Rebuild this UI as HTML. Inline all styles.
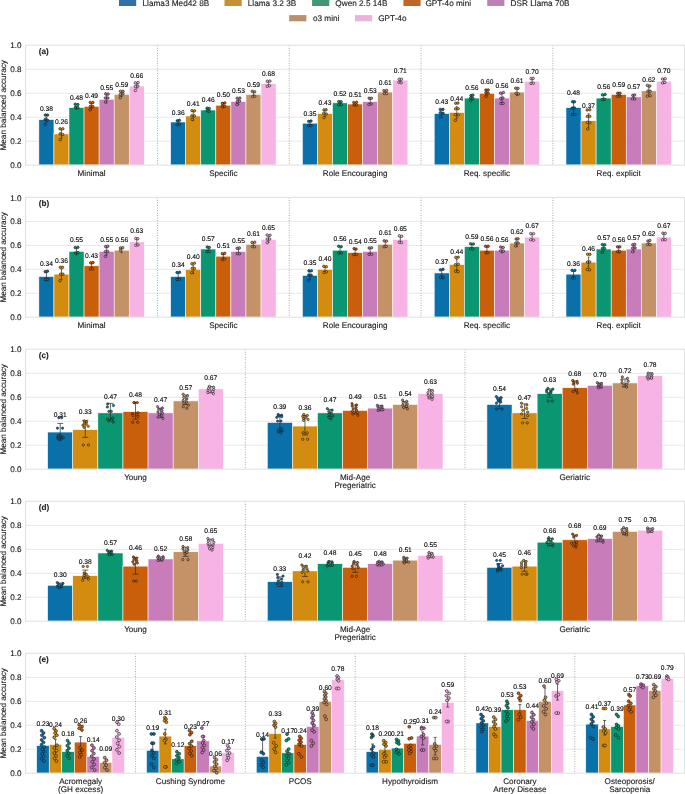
<!DOCTYPE html><html><head><meta charset="utf-8"><style>html,body{margin:0;padding:0;background:#fff;width:685px;height:794px;overflow:hidden}svg{display:block;will-change:transform}text{font-family:"Liberation Sans",sans-serif;text-rendering:geometricPrecision;stroke:currentColor;stroke-width:0.12px}</style></head><body>
<svg width="685" height="794" viewBox="0 0 685 794">
<rect width="685" height="794" fill="#fff"/>
<rect x="119.0" y="-0.2" width="17.2" height="6.2" fill="#3470a3"/>
<text x="142.5" y="5.7" font-size="8.23" fill="#1a1a1a" style="color:#1a1a1a">Llama3 Med42 8B</text>
<rect x="224.5" y="-0.2" width="17.2" height="6.2" fill="#c68f38"/>
<text x="247.79999999999998" y="5.7" font-size="8.23" fill="#1a1a1a" style="color:#1a1a1a">Llama 3.2 3B</text>
<rect x="312.1" y="-0.2" width="17.2" height="6.2" fill="#469574"/>
<text x="335.3" y="5.7" font-size="8.23" fill="#1a1a1a" style="color:#1a1a1a">Qwen 2.5 14B</text>
<rect x="403.4" y="-0.2" width="17.2" height="6.2" fill="#bf6629"/>
<text x="425.40000000000003" y="5.7" font-size="8.23" fill="#1a1a1a" style="color:#1a1a1a">GPT-4o mini</text>
<rect x="487.2" y="-0.2" width="17.2" height="6.2" fill="#bd80b6"/>
<text x="510.6" y="5.7" font-size="8.23" fill="#1a1a1a" style="color:#1a1a1a">DSR Llama 70B</text>
<rect x="289.2" y="15.1" width="17.2" height="6.2" fill="#bb8f6a"/>
<text x="312.90000000000003" y="21.0" font-size="8.23" fill="#1a1a1a" style="color:#1a1a1a">o3 mini</text>
<rect x="355.0" y="15.1" width="17.2" height="6.2" fill="#ecb2de"/>
<text x="378.20000000000005" y="21.0" font-size="8.23" fill="#1a1a1a" style="color:#1a1a1a">GPT-4o</text>
<line x1="25.7" x2="684.6" y1="141.16" y2="141.16" stroke="#e6e6e6" stroke-width="0.9"/>
<line x1="25.7" x2="684.6" y1="117.22" y2="117.22" stroke="#e6e6e6" stroke-width="0.9"/>
<line x1="25.7" x2="684.6" y1="93.28" y2="93.28" stroke="#e6e6e6" stroke-width="0.9"/>
<line x1="25.7" x2="684.6" y1="69.34" y2="69.34" stroke="#e6e6e6" stroke-width="0.9"/>
<line x1="157.48" x2="157.48" y1="45.4" y2="165.1" stroke="#8a8a8a" stroke-width="0.8" stroke-dasharray="0.9 1.6"/>
<line x1="289.26" x2="289.26" y1="45.4" y2="165.1" stroke="#8a8a8a" stroke-width="0.8" stroke-dasharray="0.9 1.6"/>
<line x1="421.04" x2="421.04" y1="45.4" y2="165.1" stroke="#8a8a8a" stroke-width="0.8" stroke-dasharray="0.9 1.6"/>
<line x1="552.82" x2="552.82" y1="45.4" y2="165.1" stroke="#8a8a8a" stroke-width="0.8" stroke-dasharray="0.9 1.6"/>
<rect x="38.88" y="119.61" width="15.06" height="45.49" fill="#0a70a9" stroke="#fff" stroke-width="0.55"/>
<rect x="53.94" y="133.98" width="15.06" height="31.12" fill="#d38c10" stroke="#fff" stroke-width="0.55"/>
<rect x="69.00" y="107.64" width="15.06" height="57.46" fill="#0a9670" stroke="#fff" stroke-width="0.55"/>
<rect x="84.06" y="106.45" width="15.06" height="58.65" fill="#ca5f0b" stroke="#fff" stroke-width="0.55"/>
<rect x="99.12" y="99.27" width="15.06" height="65.83" fill="#c87cb9" stroke="#fff" stroke-width="0.55"/>
<rect x="114.18" y="94.48" width="15.06" height="70.62" fill="#c59166" stroke="#fff" stroke-width="0.55"/>
<rect x="129.24" y="86.10" width="15.06" height="79.00" fill="#f7b3e3" stroke="#fff" stroke-width="0.55"/>
<rect x="170.66" y="122.01" width="15.06" height="43.09" fill="#0a70a9" stroke="#fff" stroke-width="0.55"/>
<rect x="185.72" y="116.02" width="15.06" height="49.08" fill="#d38c10" stroke="#fff" stroke-width="0.55"/>
<rect x="200.78" y="110.04" width="15.06" height="55.06" fill="#0a9670" stroke="#fff" stroke-width="0.55"/>
<rect x="215.84" y="105.25" width="15.06" height="59.85" fill="#ca5f0b" stroke="#fff" stroke-width="0.55"/>
<rect x="230.90" y="101.66" width="15.06" height="63.44" fill="#c87cb9" stroke="#fff" stroke-width="0.55"/>
<rect x="245.96" y="94.48" width="15.06" height="70.62" fill="#c59166" stroke="#fff" stroke-width="0.55"/>
<rect x="261.02" y="83.70" width="15.06" height="81.40" fill="#f7b3e3" stroke="#fff" stroke-width="0.55"/>
<rect x="302.44" y="123.20" width="15.06" height="41.89" fill="#0a70a9" stroke="#fff" stroke-width="0.55"/>
<rect x="317.50" y="113.63" width="15.06" height="51.47" fill="#d38c10" stroke="#fff" stroke-width="0.55"/>
<rect x="332.56" y="102.86" width="15.06" height="62.24" fill="#0a9670" stroke="#fff" stroke-width="0.55"/>
<rect x="347.62" y="104.05" width="15.06" height="61.05" fill="#ca5f0b" stroke="#fff" stroke-width="0.55"/>
<rect x="362.68" y="101.66" width="15.06" height="63.44" fill="#c87cb9" stroke="#fff" stroke-width="0.55"/>
<rect x="377.74" y="92.08" width="15.06" height="73.02" fill="#c59166" stroke="#fff" stroke-width="0.55"/>
<rect x="392.80" y="80.11" width="15.06" height="84.99" fill="#f7b3e3" stroke="#fff" stroke-width="0.55"/>
<rect x="434.22" y="113.63" width="15.06" height="51.47" fill="#0a70a9" stroke="#fff" stroke-width="0.55"/>
<rect x="449.28" y="112.43" width="15.06" height="52.67" fill="#d38c10" stroke="#fff" stroke-width="0.55"/>
<rect x="464.34" y="98.07" width="15.06" height="67.03" fill="#0a9670" stroke="#fff" stroke-width="0.55"/>
<rect x="479.40" y="93.28" width="15.06" height="71.82" fill="#ca5f0b" stroke="#fff" stroke-width="0.55"/>
<rect x="494.46" y="98.07" width="15.06" height="67.03" fill="#c87cb9" stroke="#fff" stroke-width="0.55"/>
<rect x="509.52" y="92.08" width="15.06" height="73.02" fill="#c59166" stroke="#fff" stroke-width="0.55"/>
<rect x="524.58" y="81.31" width="15.06" height="83.79" fill="#f7b3e3" stroke="#fff" stroke-width="0.55"/>
<rect x="566.00" y="107.64" width="15.06" height="57.46" fill="#0a70a9" stroke="#fff" stroke-width="0.55"/>
<rect x="581.06" y="120.81" width="15.06" height="44.29" fill="#d38c10" stroke="#fff" stroke-width="0.55"/>
<rect x="596.12" y="98.07" width="15.06" height="67.03" fill="#0a9670" stroke="#fff" stroke-width="0.55"/>
<rect x="611.18" y="94.48" width="15.06" height="70.62" fill="#ca5f0b" stroke="#fff" stroke-width="0.55"/>
<rect x="626.24" y="96.87" width="15.06" height="68.23" fill="#c87cb9" stroke="#fff" stroke-width="0.55"/>
<rect x="641.30" y="90.89" width="15.06" height="74.21" fill="#c59166" stroke="#fff" stroke-width="0.55"/>
<rect x="656.36" y="81.31" width="15.06" height="83.79" fill="#f7b3e3" stroke="#fff" stroke-width="0.55"/>
<rect x="25.6" y="45.20" width="659.0" height="119.90" fill="none" stroke="#e3e3e3" stroke-width="1.15"/>
<line x1="46.41" x2="46.41" y1="117.00" y2="122.23" stroke="#2a2a2a" stroke-width="0.7"/>
<line x1="45.50" x2="47.31" y1="117.00" y2="117.00" stroke="#2a2a2a" stroke-width="0.7"/>
<line x1="45.50" x2="47.31" y1="122.23" y2="122.23" stroke="#2a2a2a" stroke-width="0.7"/>
<circle cx="45.37" cy="115.04" r="1.25" fill="#0173B2" stroke="#161616" stroke-width="0.6"/>
<circle cx="47.53" cy="115.08" r="1.25" fill="#0173B2" stroke="#161616" stroke-width="0.6"/>
<circle cx="45.13" cy="119.45" r="1.25" fill="#0173B2" stroke="#161616" stroke-width="0.6"/>
<circle cx="47.32" cy="120.07" r="1.25" fill="#0173B2" stroke="#161616" stroke-width="0.6"/>
<circle cx="45.35" cy="124.39" r="1.25" fill="#0173B2" stroke="#161616" stroke-width="0.6"/>
<text x="46.41" y="111.00" font-size="6.7" text-anchor="middle" fill="#000" style="color:#000">0.38</text>
<line x1="61.47" x2="61.47" y1="129.80" y2="138.16" stroke="#2a2a2a" stroke-width="0.7"/>
<line x1="60.57" x2="62.37" y1="129.80" y2="129.80" stroke="#2a2a2a" stroke-width="0.7"/>
<line x1="60.57" x2="62.37" y1="138.16" y2="138.16" stroke="#2a2a2a" stroke-width="0.7"/>
<circle cx="59.97" cy="128.78" r="1.25" fill="#DE8F05" stroke="#161616" stroke-width="0.6"/>
<circle cx="62.87" cy="128.78" r="1.25" fill="#DE8F05" stroke="#161616" stroke-width="0.6"/>
<circle cx="60.19" cy="133.87" r="1.25" fill="#DE8F05" stroke="#161616" stroke-width="0.6"/>
<circle cx="62.75" cy="134.44" r="1.25" fill="#DE8F05" stroke="#161616" stroke-width="0.6"/>
<circle cx="60.25" cy="139.69" r="1.25" fill="#DE8F05" stroke="#161616" stroke-width="0.6"/>
<text x="61.47" y="123.80" font-size="6.7" text-anchor="middle" fill="#000" style="color:#000">0.26</text>
<line x1="76.53" x2="76.53" y1="106.00" y2="109.29" stroke="#2a2a2a" stroke-width="0.7"/>
<line x1="75.63" x2="77.43" y1="106.00" y2="106.00" stroke="#2a2a2a" stroke-width="0.7"/>
<line x1="75.63" x2="77.43" y1="109.29" y2="109.29" stroke="#2a2a2a" stroke-width="0.7"/>
<circle cx="75.23" cy="104.15" r="1.25" fill="#029E73" stroke="#161616" stroke-width="0.6"/>
<circle cx="77.88" cy="104.57" r="1.25" fill="#029E73" stroke="#161616" stroke-width="0.6"/>
<circle cx="75.45" cy="107.32" r="1.25" fill="#029E73" stroke="#161616" stroke-width="0.6"/>
<circle cx="77.95" cy="107.68" r="1.25" fill="#029E73" stroke="#161616" stroke-width="0.6"/>
<text x="76.53" y="100.00" font-size="6.7" text-anchor="middle" fill="#000" style="color:#000">0.48</text>
<line x1="91.59" x2="91.59" y1="103.60" y2="109.29" stroke="#2a2a2a" stroke-width="0.7"/>
<line x1="90.69" x2="92.49" y1="103.60" y2="103.60" stroke="#2a2a2a" stroke-width="0.7"/>
<line x1="90.69" x2="92.49" y1="109.29" y2="109.29" stroke="#2a2a2a" stroke-width="0.7"/>
<circle cx="90.26" cy="102.40" r="1.25" fill="#D55E00" stroke="#161616" stroke-width="0.6"/>
<circle cx="92.92" cy="102.44" r="1.25" fill="#D55E00" stroke="#161616" stroke-width="0.6"/>
<circle cx="90.45" cy="106.34" r="1.25" fill="#D55E00" stroke="#161616" stroke-width="0.6"/>
<circle cx="92.76" cy="106.45" r="1.25" fill="#D55E00" stroke="#161616" stroke-width="0.6"/>
<circle cx="90.16" cy="109.78" r="1.25" fill="#D55E00" stroke="#161616" stroke-width="0.6"/>
<text x="91.59" y="97.60" font-size="6.7" text-anchor="middle" fill="#000" style="color:#000">0.49</text>
<line x1="106.65" x2="106.65" y1="95.60" y2="102.93" stroke="#2a2a2a" stroke-width="0.7"/>
<line x1="105.75" x2="107.55" y1="95.60" y2="95.60" stroke="#2a2a2a" stroke-width="0.7"/>
<line x1="105.75" x2="107.55" y1="102.93" y2="102.93" stroke="#2a2a2a" stroke-width="0.7"/>
<circle cx="105.67" cy="93.87" r="1.25" fill="#CC78BC" stroke="#161616" stroke-width="0.6"/>
<circle cx="108.13" cy="94.05" r="1.25" fill="#CC78BC" stroke="#161616" stroke-width="0.6"/>
<circle cx="105.37" cy="97.94" r="1.25" fill="#CC78BC" stroke="#161616" stroke-width="0.6"/>
<circle cx="107.85" cy="98.01" r="1.25" fill="#CC78BC" stroke="#161616" stroke-width="0.6"/>
<circle cx="105.54" cy="102.17" r="1.25" fill="#CC78BC" stroke="#161616" stroke-width="0.6"/>
<text x="106.65" y="89.60" font-size="6.7" text-anchor="middle" fill="#000" style="color:#000">0.55</text>
<line x1="121.71" x2="121.71" y1="92.50" y2="96.45" stroke="#2a2a2a" stroke-width="0.7"/>
<line x1="120.81" x2="122.61" y1="92.50" y2="92.50" stroke="#2a2a2a" stroke-width="0.7"/>
<line x1="120.81" x2="122.61" y1="96.45" y2="96.45" stroke="#2a2a2a" stroke-width="0.7"/>
<circle cx="120.46" cy="91.22" r="1.25" fill="#CA9161" stroke="#161616" stroke-width="0.6"/>
<circle cx="123.02" cy="91.24" r="1.25" fill="#CA9161" stroke="#161616" stroke-width="0.6"/>
<circle cx="120.30" cy="94.49" r="1.25" fill="#CA9161" stroke="#161616" stroke-width="0.6"/>
<circle cx="123.01" cy="93.83" r="1.25" fill="#CA9161" stroke="#161616" stroke-width="0.6"/>
<circle cx="120.29" cy="97.67" r="1.25" fill="#CA9161" stroke="#161616" stroke-width="0.6"/>
<text x="121.71" y="86.50" font-size="6.7" text-anchor="middle" fill="#000" style="color:#000">0.59</text>
<line x1="136.77" x2="136.77" y1="84.00" y2="88.20" stroke="#2a2a2a" stroke-width="0.7"/>
<line x1="135.87" x2="137.68" y1="84.00" y2="84.00" stroke="#2a2a2a" stroke-width="0.7"/>
<line x1="135.87" x2="137.68" y1="88.20" y2="88.20" stroke="#2a2a2a" stroke-width="0.7"/>
<circle cx="135.33" cy="82.86" r="1.25" fill="#FBAFE4" stroke="#161616" stroke-width="0.6"/>
<circle cx="138.10" cy="82.57" r="1.25" fill="#FBAFE4" stroke="#161616" stroke-width="0.6"/>
<circle cx="135.37" cy="86.51" r="1.25" fill="#FBAFE4" stroke="#161616" stroke-width="0.6"/>
<circle cx="137.84" cy="86.10" r="1.25" fill="#FBAFE4" stroke="#161616" stroke-width="0.6"/>
<circle cx="135.36" cy="90.49" r="1.25" fill="#FBAFE4" stroke="#161616" stroke-width="0.6"/>
<text x="136.77" y="78.00" font-size="6.7" text-anchor="middle" fill="#000" style="color:#000">0.66</text>
<line x1="178.19" x2="178.19" y1="120.50" y2="123.52" stroke="#2a2a2a" stroke-width="0.7"/>
<line x1="177.28" x2="179.09" y1="120.50" y2="120.50" stroke="#2a2a2a" stroke-width="0.7"/>
<line x1="177.28" x2="179.09" y1="123.52" y2="123.52" stroke="#2a2a2a" stroke-width="0.7"/>
<circle cx="177.24" cy="120.84" r="1.25" fill="#0173B2" stroke="#161616" stroke-width="0.6"/>
<circle cx="179.33" cy="120.32" r="1.25" fill="#0173B2" stroke="#161616" stroke-width="0.6"/>
<circle cx="177.11" cy="124.82" r="1.25" fill="#0173B2" stroke="#161616" stroke-width="0.6"/>
<circle cx="179.61" cy="124.24" r="1.25" fill="#0173B2" stroke="#161616" stroke-width="0.6"/>
<text x="178.19" y="114.50" font-size="6.7" text-anchor="middle" fill="#000" style="color:#000">0.36</text>
<line x1="193.25" x2="193.25" y1="111.70" y2="120.35" stroke="#2a2a2a" stroke-width="0.7"/>
<line x1="192.35" x2="194.15" y1="111.70" y2="111.70" stroke="#2a2a2a" stroke-width="0.7"/>
<line x1="192.35" x2="194.15" y1="120.35" y2="120.35" stroke="#2a2a2a" stroke-width="0.7"/>
<circle cx="191.98" cy="110.64" r="1.25" fill="#DE8F05" stroke="#161616" stroke-width="0.6"/>
<circle cx="194.58" cy="110.86" r="1.25" fill="#DE8F05" stroke="#161616" stroke-width="0.6"/>
<circle cx="191.82" cy="115.78" r="1.25" fill="#DE8F05" stroke="#161616" stroke-width="0.6"/>
<circle cx="194.45" cy="115.80" r="1.25" fill="#DE8F05" stroke="#161616" stroke-width="0.6"/>
<circle cx="192.16" cy="119.46" r="1.25" fill="#DE8F05" stroke="#161616" stroke-width="0.6"/>
<text x="193.25" y="105.70" font-size="6.7" text-anchor="middle" fill="#000" style="color:#000">0.41</text>
<line x1="208.31" x2="208.31" y1="108.10" y2="111.98" stroke="#2a2a2a" stroke-width="0.7"/>
<line x1="207.41" x2="209.21" y1="108.10" y2="108.10" stroke="#2a2a2a" stroke-width="0.7"/>
<line x1="207.41" x2="209.21" y1="111.98" y2="111.98" stroke="#2a2a2a" stroke-width="0.7"/>
<circle cx="207.05" cy="108.13" r="1.25" fill="#029E73" stroke="#161616" stroke-width="0.6"/>
<circle cx="209.33" cy="108.43" r="1.25" fill="#029E73" stroke="#161616" stroke-width="0.6"/>
<circle cx="207.04" cy="110.72" r="1.25" fill="#029E73" stroke="#161616" stroke-width="0.6"/>
<circle cx="209.23" cy="111.29" r="1.25" fill="#029E73" stroke="#161616" stroke-width="0.6"/>
<text x="208.31" y="102.10" font-size="6.7" text-anchor="middle" fill="#000" style="color:#000">0.46</text>
<line x1="223.37" x2="223.37" y1="102.50" y2="108.00" stroke="#2a2a2a" stroke-width="0.7"/>
<line x1="222.47" x2="224.27" y1="102.50" y2="102.50" stroke="#2a2a2a" stroke-width="0.7"/>
<line x1="222.47" x2="224.27" y1="108.00" y2="108.00" stroke="#2a2a2a" stroke-width="0.7"/>
<circle cx="222.28" cy="103.37" r="1.25" fill="#D55E00" stroke="#161616" stroke-width="0.6"/>
<circle cx="224.81" cy="102.90" r="1.25" fill="#D55E00" stroke="#161616" stroke-width="0.6"/>
<circle cx="222.19" cy="106.12" r="1.25" fill="#D55E00" stroke="#161616" stroke-width="0.6"/>
<circle cx="224.66" cy="106.18" r="1.25" fill="#D55E00" stroke="#161616" stroke-width="0.6"/>
<text x="223.37" y="96.50" font-size="6.7" text-anchor="middle" fill="#000" style="color:#000">0.50</text>
<line x1="238.43" x2="238.43" y1="98.50" y2="104.82" stroke="#2a2a2a" stroke-width="0.7"/>
<line x1="237.53" x2="239.33" y1="98.50" y2="98.50" stroke="#2a2a2a" stroke-width="0.7"/>
<line x1="237.53" x2="239.33" y1="104.82" y2="104.82" stroke="#2a2a2a" stroke-width="0.7"/>
<circle cx="237.20" cy="98.20" r="1.25" fill="#CC78BC" stroke="#161616" stroke-width="0.6"/>
<circle cx="239.89" cy="98.11" r="1.25" fill="#CC78BC" stroke="#161616" stroke-width="0.6"/>
<circle cx="237.27" cy="101.48" r="1.25" fill="#CC78BC" stroke="#161616" stroke-width="0.6"/>
<circle cx="239.47" cy="101.14" r="1.25" fill="#CC78BC" stroke="#161616" stroke-width="0.6"/>
<circle cx="236.94" cy="104.52" r="1.25" fill="#CC78BC" stroke="#161616" stroke-width="0.6"/>
<text x="238.43" y="92.50" font-size="6.7" text-anchor="middle" fill="#000" style="color:#000">0.53</text>
<line x1="253.49" x2="253.49" y1="92.50" y2="96.45" stroke="#2a2a2a" stroke-width="0.7"/>
<line x1="252.59" x2="254.39" y1="92.50" y2="92.50" stroke="#2a2a2a" stroke-width="0.7"/>
<line x1="252.59" x2="254.39" y1="96.45" y2="96.45" stroke="#2a2a2a" stroke-width="0.7"/>
<circle cx="252.26" cy="91.31" r="1.25" fill="#CA9161" stroke="#161616" stroke-width="0.6"/>
<circle cx="254.64" cy="91.76" r="1.25" fill="#CA9161" stroke="#161616" stroke-width="0.6"/>
<circle cx="252.58" cy="96.59" r="1.25" fill="#CA9161" stroke="#161616" stroke-width="0.6"/>
<circle cx="254.77" cy="96.15" r="1.25" fill="#CA9161" stroke="#161616" stroke-width="0.6"/>
<text x="253.49" y="86.50" font-size="6.7" text-anchor="middle" fill="#000" style="color:#000">0.59</text>
<line x1="268.55" x2="268.55" y1="81.60" y2="85.81" stroke="#2a2a2a" stroke-width="0.7"/>
<line x1="267.65" x2="269.46" y1="81.60" y2="81.60" stroke="#2a2a2a" stroke-width="0.7"/>
<line x1="267.65" x2="269.46" y1="85.81" y2="85.81" stroke="#2a2a2a" stroke-width="0.7"/>
<circle cx="267.28" cy="81.17" r="1.25" fill="#FBAFE4" stroke="#161616" stroke-width="0.6"/>
<circle cx="269.86" cy="81.08" r="1.25" fill="#FBAFE4" stroke="#161616" stroke-width="0.6"/>
<circle cx="267.23" cy="86.29" r="1.25" fill="#FBAFE4" stroke="#161616" stroke-width="0.6"/>
<circle cx="269.47" cy="85.75" r="1.25" fill="#FBAFE4" stroke="#161616" stroke-width="0.6"/>
<text x="268.55" y="75.60" font-size="6.7" text-anchor="middle" fill="#000" style="color:#000">0.68</text>
<line x1="309.97" x2="309.97" y1="121.70" y2="124.71" stroke="#2a2a2a" stroke-width="0.7"/>
<line x1="309.06" x2="310.87" y1="121.70" y2="121.70" stroke="#2a2a2a" stroke-width="0.7"/>
<line x1="309.06" x2="310.87" y1="124.71" y2="124.71" stroke="#2a2a2a" stroke-width="0.7"/>
<circle cx="308.66" cy="121.37" r="1.25" fill="#0173B2" stroke="#161616" stroke-width="0.6"/>
<circle cx="311.02" cy="120.97" r="1.25" fill="#0173B2" stroke="#161616" stroke-width="0.6"/>
<circle cx="308.71" cy="125.66" r="1.25" fill="#0173B2" stroke="#161616" stroke-width="0.6"/>
<circle cx="311.09" cy="125.65" r="1.25" fill="#0173B2" stroke="#161616" stroke-width="0.6"/>
<text x="309.97" y="115.70" font-size="6.7" text-anchor="middle" fill="#000" style="color:#000">0.35</text>
<line x1="325.03" x2="325.03" y1="110.60" y2="116.66" stroke="#2a2a2a" stroke-width="0.7"/>
<line x1="324.13" x2="325.93" y1="110.60" y2="110.60" stroke="#2a2a2a" stroke-width="0.7"/>
<line x1="324.13" x2="325.93" y1="116.66" y2="116.66" stroke="#2a2a2a" stroke-width="0.7"/>
<circle cx="323.91" cy="109.88" r="1.25" fill="#DE8F05" stroke="#161616" stroke-width="0.6"/>
<circle cx="326.11" cy="109.70" r="1.25" fill="#DE8F05" stroke="#161616" stroke-width="0.6"/>
<circle cx="323.67" cy="113.42" r="1.25" fill="#DE8F05" stroke="#161616" stroke-width="0.6"/>
<circle cx="326.27" cy="113.99" r="1.25" fill="#DE8F05" stroke="#161616" stroke-width="0.6"/>
<circle cx="323.94" cy="117.58" r="1.25" fill="#DE8F05" stroke="#161616" stroke-width="0.6"/>
<text x="325.03" y="104.60" font-size="6.7" text-anchor="middle" fill="#000" style="color:#000">0.43</text>
<line x1="340.09" x2="340.09" y1="101.70" y2="104.01" stroke="#2a2a2a" stroke-width="0.7"/>
<line x1="339.19" x2="340.99" y1="101.70" y2="101.70" stroke="#2a2a2a" stroke-width="0.7"/>
<line x1="339.19" x2="340.99" y1="104.01" y2="104.01" stroke="#2a2a2a" stroke-width="0.7"/>
<circle cx="338.71" cy="101.59" r="1.25" fill="#029E73" stroke="#161616" stroke-width="0.6"/>
<circle cx="341.10" cy="101.75" r="1.25" fill="#029E73" stroke="#161616" stroke-width="0.6"/>
<circle cx="338.77" cy="104.68" r="1.25" fill="#029E73" stroke="#161616" stroke-width="0.6"/>
<circle cx="341.18" cy="104.87" r="1.25" fill="#029E73" stroke="#161616" stroke-width="0.6"/>
<text x="340.09" y="95.70" font-size="6.7" text-anchor="middle" fill="#000" style="color:#000">0.52</text>
<line x1="355.15" x2="355.15" y1="102.50" y2="105.61" stroke="#2a2a2a" stroke-width="0.7"/>
<line x1="354.25" x2="356.05" y1="102.50" y2="102.50" stroke="#2a2a2a" stroke-width="0.7"/>
<line x1="354.25" x2="356.05" y1="105.61" y2="105.61" stroke="#2a2a2a" stroke-width="0.7"/>
<circle cx="353.75" cy="102.55" r="1.25" fill="#D55E00" stroke="#161616" stroke-width="0.6"/>
<circle cx="356.56" cy="102.34" r="1.25" fill="#D55E00" stroke="#161616" stroke-width="0.6"/>
<circle cx="354.05" cy="105.12" r="1.25" fill="#D55E00" stroke="#161616" stroke-width="0.6"/>
<circle cx="356.58" cy="104.96" r="1.25" fill="#D55E00" stroke="#161616" stroke-width="0.6"/>
<text x="355.15" y="96.50" font-size="6.7" text-anchor="middle" fill="#000" style="color:#000">0.51</text>
<line x1="370.21" x2="370.21" y1="98.90" y2="104.42" stroke="#2a2a2a" stroke-width="0.7"/>
<line x1="369.31" x2="371.11" y1="98.90" y2="98.90" stroke="#2a2a2a" stroke-width="0.7"/>
<line x1="369.31" x2="371.11" y1="104.42" y2="104.42" stroke="#2a2a2a" stroke-width="0.7"/>
<circle cx="369.18" cy="98.20" r="1.25" fill="#CC78BC" stroke="#161616" stroke-width="0.6"/>
<circle cx="371.43" cy="98.25" r="1.25" fill="#CC78BC" stroke="#161616" stroke-width="0.6"/>
<circle cx="368.83" cy="104.47" r="1.25" fill="#CC78BC" stroke="#161616" stroke-width="0.6"/>
<circle cx="371.22" cy="104.02" r="1.25" fill="#CC78BC" stroke="#161616" stroke-width="0.6"/>
<text x="370.21" y="92.90" font-size="6.7" text-anchor="middle" fill="#000" style="color:#000">0.53</text>
<line x1="385.27" x2="385.27" y1="90.90" y2="93.27" stroke="#2a2a2a" stroke-width="0.7"/>
<line x1="384.37" x2="386.17" y1="90.90" y2="90.90" stroke="#2a2a2a" stroke-width="0.7"/>
<line x1="384.37" x2="386.17" y1="93.27" y2="93.27" stroke="#2a2a2a" stroke-width="0.7"/>
<circle cx="383.89" cy="90.61" r="1.25" fill="#CA9161" stroke="#161616" stroke-width="0.6"/>
<circle cx="386.65" cy="90.38" r="1.25" fill="#CA9161" stroke="#161616" stroke-width="0.6"/>
<circle cx="384.29" cy="93.53" r="1.25" fill="#CA9161" stroke="#161616" stroke-width="0.6"/>
<circle cx="386.65" cy="93.52" r="1.25" fill="#CA9161" stroke="#161616" stroke-width="0.6"/>
<text x="385.27" y="84.90" font-size="6.7" text-anchor="middle" fill="#000" style="color:#000">0.61</text>
<line x1="400.33" x2="400.33" y1="78.80" y2="81.43" stroke="#2a2a2a" stroke-width="0.7"/>
<line x1="399.43" x2="401.24" y1="78.80" y2="78.80" stroke="#2a2a2a" stroke-width="0.7"/>
<line x1="399.43" x2="401.24" y1="81.43" y2="81.43" stroke="#2a2a2a" stroke-width="0.7"/>
<circle cx="399.22" cy="79.23" r="1.25" fill="#FBAFE4" stroke="#161616" stroke-width="0.6"/>
<circle cx="401.48" cy="79.23" r="1.25" fill="#FBAFE4" stroke="#161616" stroke-width="0.6"/>
<circle cx="398.88" cy="82.22" r="1.25" fill="#FBAFE4" stroke="#161616" stroke-width="0.6"/>
<circle cx="401.23" cy="82.85" r="1.25" fill="#FBAFE4" stroke="#161616" stroke-width="0.6"/>
<text x="400.33" y="72.80" font-size="6.7" text-anchor="middle" fill="#000" style="color:#000">0.71</text>
<line x1="441.75" x2="441.75" y1="109.70" y2="117.56" stroke="#2a2a2a" stroke-width="0.7"/>
<line x1="440.84" x2="442.65" y1="109.70" y2="109.70" stroke="#2a2a2a" stroke-width="0.7"/>
<line x1="440.84" x2="442.65" y1="117.56" y2="117.56" stroke="#2a2a2a" stroke-width="0.7"/>
<circle cx="440.32" cy="109.39" r="1.25" fill="#0173B2" stroke="#161616" stroke-width="0.6"/>
<circle cx="442.91" cy="109.36" r="1.25" fill="#0173B2" stroke="#161616" stroke-width="0.6"/>
<circle cx="440.29" cy="112.78" r="1.25" fill="#0173B2" stroke="#161616" stroke-width="0.6"/>
<circle cx="443.10" cy="113.27" r="1.25" fill="#0173B2" stroke="#161616" stroke-width="0.6"/>
<circle cx="440.45" cy="117.02" r="1.25" fill="#0173B2" stroke="#161616" stroke-width="0.6"/>
<text x="441.75" y="103.70" font-size="6.7" text-anchor="middle" fill="#000" style="color:#000">0.43</text>
<line x1="456.81" x2="456.81" y1="106.60" y2="118.26" stroke="#2a2a2a" stroke-width="0.7"/>
<line x1="455.91" x2="457.71" y1="106.60" y2="106.60" stroke="#2a2a2a" stroke-width="0.7"/>
<line x1="455.91" x2="457.71" y1="118.26" y2="118.26" stroke="#2a2a2a" stroke-width="0.7"/>
<circle cx="455.74" cy="103.27" r="1.25" fill="#DE8F05" stroke="#161616" stroke-width="0.6"/>
<circle cx="457.85" cy="103.05" r="1.25" fill="#DE8F05" stroke="#161616" stroke-width="0.6"/>
<circle cx="455.56" cy="108.83" r="1.25" fill="#DE8F05" stroke="#161616" stroke-width="0.6"/>
<circle cx="458.19" cy="108.64" r="1.25" fill="#DE8F05" stroke="#161616" stroke-width="0.6"/>
<circle cx="455.37" cy="114.75" r="1.25" fill="#DE8F05" stroke="#161616" stroke-width="0.6"/>
<circle cx="458.26" cy="114.92" r="1.25" fill="#DE8F05" stroke="#161616" stroke-width="0.6"/>
<circle cx="455.37" cy="120.26" r="1.25" fill="#DE8F05" stroke="#161616" stroke-width="0.6"/>
<text x="456.81" y="100.60" font-size="6.7" text-anchor="middle" fill="#000" style="color:#000">0.44</text>
<line x1="471.87" x2="471.87" y1="96.00" y2="100.14" stroke="#2a2a2a" stroke-width="0.7"/>
<line x1="470.97" x2="472.77" y1="96.00" y2="96.00" stroke="#2a2a2a" stroke-width="0.7"/>
<line x1="470.97" x2="472.77" y1="100.14" y2="100.14" stroke="#2a2a2a" stroke-width="0.7"/>
<circle cx="470.96" cy="95.50" r="1.25" fill="#029E73" stroke="#161616" stroke-width="0.6"/>
<circle cx="472.87" cy="95.14" r="1.25" fill="#029E73" stroke="#161616" stroke-width="0.6"/>
<circle cx="470.57" cy="98.17" r="1.25" fill="#029E73" stroke="#161616" stroke-width="0.6"/>
<circle cx="473.02" cy="98.50" r="1.25" fill="#029E73" stroke="#161616" stroke-width="0.6"/>
<circle cx="470.60" cy="100.87" r="1.25" fill="#029E73" stroke="#161616" stroke-width="0.6"/>
<text x="471.87" y="90.00" font-size="6.7" text-anchor="middle" fill="#000" style="color:#000">0.56</text>
<line x1="486.93" x2="486.93" y1="90.40" y2="96.16" stroke="#2a2a2a" stroke-width="0.7"/>
<line x1="486.03" x2="487.83" y1="90.40" y2="90.40" stroke="#2a2a2a" stroke-width="0.7"/>
<line x1="486.03" x2="487.83" y1="96.16" y2="96.16" stroke="#2a2a2a" stroke-width="0.7"/>
<circle cx="485.88" cy="89.99" r="1.25" fill="#D55E00" stroke="#161616" stroke-width="0.6"/>
<circle cx="488.12" cy="89.93" r="1.25" fill="#D55E00" stroke="#161616" stroke-width="0.6"/>
<circle cx="485.82" cy="92.66" r="1.25" fill="#D55E00" stroke="#161616" stroke-width="0.6"/>
<circle cx="488.15" cy="93.15" r="1.25" fill="#D55E00" stroke="#161616" stroke-width="0.6"/>
<circle cx="485.93" cy="96.33" r="1.25" fill="#D55E00" stroke="#161616" stroke-width="0.6"/>
<text x="486.93" y="84.40" font-size="6.7" text-anchor="middle" fill="#000" style="color:#000">0.60</text>
<line x1="501.99" x2="501.99" y1="93.80" y2="102.34" stroke="#2a2a2a" stroke-width="0.7"/>
<line x1="501.09" x2="502.89" y1="93.80" y2="93.80" stroke="#2a2a2a" stroke-width="0.7"/>
<line x1="501.09" x2="502.89" y1="102.34" y2="102.34" stroke="#2a2a2a" stroke-width="0.7"/>
<circle cx="500.54" cy="93.14" r="1.25" fill="#CC78BC" stroke="#161616" stroke-width="0.6"/>
<circle cx="503.38" cy="92.51" r="1.25" fill="#CC78BC" stroke="#161616" stroke-width="0.6"/>
<circle cx="500.71" cy="98.44" r="1.25" fill="#CC78BC" stroke="#161616" stroke-width="0.6"/>
<circle cx="502.92" cy="97.97" r="1.25" fill="#CC78BC" stroke="#161616" stroke-width="0.6"/>
<circle cx="500.93" cy="103.42" r="1.25" fill="#CC78BC" stroke="#161616" stroke-width="0.6"/>
<circle cx="503.14" cy="103.38" r="1.25" fill="#CC78BC" stroke="#161616" stroke-width="0.6"/>
<text x="501.99" y="87.80" font-size="6.7" text-anchor="middle" fill="#000" style="color:#000">0.56</text>
<line x1="517.05" x2="517.05" y1="88.50" y2="95.67" stroke="#2a2a2a" stroke-width="0.7"/>
<line x1="516.15" x2="517.95" y1="88.50" y2="88.50" stroke="#2a2a2a" stroke-width="0.7"/>
<line x1="516.15" x2="517.95" y1="95.67" y2="95.67" stroke="#2a2a2a" stroke-width="0.7"/>
<circle cx="515.69" cy="88.20" r="1.25" fill="#CA9161" stroke="#161616" stroke-width="0.6"/>
<circle cx="517.98" cy="88.30" r="1.25" fill="#CA9161" stroke="#161616" stroke-width="0.6"/>
<circle cx="516.08" cy="93.35" r="1.25" fill="#CA9161" stroke="#161616" stroke-width="0.6"/>
<circle cx="518.54" cy="93.98" r="1.25" fill="#CA9161" stroke="#161616" stroke-width="0.6"/>
<text x="517.05" y="82.50" font-size="6.7" text-anchor="middle" fill="#000" style="color:#000">0.61</text>
<line x1="532.11" x2="532.11" y1="79.70" y2="82.92" stroke="#2a2a2a" stroke-width="0.7"/>
<line x1="531.21" x2="533.02" y1="79.70" y2="79.70" stroke="#2a2a2a" stroke-width="0.7"/>
<line x1="531.21" x2="533.02" y1="82.92" y2="82.92" stroke="#2a2a2a" stroke-width="0.7"/>
<circle cx="531.16" cy="78.50" r="1.25" fill="#FBAFE4" stroke="#161616" stroke-width="0.6"/>
<circle cx="533.20" cy="78.35" r="1.25" fill="#FBAFE4" stroke="#161616" stroke-width="0.6"/>
<circle cx="531.00" cy="83.42" r="1.25" fill="#FBAFE4" stroke="#161616" stroke-width="0.6"/>
<circle cx="533.36" cy="83.19" r="1.25" fill="#FBAFE4" stroke="#161616" stroke-width="0.6"/>
<text x="532.11" y="73.70" font-size="6.7" text-anchor="middle" fill="#000" style="color:#000">0.70</text>
<line x1="573.53" x2="573.53" y1="101.30" y2="113.99" stroke="#2a2a2a" stroke-width="0.7"/>
<line x1="572.62" x2="574.43" y1="101.30" y2="101.30" stroke="#2a2a2a" stroke-width="0.7"/>
<line x1="572.62" x2="574.43" y1="113.99" y2="113.99" stroke="#2a2a2a" stroke-width="0.7"/>
<circle cx="572.51" cy="101.66" r="1.25" fill="#0173B2" stroke="#161616" stroke-width="0.6"/>
<circle cx="574.50" cy="101.84" r="1.25" fill="#0173B2" stroke="#161616" stroke-width="0.6"/>
<circle cx="572.20" cy="108.10" r="1.25" fill="#0173B2" stroke="#161616" stroke-width="0.6"/>
<circle cx="574.48" cy="107.94" r="1.25" fill="#0173B2" stroke="#161616" stroke-width="0.6"/>
<circle cx="572.40" cy="114.68" r="1.25" fill="#0173B2" stroke="#161616" stroke-width="0.6"/>
<circle cx="574.90" cy="114.50" r="1.25" fill="#0173B2" stroke="#161616" stroke-width="0.6"/>
<text x="573.53" y="95.30" font-size="6.7" text-anchor="middle" fill="#000" style="color:#000">0.48</text>
<line x1="588.59" x2="588.59" y1="113.70" y2="127.92" stroke="#2a2a2a" stroke-width="0.7"/>
<line x1="587.69" x2="589.49" y1="113.70" y2="113.70" stroke="#2a2a2a" stroke-width="0.7"/>
<line x1="587.69" x2="589.49" y1="127.92" y2="127.92" stroke="#2a2a2a" stroke-width="0.7"/>
<circle cx="587.21" cy="109.90" r="1.25" fill="#DE8F05" stroke="#161616" stroke-width="0.6"/>
<circle cx="589.75" cy="109.70" r="1.25" fill="#DE8F05" stroke="#161616" stroke-width="0.6"/>
<circle cx="587.39" cy="116.36" r="1.25" fill="#DE8F05" stroke="#161616" stroke-width="0.6"/>
<circle cx="589.74" cy="116.36" r="1.25" fill="#DE8F05" stroke="#161616" stroke-width="0.6"/>
<circle cx="587.41" cy="122.40" r="1.25" fill="#DE8F05" stroke="#161616" stroke-width="0.6"/>
<circle cx="589.81" cy="122.76" r="1.25" fill="#DE8F05" stroke="#161616" stroke-width="0.6"/>
<circle cx="587.65" cy="128.94" r="1.25" fill="#DE8F05" stroke="#161616" stroke-width="0.6"/>
<text x="588.59" y="107.70" font-size="6.7" text-anchor="middle" fill="#000" style="color:#000">0.37</text>
<line x1="603.65" x2="603.65" y1="95.40" y2="100.74" stroke="#2a2a2a" stroke-width="0.7"/>
<line x1="602.75" x2="604.55" y1="95.40" y2="95.40" stroke="#2a2a2a" stroke-width="0.7"/>
<line x1="602.75" x2="604.55" y1="100.74" y2="100.74" stroke="#2a2a2a" stroke-width="0.7"/>
<circle cx="602.49" cy="94.80" r="1.25" fill="#029E73" stroke="#161616" stroke-width="0.6"/>
<circle cx="605.11" cy="94.40" r="1.25" fill="#029E73" stroke="#161616" stroke-width="0.6"/>
<circle cx="602.21" cy="99.53" r="1.25" fill="#029E73" stroke="#161616" stroke-width="0.6"/>
<circle cx="604.71" cy="99.27" r="1.25" fill="#029E73" stroke="#161616" stroke-width="0.6"/>
<text x="603.65" y="89.40" font-size="6.7" text-anchor="middle" fill="#000" style="color:#000">0.56</text>
<line x1="618.71" x2="618.71" y1="92.50" y2="96.45" stroke="#2a2a2a" stroke-width="0.7"/>
<line x1="617.81" x2="619.61" y1="92.50" y2="92.50" stroke="#2a2a2a" stroke-width="0.7"/>
<line x1="617.81" x2="619.61" y1="96.45" y2="96.45" stroke="#2a2a2a" stroke-width="0.7"/>
<circle cx="617.74" cy="93.15" r="1.25" fill="#D55E00" stroke="#161616" stroke-width="0.6"/>
<circle cx="620.01" cy="93.21" r="1.25" fill="#D55E00" stroke="#161616" stroke-width="0.6"/>
<circle cx="617.33" cy="96.23" r="1.25" fill="#D55E00" stroke="#161616" stroke-width="0.6"/>
<circle cx="620.05" cy="96.15" r="1.25" fill="#D55E00" stroke="#161616" stroke-width="0.6"/>
<text x="618.71" y="86.50" font-size="6.7" text-anchor="middle" fill="#000" style="color:#000">0.59</text>
<line x1="633.77" x2="633.77" y1="95.20" y2="98.54" stroke="#2a2a2a" stroke-width="0.7"/>
<line x1="632.87" x2="634.67" y1="95.20" y2="95.20" stroke="#2a2a2a" stroke-width="0.7"/>
<line x1="632.87" x2="634.67" y1="98.54" y2="98.54" stroke="#2a2a2a" stroke-width="0.7"/>
<circle cx="632.81" cy="95.37" r="1.25" fill="#CC78BC" stroke="#161616" stroke-width="0.6"/>
<circle cx="634.67" cy="95.01" r="1.25" fill="#CC78BC" stroke="#161616" stroke-width="0.6"/>
<circle cx="632.41" cy="98.94" r="1.25" fill="#CC78BC" stroke="#161616" stroke-width="0.6"/>
<circle cx="634.73" cy="98.98" r="1.25" fill="#CC78BC" stroke="#161616" stroke-width="0.6"/>
<text x="633.77" y="89.20" font-size="6.7" text-anchor="middle" fill="#000" style="color:#000">0.57</text>
<line x1="648.83" x2="648.83" y1="87.70" y2="94.07" stroke="#2a2a2a" stroke-width="0.7"/>
<line x1="647.93" x2="649.73" y1="87.70" y2="87.70" stroke="#2a2a2a" stroke-width="0.7"/>
<line x1="647.93" x2="649.73" y1="94.07" y2="94.07" stroke="#2a2a2a" stroke-width="0.7"/>
<circle cx="647.40" cy="85.44" r="1.25" fill="#CA9161" stroke="#161616" stroke-width="0.6"/>
<circle cx="649.75" cy="85.97" r="1.25" fill="#CA9161" stroke="#161616" stroke-width="0.6"/>
<circle cx="647.86" cy="91.18" r="1.25" fill="#CA9161" stroke="#161616" stroke-width="0.6"/>
<circle cx="650.14" cy="91.17" r="1.25" fill="#CA9161" stroke="#161616" stroke-width="0.6"/>
<circle cx="647.36" cy="96.16" r="1.25" fill="#CA9161" stroke="#161616" stroke-width="0.6"/>
<circle cx="650.21" cy="95.73" r="1.25" fill="#CA9161" stroke="#161616" stroke-width="0.6"/>
<text x="648.83" y="81.70" font-size="6.7" text-anchor="middle" fill="#000" style="color:#000">0.62</text>
<line x1="663.89" x2="663.89" y1="79.30" y2="83.32" stroke="#2a2a2a" stroke-width="0.7"/>
<line x1="662.99" x2="664.80" y1="79.30" y2="79.30" stroke="#2a2a2a" stroke-width="0.7"/>
<line x1="662.99" x2="664.80" y1="83.32" y2="83.32" stroke="#2a2a2a" stroke-width="0.7"/>
<circle cx="662.53" cy="79.01" r="1.25" fill="#FBAFE4" stroke="#161616" stroke-width="0.6"/>
<circle cx="665.22" cy="78.69" r="1.25" fill="#FBAFE4" stroke="#161616" stroke-width="0.6"/>
<circle cx="662.54" cy="82.85" r="1.25" fill="#FBAFE4" stroke="#161616" stroke-width="0.6"/>
<circle cx="664.83" cy="82.36" r="1.25" fill="#FBAFE4" stroke="#161616" stroke-width="0.6"/>
<text x="663.89" y="73.30" font-size="6.7" text-anchor="middle" fill="#000" style="color:#000">0.70</text>
<text x="21.6" y="168.00" font-size="8.15" text-anchor="end" fill="#1a1a1a" style="color:#1a1a1a">0.0</text>
<text x="21.6" y="144.06" font-size="8.15" text-anchor="end" fill="#1a1a1a" style="color:#1a1a1a">0.2</text>
<text x="21.6" y="120.12" font-size="8.15" text-anchor="end" fill="#1a1a1a" style="color:#1a1a1a">0.4</text>
<text x="21.6" y="96.18" font-size="8.15" text-anchor="end" fill="#1a1a1a" style="color:#1a1a1a">0.6</text>
<text x="21.6" y="72.24" font-size="8.15" text-anchor="end" fill="#1a1a1a" style="color:#1a1a1a">0.8</text>
<text x="21.6" y="48.30" font-size="8.15" text-anchor="end" fill="#1a1a1a" style="color:#1a1a1a">1.0</text>
<text x="91.59" y="175.50" font-size="8.15" text-anchor="middle" fill="#1a1a1a" style="color:#1a1a1a">Minimal</text>
<text x="223.37" y="175.50" font-size="8.15" text-anchor="middle" fill="#1a1a1a" style="color:#1a1a1a">Specific</text>
<text x="355.15" y="175.50" font-size="8.15" text-anchor="middle" fill="#1a1a1a" style="color:#1a1a1a">Role Encouraging</text>
<text x="486.93" y="175.50" font-size="8.15" text-anchor="middle" fill="#1a1a1a" style="color:#1a1a1a">Req. specific</text>
<text x="618.71" y="175.50" font-size="8.15" text-anchor="middle" fill="#1a1a1a" style="color:#1a1a1a">Req. explicit</text>
<text transform="translate(6.4 105.25) rotate(-90)" font-size="8.15" text-anchor="middle" fill="#1a1a1a" style="color:#1a1a1a">Mean balanced accuracy</text>
<text x="38.8" y="53.70" font-size="8.2" font-weight="bold" fill="#222" style="color:#222;stroke-width:0.1px">(a)</text>
<line x1="25.7" x2="684.6" y1="293.28" y2="293.28" stroke="#e6e6e6" stroke-width="0.9"/>
<line x1="25.7" x2="684.6" y1="269.36" y2="269.36" stroke="#e6e6e6" stroke-width="0.9"/>
<line x1="25.7" x2="684.6" y1="245.44" y2="245.44" stroke="#e6e6e6" stroke-width="0.9"/>
<line x1="25.7" x2="684.6" y1="221.52" y2="221.52" stroke="#e6e6e6" stroke-width="0.9"/>
<line x1="157.48" x2="157.48" y1="197.6" y2="317.2" stroke="#8a8a8a" stroke-width="0.8" stroke-dasharray="0.9 1.6"/>
<line x1="289.26" x2="289.26" y1="197.6" y2="317.2" stroke="#8a8a8a" stroke-width="0.8" stroke-dasharray="0.9 1.6"/>
<line x1="421.04" x2="421.04" y1="197.6" y2="317.2" stroke="#8a8a8a" stroke-width="0.8" stroke-dasharray="0.9 1.6"/>
<line x1="552.82" x2="552.82" y1="197.6" y2="317.2" stroke="#8a8a8a" stroke-width="0.8" stroke-dasharray="0.9 1.6"/>
<rect x="38.88" y="276.54" width="15.06" height="40.66" fill="#0a70a9" stroke="#fff" stroke-width="0.55"/>
<rect x="53.94" y="274.14" width="15.06" height="43.06" fill="#d38c10" stroke="#fff" stroke-width="0.55"/>
<rect x="69.00" y="251.42" width="15.06" height="65.78" fill="#0a9670" stroke="#fff" stroke-width="0.55"/>
<rect x="84.06" y="265.77" width="15.06" height="51.43" fill="#ca5f0b" stroke="#fff" stroke-width="0.55"/>
<rect x="99.12" y="251.42" width="15.06" height="65.78" fill="#c87cb9" stroke="#fff" stroke-width="0.55"/>
<rect x="114.18" y="250.22" width="15.06" height="66.98" fill="#c59166" stroke="#fff" stroke-width="0.55"/>
<rect x="129.24" y="241.85" width="15.06" height="75.35" fill="#f7b3e3" stroke="#fff" stroke-width="0.55"/>
<rect x="170.66" y="276.54" width="15.06" height="40.66" fill="#0a70a9" stroke="#fff" stroke-width="0.55"/>
<rect x="185.72" y="269.36" width="15.06" height="47.84" fill="#d38c10" stroke="#fff" stroke-width="0.55"/>
<rect x="200.78" y="249.03" width="15.06" height="68.17" fill="#0a9670" stroke="#fff" stroke-width="0.55"/>
<rect x="215.84" y="256.20" width="15.06" height="61.00" fill="#ca5f0b" stroke="#fff" stroke-width="0.55"/>
<rect x="230.90" y="251.42" width="15.06" height="65.78" fill="#c87cb9" stroke="#fff" stroke-width="0.55"/>
<rect x="245.96" y="244.24" width="15.06" height="72.96" fill="#c59166" stroke="#fff" stroke-width="0.55"/>
<rect x="261.02" y="239.46" width="15.06" height="77.74" fill="#f7b3e3" stroke="#fff" stroke-width="0.55"/>
<rect x="302.44" y="275.34" width="15.06" height="41.86" fill="#0a70a9" stroke="#fff" stroke-width="0.55"/>
<rect x="317.50" y="269.36" width="15.06" height="47.84" fill="#d38c10" stroke="#fff" stroke-width="0.55"/>
<rect x="332.56" y="250.22" width="15.06" height="66.98" fill="#0a9670" stroke="#fff" stroke-width="0.55"/>
<rect x="347.62" y="252.62" width="15.06" height="64.58" fill="#ca5f0b" stroke="#fff" stroke-width="0.55"/>
<rect x="362.68" y="251.42" width="15.06" height="65.78" fill="#c87cb9" stroke="#fff" stroke-width="0.55"/>
<rect x="377.74" y="244.24" width="15.06" height="72.96" fill="#c59166" stroke="#fff" stroke-width="0.55"/>
<rect x="392.80" y="239.46" width="15.06" height="77.74" fill="#f7b3e3" stroke="#fff" stroke-width="0.55"/>
<rect x="434.22" y="272.95" width="15.06" height="44.25" fill="#0a70a9" stroke="#fff" stroke-width="0.55"/>
<rect x="449.28" y="264.58" width="15.06" height="52.62" fill="#d38c10" stroke="#fff" stroke-width="0.55"/>
<rect x="464.34" y="246.64" width="15.06" height="70.56" fill="#0a9670" stroke="#fff" stroke-width="0.55"/>
<rect x="479.40" y="250.22" width="15.06" height="66.98" fill="#ca5f0b" stroke="#fff" stroke-width="0.55"/>
<rect x="494.46" y="250.22" width="15.06" height="66.98" fill="#c87cb9" stroke="#fff" stroke-width="0.55"/>
<rect x="509.52" y="243.05" width="15.06" height="74.15" fill="#c59166" stroke="#fff" stroke-width="0.55"/>
<rect x="524.58" y="237.07" width="15.06" height="80.13" fill="#f7b3e3" stroke="#fff" stroke-width="0.55"/>
<rect x="566.00" y="274.14" width="15.06" height="43.06" fill="#0a70a9" stroke="#fff" stroke-width="0.55"/>
<rect x="581.06" y="262.18" width="15.06" height="55.02" fill="#d38c10" stroke="#fff" stroke-width="0.55"/>
<rect x="596.12" y="249.03" width="15.06" height="68.17" fill="#0a9670" stroke="#fff" stroke-width="0.55"/>
<rect x="611.18" y="250.22" width="15.06" height="66.98" fill="#ca5f0b" stroke="#fff" stroke-width="0.55"/>
<rect x="626.24" y="249.03" width="15.06" height="68.17" fill="#c87cb9" stroke="#fff" stroke-width="0.55"/>
<rect x="641.30" y="243.05" width="15.06" height="74.15" fill="#c59166" stroke="#fff" stroke-width="0.55"/>
<rect x="656.36" y="237.07" width="15.06" height="80.13" fill="#f7b3e3" stroke="#fff" stroke-width="0.55"/>
<rect x="25.6" y="197.40" width="659.0" height="119.80" fill="none" stroke="#e3e3e3" stroke-width="1.15"/>
<line x1="46.41" x2="46.41" y1="272.30" y2="280.77" stroke="#2a2a2a" stroke-width="0.7"/>
<line x1="45.50" x2="47.31" y1="272.30" y2="272.30" stroke="#2a2a2a" stroke-width="0.7"/>
<line x1="45.50" x2="47.31" y1="280.77" y2="280.77" stroke="#2a2a2a" stroke-width="0.7"/>
<circle cx="45.17" cy="271.66" r="1.25" fill="#0173B2" stroke="#161616" stroke-width="0.6"/>
<circle cx="47.45" cy="271.14" r="1.25" fill="#0173B2" stroke="#161616" stroke-width="0.6"/>
<circle cx="45.36" cy="279.49" r="1.25" fill="#0173B2" stroke="#161616" stroke-width="0.6"/>
<circle cx="47.76" cy="279.31" r="1.25" fill="#0173B2" stroke="#161616" stroke-width="0.6"/>
<text x="46.41" y="266.30" font-size="6.7" text-anchor="middle" fill="#000" style="color:#000">0.34</text>
<line x1="61.47" x2="61.47" y1="269.00" y2="279.29" stroke="#2a2a2a" stroke-width="0.7"/>
<line x1="60.57" x2="62.37" y1="269.00" y2="269.00" stroke="#2a2a2a" stroke-width="0.7"/>
<line x1="60.57" x2="62.37" y1="279.29" y2="279.29" stroke="#2a2a2a" stroke-width="0.7"/>
<circle cx="60.35" cy="267.32" r="1.25" fill="#DE8F05" stroke="#161616" stroke-width="0.6"/>
<circle cx="62.58" cy="267.33" r="1.25" fill="#DE8F05" stroke="#161616" stroke-width="0.6"/>
<circle cx="60.52" cy="274.20" r="1.25" fill="#DE8F05" stroke="#161616" stroke-width="0.6"/>
<circle cx="62.95" cy="274.13" r="1.25" fill="#DE8F05" stroke="#161616" stroke-width="0.6"/>
<circle cx="60.12" cy="280.73" r="1.25" fill="#DE8F05" stroke="#161616" stroke-width="0.6"/>
<text x="61.47" y="263.00" font-size="6.7" text-anchor="middle" fill="#000" style="color:#000">0.36</text>
<line x1="76.53" x2="76.53" y1="248.00" y2="254.84" stroke="#2a2a2a" stroke-width="0.7"/>
<line x1="75.63" x2="77.43" y1="248.00" y2="248.00" stroke="#2a2a2a" stroke-width="0.7"/>
<line x1="75.63" x2="77.43" y1="254.84" y2="254.84" stroke="#2a2a2a" stroke-width="0.7"/>
<circle cx="75.21" cy="247.50" r="1.25" fill="#029E73" stroke="#161616" stroke-width="0.6"/>
<circle cx="77.83" cy="247.31" r="1.25" fill="#029E73" stroke="#161616" stroke-width="0.6"/>
<circle cx="75.34" cy="253.01" r="1.25" fill="#029E73" stroke="#161616" stroke-width="0.6"/>
<circle cx="77.97" cy="252.62" r="1.25" fill="#029E73" stroke="#161616" stroke-width="0.6"/>
<text x="76.53" y="242.00" font-size="6.7" text-anchor="middle" fill="#000" style="color:#000">0.55</text>
<line x1="91.59" x2="91.59" y1="263.70" y2="267.84" stroke="#2a2a2a" stroke-width="0.7"/>
<line x1="90.69" x2="92.49" y1="263.70" y2="263.70" stroke="#2a2a2a" stroke-width="0.7"/>
<line x1="90.69" x2="92.49" y1="267.84" y2="267.84" stroke="#2a2a2a" stroke-width="0.7"/>
<circle cx="90.63" cy="262.80" r="1.25" fill="#D55E00" stroke="#161616" stroke-width="0.6"/>
<circle cx="93.04" cy="262.61" r="1.25" fill="#D55E00" stroke="#161616" stroke-width="0.6"/>
<circle cx="90.42" cy="269.18" r="1.25" fill="#D55E00" stroke="#161616" stroke-width="0.6"/>
<circle cx="92.60" cy="268.81" r="1.25" fill="#D55E00" stroke="#161616" stroke-width="0.6"/>
<text x="91.59" y="257.70" font-size="6.7" text-anchor="middle" fill="#000" style="color:#000">0.43</text>
<line x1="106.65" x2="106.65" y1="247.70" y2="255.14" stroke="#2a2a2a" stroke-width="0.7"/>
<line x1="105.75" x2="107.55" y1="247.70" y2="247.70" stroke="#2a2a2a" stroke-width="0.7"/>
<line x1="105.75" x2="107.55" y1="255.14" y2="255.14" stroke="#2a2a2a" stroke-width="0.7"/>
<circle cx="105.63" cy="246.57" r="1.25" fill="#CC78BC" stroke="#161616" stroke-width="0.6"/>
<circle cx="107.74" cy="246.29" r="1.25" fill="#CC78BC" stroke="#161616" stroke-width="0.6"/>
<circle cx="105.34" cy="251.66" r="1.25" fill="#CC78BC" stroke="#161616" stroke-width="0.6"/>
<circle cx="107.73" cy="251.46" r="1.25" fill="#CC78BC" stroke="#161616" stroke-width="0.6"/>
<circle cx="105.50" cy="256.38" r="1.25" fill="#CC78BC" stroke="#161616" stroke-width="0.6"/>
<text x="106.65" y="241.70" font-size="6.7" text-anchor="middle" fill="#000" style="color:#000">0.55</text>
<line x1="121.71" x2="121.71" y1="247.70" y2="252.75" stroke="#2a2a2a" stroke-width="0.7"/>
<line x1="120.81" x2="122.61" y1="247.70" y2="247.70" stroke="#2a2a2a" stroke-width="0.7"/>
<line x1="120.81" x2="122.61" y1="252.75" y2="252.75" stroke="#2a2a2a" stroke-width="0.7"/>
<circle cx="120.46" cy="247.91" r="1.25" fill="#CA9161" stroke="#161616" stroke-width="0.6"/>
<circle cx="122.74" cy="247.72" r="1.25" fill="#CA9161" stroke="#161616" stroke-width="0.6"/>
<circle cx="120.52" cy="250.41" r="1.25" fill="#CA9161" stroke="#161616" stroke-width="0.6"/>
<text x="121.71" y="241.70" font-size="6.7" text-anchor="middle" fill="#000" style="color:#000">0.56</text>
<line x1="136.77" x2="136.77" y1="238.80" y2="244.90" stroke="#2a2a2a" stroke-width="0.7"/>
<line x1="135.87" x2="137.68" y1="238.80" y2="238.80" stroke="#2a2a2a" stroke-width="0.7"/>
<line x1="135.87" x2="137.68" y1="244.90" y2="244.90" stroke="#2a2a2a" stroke-width="0.7"/>
<circle cx="135.77" cy="238.39" r="1.25" fill="#FBAFE4" stroke="#161616" stroke-width="0.6"/>
<circle cx="137.86" cy="238.72" r="1.25" fill="#FBAFE4" stroke="#161616" stroke-width="0.6"/>
<circle cx="135.79" cy="245.29" r="1.25" fill="#FBAFE4" stroke="#161616" stroke-width="0.6"/>
<circle cx="137.96" cy="244.98" r="1.25" fill="#FBAFE4" stroke="#161616" stroke-width="0.6"/>
<text x="136.77" y="232.80" font-size="6.7" text-anchor="middle" fill="#000" style="color:#000">0.63</text>
<line x1="178.19" x2="178.19" y1="272.90" y2="280.17" stroke="#2a2a2a" stroke-width="0.7"/>
<line x1="177.28" x2="179.09" y1="272.90" y2="272.90" stroke="#2a2a2a" stroke-width="0.7"/>
<line x1="177.28" x2="179.09" y1="280.17" y2="280.17" stroke="#2a2a2a" stroke-width="0.7"/>
<circle cx="177.01" cy="272.47" r="1.25" fill="#0173B2" stroke="#161616" stroke-width="0.6"/>
<circle cx="179.58" cy="272.25" r="1.25" fill="#0173B2" stroke="#161616" stroke-width="0.6"/>
<circle cx="177.00" cy="279.58" r="1.25" fill="#0173B2" stroke="#161616" stroke-width="0.6"/>
<circle cx="179.60" cy="279.32" r="1.25" fill="#0173B2" stroke="#161616" stroke-width="0.6"/>
<text x="178.19" y="266.90" font-size="6.7" text-anchor="middle" fill="#000" style="color:#000">0.34</text>
<line x1="193.25" x2="193.25" y1="265.30" y2="273.42" stroke="#2a2a2a" stroke-width="0.7"/>
<line x1="192.35" x2="194.15" y1="265.30" y2="265.30" stroke="#2a2a2a" stroke-width="0.7"/>
<line x1="192.35" x2="194.15" y1="273.42" y2="273.42" stroke="#2a2a2a" stroke-width="0.7"/>
<circle cx="191.91" cy="263.77" r="1.25" fill="#DE8F05" stroke="#161616" stroke-width="0.6"/>
<circle cx="194.43" cy="263.18" r="1.25" fill="#DE8F05" stroke="#161616" stroke-width="0.6"/>
<circle cx="192.21" cy="268.37" r="1.25" fill="#DE8F05" stroke="#161616" stroke-width="0.6"/>
<circle cx="194.55" cy="268.57" r="1.25" fill="#DE8F05" stroke="#161616" stroke-width="0.6"/>
<circle cx="191.84" cy="272.79" r="1.25" fill="#DE8F05" stroke="#161616" stroke-width="0.6"/>
<text x="193.25" y="259.30" font-size="6.7" text-anchor="middle" fill="#000" style="color:#000">0.40</text>
<line x1="208.31" x2="208.31" y1="247.20" y2="250.86" stroke="#2a2a2a" stroke-width="0.7"/>
<line x1="207.41" x2="209.21" y1="247.20" y2="247.20" stroke="#2a2a2a" stroke-width="0.7"/>
<line x1="207.41" x2="209.21" y1="250.86" y2="250.86" stroke="#2a2a2a" stroke-width="0.7"/>
<circle cx="207.30" cy="247.11" r="1.25" fill="#029E73" stroke="#161616" stroke-width="0.6"/>
<circle cx="209.32" cy="247.46" r="1.25" fill="#029E73" stroke="#161616" stroke-width="0.6"/>
<circle cx="206.89" cy="251.62" r="1.25" fill="#029E73" stroke="#161616" stroke-width="0.6"/>
<circle cx="209.36" cy="251.59" r="1.25" fill="#029E73" stroke="#161616" stroke-width="0.6"/>
<text x="208.31" y="241.20" font-size="6.7" text-anchor="middle" fill="#000" style="color:#000">0.57</text>
<line x1="223.37" x2="223.37" y1="254.40" y2="258.01" stroke="#2a2a2a" stroke-width="0.7"/>
<line x1="222.47" x2="224.27" y1="254.40" y2="254.40" stroke="#2a2a2a" stroke-width="0.7"/>
<line x1="222.47" x2="224.27" y1="258.01" y2="258.01" stroke="#2a2a2a" stroke-width="0.7"/>
<circle cx="222.28" cy="253.64" r="1.25" fill="#D55E00" stroke="#161616" stroke-width="0.6"/>
<circle cx="224.71" cy="253.37" r="1.25" fill="#D55E00" stroke="#161616" stroke-width="0.6"/>
<circle cx="222.41" cy="259.57" r="1.25" fill="#D55E00" stroke="#161616" stroke-width="0.6"/>
<circle cx="224.45" cy="259.19" r="1.25" fill="#D55E00" stroke="#161616" stroke-width="0.6"/>
<text x="223.37" y="248.40" font-size="6.7" text-anchor="middle" fill="#000" style="color:#000">0.51</text>
<line x1="238.43" x2="238.43" y1="248.80" y2="254.04" stroke="#2a2a2a" stroke-width="0.7"/>
<line x1="237.53" x2="239.33" y1="248.80" y2="248.80" stroke="#2a2a2a" stroke-width="0.7"/>
<line x1="237.53" x2="239.33" y1="254.04" y2="254.04" stroke="#2a2a2a" stroke-width="0.7"/>
<circle cx="237.18" cy="248.24" r="1.25" fill="#CC78BC" stroke="#161616" stroke-width="0.6"/>
<circle cx="239.33" cy="247.97" r="1.25" fill="#CC78BC" stroke="#161616" stroke-width="0.6"/>
<circle cx="237.27" cy="253.69" r="1.25" fill="#CC78BC" stroke="#161616" stroke-width="0.6"/>
<circle cx="239.46" cy="253.77" r="1.25" fill="#CC78BC" stroke="#161616" stroke-width="0.6"/>
<text x="238.43" y="242.80" font-size="6.7" text-anchor="middle" fill="#000" style="color:#000">0.55</text>
<line x1="253.49" x2="253.49" y1="242.40" y2="246.09" stroke="#2a2a2a" stroke-width="0.7"/>
<line x1="252.59" x2="254.39" y1="242.40" y2="242.40" stroke="#2a2a2a" stroke-width="0.7"/>
<line x1="252.59" x2="254.39" y1="246.09" y2="246.09" stroke="#2a2a2a" stroke-width="0.7"/>
<circle cx="252.02" cy="242.41" r="1.25" fill="#CA9161" stroke="#161616" stroke-width="0.6"/>
<circle cx="254.72" cy="242.20" r="1.25" fill="#CA9161" stroke="#161616" stroke-width="0.6"/>
<circle cx="252.43" cy="246.63" r="1.25" fill="#CA9161" stroke="#161616" stroke-width="0.6"/>
<circle cx="254.46" cy="246.81" r="1.25" fill="#CA9161" stroke="#161616" stroke-width="0.6"/>
<text x="253.49" y="236.40" font-size="6.7" text-anchor="middle" fill="#000" style="color:#000">0.61</text>
<line x1="268.55" x2="268.55" y1="236.40" y2="242.52" stroke="#2a2a2a" stroke-width="0.7"/>
<line x1="267.65" x2="269.46" y1="236.40" y2="236.40" stroke="#2a2a2a" stroke-width="0.7"/>
<line x1="267.65" x2="269.46" y1="242.52" y2="242.52" stroke="#2a2a2a" stroke-width="0.7"/>
<circle cx="267.11" cy="234.98" r="1.25" fill="#FBAFE4" stroke="#161616" stroke-width="0.6"/>
<circle cx="270.02" cy="235.20" r="1.25" fill="#FBAFE4" stroke="#161616" stroke-width="0.6"/>
<circle cx="267.19" cy="239.11" r="1.25" fill="#FBAFE4" stroke="#161616" stroke-width="0.6"/>
<circle cx="269.63" cy="239.04" r="1.25" fill="#FBAFE4" stroke="#161616" stroke-width="0.6"/>
<circle cx="267.26" cy="242.74" r="1.25" fill="#FBAFE4" stroke="#161616" stroke-width="0.6"/>
<text x="268.55" y="230.40" font-size="6.7" text-anchor="middle" fill="#000" style="color:#000">0.65</text>
<line x1="309.97" x2="309.97" y1="271.40" y2="279.28" stroke="#2a2a2a" stroke-width="0.7"/>
<line x1="309.06" x2="310.87" y1="271.40" y2="271.40" stroke="#2a2a2a" stroke-width="0.7"/>
<line x1="309.06" x2="310.87" y1="279.28" y2="279.28" stroke="#2a2a2a" stroke-width="0.7"/>
<circle cx="308.91" cy="270.80" r="1.25" fill="#0173B2" stroke="#161616" stroke-width="0.6"/>
<circle cx="311.45" cy="270.74" r="1.25" fill="#0173B2" stroke="#161616" stroke-width="0.6"/>
<circle cx="308.75" cy="275.09" r="1.25" fill="#0173B2" stroke="#161616" stroke-width="0.6"/>
<circle cx="311.16" cy="275.28" r="1.25" fill="#0173B2" stroke="#161616" stroke-width="0.6"/>
<circle cx="308.64" cy="280.34" r="1.25" fill="#0173B2" stroke="#161616" stroke-width="0.6"/>
<text x="309.97" y="265.40" font-size="6.7" text-anchor="middle" fill="#000" style="color:#000">0.35</text>
<line x1="325.03" x2="325.03" y1="266.50" y2="272.22" stroke="#2a2a2a" stroke-width="0.7"/>
<line x1="324.13" x2="325.93" y1="266.50" y2="266.50" stroke="#2a2a2a" stroke-width="0.7"/>
<line x1="324.13" x2="325.93" y1="272.22" y2="272.22" stroke="#2a2a2a" stroke-width="0.7"/>
<circle cx="323.79" cy="266.35" r="1.25" fill="#DE8F05" stroke="#161616" stroke-width="0.6"/>
<circle cx="326.32" cy="266.70" r="1.25" fill="#DE8F05" stroke="#161616" stroke-width="0.6"/>
<circle cx="324.02" cy="272.51" r="1.25" fill="#DE8F05" stroke="#161616" stroke-width="0.6"/>
<circle cx="326.32" cy="271.90" r="1.25" fill="#DE8F05" stroke="#161616" stroke-width="0.6"/>
<text x="325.03" y="260.50" font-size="6.7" text-anchor="middle" fill="#000" style="color:#000">0.40</text>
<line x1="340.09" x2="340.09" y1="246.60" y2="253.85" stroke="#2a2a2a" stroke-width="0.7"/>
<line x1="339.19" x2="340.99" y1="246.60" y2="246.60" stroke="#2a2a2a" stroke-width="0.7"/>
<line x1="339.19" x2="340.99" y1="253.85" y2="253.85" stroke="#2a2a2a" stroke-width="0.7"/>
<circle cx="338.63" cy="246.21" r="1.25" fill="#029E73" stroke="#161616" stroke-width="0.6"/>
<circle cx="341.19" cy="246.68" r="1.25" fill="#029E73" stroke="#161616" stroke-width="0.6"/>
<circle cx="338.83" cy="252.94" r="1.25" fill="#029E73" stroke="#161616" stroke-width="0.6"/>
<circle cx="341.38" cy="252.87" r="1.25" fill="#029E73" stroke="#161616" stroke-width="0.6"/>
<text x="340.09" y="240.60" font-size="6.7" text-anchor="middle" fill="#000" style="color:#000">0.56</text>
<line x1="355.15" x2="355.15" y1="249.60" y2="255.63" stroke="#2a2a2a" stroke-width="0.7"/>
<line x1="354.25" x2="356.05" y1="249.60" y2="249.60" stroke="#2a2a2a" stroke-width="0.7"/>
<line x1="354.25" x2="356.05" y1="255.63" y2="255.63" stroke="#2a2a2a" stroke-width="0.7"/>
<circle cx="354.06" cy="248.64" r="1.25" fill="#D55E00" stroke="#161616" stroke-width="0.6"/>
<circle cx="356.09" cy="249.07" r="1.25" fill="#D55E00" stroke="#161616" stroke-width="0.6"/>
<circle cx="353.80" cy="254.53" r="1.25" fill="#D55E00" stroke="#161616" stroke-width="0.6"/>
<circle cx="356.49" cy="254.39" r="1.25" fill="#D55E00" stroke="#161616" stroke-width="0.6"/>
<text x="355.15" y="243.60" font-size="6.7" text-anchor="middle" fill="#000" style="color:#000">0.54</text>
<line x1="370.21" x2="370.21" y1="248.50" y2="254.34" stroke="#2a2a2a" stroke-width="0.7"/>
<line x1="369.31" x2="371.11" y1="248.50" y2="248.50" stroke="#2a2a2a" stroke-width="0.7"/>
<line x1="369.31" x2="371.11" y1="254.34" y2="254.34" stroke="#2a2a2a" stroke-width="0.7"/>
<circle cx="369.15" cy="248.01" r="1.25" fill="#CC78BC" stroke="#161616" stroke-width="0.6"/>
<circle cx="371.63" cy="247.73" r="1.25" fill="#CC78BC" stroke="#161616" stroke-width="0.6"/>
<circle cx="369.01" cy="254.30" r="1.25" fill="#CC78BC" stroke="#161616" stroke-width="0.6"/>
<circle cx="371.57" cy="254.38" r="1.25" fill="#CC78BC" stroke="#161616" stroke-width="0.6"/>
<text x="370.21" y="242.50" font-size="6.7" text-anchor="middle" fill="#000" style="color:#000">0.55</text>
<line x1="385.27" x2="385.27" y1="241.30" y2="247.19" stroke="#2a2a2a" stroke-width="0.7"/>
<line x1="384.37" x2="386.17" y1="241.30" y2="241.30" stroke="#2a2a2a" stroke-width="0.7"/>
<line x1="384.37" x2="386.17" y1="247.19" y2="247.19" stroke="#2a2a2a" stroke-width="0.7"/>
<circle cx="384.17" cy="240.82" r="1.25" fill="#CA9161" stroke="#161616" stroke-width="0.6"/>
<circle cx="386.50" cy="241.12" r="1.25" fill="#CA9161" stroke="#161616" stroke-width="0.6"/>
<circle cx="384.16" cy="246.78" r="1.25" fill="#CA9161" stroke="#161616" stroke-width="0.6"/>
<circle cx="386.24" cy="246.32" r="1.25" fill="#CA9161" stroke="#161616" stroke-width="0.6"/>
<text x="385.27" y="235.30" font-size="6.7" text-anchor="middle" fill="#000" style="color:#000">0.61</text>
<line x1="400.33" x2="400.33" y1="237.20" y2="241.72" stroke="#2a2a2a" stroke-width="0.7"/>
<line x1="399.43" x2="401.24" y1="237.20" y2="237.20" stroke="#2a2a2a" stroke-width="0.7"/>
<line x1="399.43" x2="401.24" y1="241.72" y2="241.72" stroke="#2a2a2a" stroke-width="0.7"/>
<circle cx="399.37" cy="235.79" r="1.25" fill="#FBAFE4" stroke="#161616" stroke-width="0.6"/>
<circle cx="401.70" cy="236.28" r="1.25" fill="#FBAFE4" stroke="#161616" stroke-width="0.6"/>
<circle cx="399.32" cy="242.25" r="1.25" fill="#FBAFE4" stroke="#161616" stroke-width="0.6"/>
<circle cx="401.48" cy="242.69" r="1.25" fill="#FBAFE4" stroke="#161616" stroke-width="0.6"/>
<text x="400.33" y="231.20" font-size="6.7" text-anchor="middle" fill="#000" style="color:#000">0.65</text>
<line x1="441.75" x2="441.75" y1="269.70" y2="276.20" stroke="#2a2a2a" stroke-width="0.7"/>
<line x1="440.84" x2="442.65" y1="269.70" y2="269.70" stroke="#2a2a2a" stroke-width="0.7"/>
<line x1="440.84" x2="442.65" y1="276.20" y2="276.20" stroke="#2a2a2a" stroke-width="0.7"/>
<circle cx="440.36" cy="269.80" r="1.25" fill="#0173B2" stroke="#161616" stroke-width="0.6"/>
<circle cx="443.00" cy="269.32" r="1.25" fill="#0173B2" stroke="#161616" stroke-width="0.6"/>
<circle cx="440.61" cy="277.35" r="1.25" fill="#0173B2" stroke="#161616" stroke-width="0.6"/>
<circle cx="442.96" cy="277.65" r="1.25" fill="#0173B2" stroke="#161616" stroke-width="0.6"/>
<text x="441.75" y="263.70" font-size="6.7" text-anchor="middle" fill="#000" style="color:#000">0.37</text>
<line x1="456.81" x2="456.81" y1="259.50" y2="269.65" stroke="#2a2a2a" stroke-width="0.7"/>
<line x1="455.91" x2="457.71" y1="259.50" y2="259.50" stroke="#2a2a2a" stroke-width="0.7"/>
<line x1="455.91" x2="457.71" y1="269.65" y2="269.65" stroke="#2a2a2a" stroke-width="0.7"/>
<circle cx="455.79" cy="257.40" r="1.25" fill="#DE8F05" stroke="#161616" stroke-width="0.6"/>
<circle cx="458.18" cy="257.22" r="1.25" fill="#DE8F05" stroke="#161616" stroke-width="0.6"/>
<circle cx="455.43" cy="264.71" r="1.25" fill="#DE8F05" stroke="#161616" stroke-width="0.6"/>
<circle cx="458.28" cy="264.31" r="1.25" fill="#DE8F05" stroke="#161616" stroke-width="0.6"/>
<circle cx="455.58" cy="271.27" r="1.25" fill="#DE8F05" stroke="#161616" stroke-width="0.6"/>
<circle cx="458.09" cy="271.58" r="1.25" fill="#DE8F05" stroke="#161616" stroke-width="0.6"/>
<text x="456.81" y="253.50" font-size="6.7" text-anchor="middle" fill="#000" style="color:#000">0.44</text>
<line x1="471.87" x2="471.87" y1="244.60" y2="248.67" stroke="#2a2a2a" stroke-width="0.7"/>
<line x1="470.97" x2="472.77" y1="244.60" y2="244.60" stroke="#2a2a2a" stroke-width="0.7"/>
<line x1="470.97" x2="472.77" y1="248.67" y2="248.67" stroke="#2a2a2a" stroke-width="0.7"/>
<circle cx="470.56" cy="243.74" r="1.25" fill="#029E73" stroke="#161616" stroke-width="0.6"/>
<circle cx="473.29" cy="243.89" r="1.25" fill="#029E73" stroke="#161616" stroke-width="0.6"/>
<circle cx="470.61" cy="248.88" r="1.25" fill="#029E73" stroke="#161616" stroke-width="0.6"/>
<circle cx="472.77" cy="248.92" r="1.25" fill="#029E73" stroke="#161616" stroke-width="0.6"/>
<text x="471.87" y="238.60" font-size="6.7" text-anchor="middle" fill="#000" style="color:#000">0.59</text>
<line x1="486.93" x2="486.93" y1="247.00" y2="253.45" stroke="#2a2a2a" stroke-width="0.7"/>
<line x1="486.03" x2="487.83" y1="247.00" y2="247.00" stroke="#2a2a2a" stroke-width="0.7"/>
<line x1="486.03" x2="487.83" y1="253.45" y2="253.45" stroke="#2a2a2a" stroke-width="0.7"/>
<circle cx="485.63" cy="246.29" r="1.25" fill="#D55E00" stroke="#161616" stroke-width="0.6"/>
<circle cx="488.14" cy="246.27" r="1.25" fill="#D55E00" stroke="#161616" stroke-width="0.6"/>
<circle cx="485.91" cy="252.72" r="1.25" fill="#D55E00" stroke="#161616" stroke-width="0.6"/>
<circle cx="487.85" cy="252.70" r="1.25" fill="#D55E00" stroke="#161616" stroke-width="0.6"/>
<text x="486.93" y="241.00" font-size="6.7" text-anchor="middle" fill="#000" style="color:#000">0.56</text>
<line x1="501.99" x2="501.99" y1="247.50" y2="252.95" stroke="#2a2a2a" stroke-width="0.7"/>
<line x1="501.09" x2="502.89" y1="247.50" y2="247.50" stroke="#2a2a2a" stroke-width="0.7"/>
<line x1="501.09" x2="502.89" y1="252.95" y2="252.95" stroke="#2a2a2a" stroke-width="0.7"/>
<circle cx="500.70" cy="247.06" r="1.25" fill="#CC78BC" stroke="#161616" stroke-width="0.6"/>
<circle cx="503.23" cy="247.47" r="1.25" fill="#CC78BC" stroke="#161616" stroke-width="0.6"/>
<circle cx="500.56" cy="250.81" r="1.25" fill="#CC78BC" stroke="#161616" stroke-width="0.6"/>
<circle cx="503.37" cy="251.20" r="1.25" fill="#CC78BC" stroke="#161616" stroke-width="0.6"/>
<text x="501.99" y="241.50" font-size="6.7" text-anchor="middle" fill="#000" style="color:#000">0.56</text>
<line x1="517.05" x2="517.05" y1="239.50" y2="246.60" stroke="#2a2a2a" stroke-width="0.7"/>
<line x1="516.15" x2="517.95" y1="239.50" y2="239.50" stroke="#2a2a2a" stroke-width="0.7"/>
<line x1="516.15" x2="517.95" y1="246.60" y2="246.60" stroke="#2a2a2a" stroke-width="0.7"/>
<circle cx="516.12" cy="238.99" r="1.25" fill="#CA9161" stroke="#161616" stroke-width="0.6"/>
<circle cx="518.09" cy="238.76" r="1.25" fill="#CA9161" stroke="#161616" stroke-width="0.6"/>
<circle cx="515.83" cy="243.04" r="1.25" fill="#CA9161" stroke="#161616" stroke-width="0.6"/>
<circle cx="518.15" cy="243.00" r="1.25" fill="#CA9161" stroke="#161616" stroke-width="0.6"/>
<circle cx="515.73" cy="246.01" r="1.25" fill="#CA9161" stroke="#161616" stroke-width="0.6"/>
<text x="517.05" y="233.50" font-size="6.7" text-anchor="middle" fill="#000" style="color:#000">0.62</text>
<line x1="532.11" x2="532.11" y1="233.80" y2="240.34" stroke="#2a2a2a" stroke-width="0.7"/>
<line x1="531.21" x2="533.02" y1="233.80" y2="233.80" stroke="#2a2a2a" stroke-width="0.7"/>
<line x1="531.21" x2="533.02" y1="240.34" y2="240.34" stroke="#2a2a2a" stroke-width="0.7"/>
<circle cx="530.70" cy="233.58" r="1.25" fill="#FBAFE4" stroke="#161616" stroke-width="0.6"/>
<circle cx="533.57" cy="233.67" r="1.25" fill="#FBAFE4" stroke="#161616" stroke-width="0.6"/>
<circle cx="530.77" cy="239.77" r="1.25" fill="#FBAFE4" stroke="#161616" stroke-width="0.6"/>
<circle cx="533.50" cy="240.25" r="1.25" fill="#FBAFE4" stroke="#161616" stroke-width="0.6"/>
<text x="532.11" y="227.80" font-size="6.7" text-anchor="middle" fill="#000" style="color:#000">0.67</text>
<line x1="573.53" x2="573.53" y1="271.60" y2="276.69" stroke="#2a2a2a" stroke-width="0.7"/>
<line x1="572.62" x2="574.43" y1="271.60" y2="271.60" stroke="#2a2a2a" stroke-width="0.7"/>
<line x1="572.62" x2="574.43" y1="276.69" y2="276.69" stroke="#2a2a2a" stroke-width="0.7"/>
<circle cx="572.11" cy="270.35" r="1.25" fill="#0173B2" stroke="#161616" stroke-width="0.6"/>
<circle cx="574.88" cy="270.39" r="1.25" fill="#0173B2" stroke="#161616" stroke-width="0.6"/>
<circle cx="572.56" cy="278.03" r="1.25" fill="#0173B2" stroke="#161616" stroke-width="0.6"/>
<circle cx="574.48" cy="278.16" r="1.25" fill="#0173B2" stroke="#161616" stroke-width="0.6"/>
<text x="573.53" y="265.60" font-size="6.7" text-anchor="middle" fill="#000" style="color:#000">0.36</text>
<line x1="588.59" x2="588.59" y1="257.10" y2="267.27" stroke="#2a2a2a" stroke-width="0.7"/>
<line x1="587.69" x2="589.49" y1="257.10" y2="257.10" stroke="#2a2a2a" stroke-width="0.7"/>
<line x1="587.69" x2="589.49" y1="267.27" y2="267.27" stroke="#2a2a2a" stroke-width="0.7"/>
<circle cx="587.59" cy="254.30" r="1.25" fill="#DE8F05" stroke="#161616" stroke-width="0.6"/>
<circle cx="589.91" cy="254.33" r="1.25" fill="#DE8F05" stroke="#161616" stroke-width="0.6"/>
<circle cx="587.44" cy="262.07" r="1.25" fill="#DE8F05" stroke="#161616" stroke-width="0.6"/>
<circle cx="589.67" cy="261.92" r="1.25" fill="#DE8F05" stroke="#161616" stroke-width="0.6"/>
<circle cx="587.23" cy="269.52" r="1.25" fill="#DE8F05" stroke="#161616" stroke-width="0.6"/>
<circle cx="589.60" cy="269.92" r="1.25" fill="#DE8F05" stroke="#161616" stroke-width="0.6"/>
<text x="588.59" y="251.10" font-size="6.7" text-anchor="middle" fill="#000" style="color:#000">0.46</text>
<line x1="603.65" x2="603.65" y1="245.90" y2="252.16" stroke="#2a2a2a" stroke-width="0.7"/>
<line x1="602.75" x2="604.55" y1="245.90" y2="245.90" stroke="#2a2a2a" stroke-width="0.7"/>
<line x1="602.75" x2="604.55" y1="252.16" y2="252.16" stroke="#2a2a2a" stroke-width="0.7"/>
<circle cx="602.32" cy="244.59" r="1.25" fill="#029E73" stroke="#161616" stroke-width="0.6"/>
<circle cx="604.77" cy="244.72" r="1.25" fill="#029E73" stroke="#161616" stroke-width="0.6"/>
<circle cx="602.39" cy="248.48" r="1.25" fill="#029E73" stroke="#161616" stroke-width="0.6"/>
<circle cx="604.55" cy="248.47" r="1.25" fill="#029E73" stroke="#161616" stroke-width="0.6"/>
<circle cx="602.28" cy="252.41" r="1.25" fill="#029E73" stroke="#161616" stroke-width="0.6"/>
<text x="603.65" y="239.90" font-size="6.7" text-anchor="middle" fill="#000" style="color:#000">0.57</text>
<line x1="618.71" x2="618.71" y1="247.50" y2="252.95" stroke="#2a2a2a" stroke-width="0.7"/>
<line x1="617.81" x2="619.61" y1="247.50" y2="247.50" stroke="#2a2a2a" stroke-width="0.7"/>
<line x1="617.81" x2="619.61" y1="252.95" y2="252.95" stroke="#2a2a2a" stroke-width="0.7"/>
<circle cx="617.53" cy="246.86" r="1.25" fill="#D55E00" stroke="#161616" stroke-width="0.6"/>
<circle cx="619.74" cy="246.84" r="1.25" fill="#D55E00" stroke="#161616" stroke-width="0.6"/>
<circle cx="617.57" cy="251.63" r="1.25" fill="#D55E00" stroke="#161616" stroke-width="0.6"/>
<circle cx="619.63" cy="251.59" r="1.25" fill="#D55E00" stroke="#161616" stroke-width="0.6"/>
<text x="618.71" y="241.50" font-size="6.7" text-anchor="middle" fill="#000" style="color:#000">0.56</text>
<line x1="633.77" x2="633.77" y1="245.90" y2="252.16" stroke="#2a2a2a" stroke-width="0.7"/>
<line x1="632.87" x2="634.67" y1="245.90" y2="245.90" stroke="#2a2a2a" stroke-width="0.7"/>
<line x1="632.87" x2="634.67" y1="252.16" y2="252.16" stroke="#2a2a2a" stroke-width="0.7"/>
<circle cx="632.77" cy="244.69" r="1.25" fill="#CC78BC" stroke="#161616" stroke-width="0.6"/>
<circle cx="634.71" cy="244.32" r="1.25" fill="#CC78BC" stroke="#161616" stroke-width="0.6"/>
<circle cx="632.60" cy="248.23" r="1.25" fill="#CC78BC" stroke="#161616" stroke-width="0.6"/>
<circle cx="635.09" cy="247.94" r="1.25" fill="#CC78BC" stroke="#161616" stroke-width="0.6"/>
<circle cx="632.63" cy="251.82" r="1.25" fill="#CC78BC" stroke="#161616" stroke-width="0.6"/>
<text x="633.77" y="239.90" font-size="6.7" text-anchor="middle" fill="#000" style="color:#000">0.57</text>
<line x1="648.83" x2="648.83" y1="241.60" y2="244.50" stroke="#2a2a2a" stroke-width="0.7"/>
<line x1="647.93" x2="649.73" y1="241.60" y2="241.60" stroke="#2a2a2a" stroke-width="0.7"/>
<line x1="647.93" x2="649.73" y1="244.50" y2="244.50" stroke="#2a2a2a" stroke-width="0.7"/>
<circle cx="647.92" cy="241.07" r="1.25" fill="#CA9161" stroke="#161616" stroke-width="0.6"/>
<circle cx="649.86" cy="240.38" r="1.25" fill="#CA9161" stroke="#161616" stroke-width="0.6"/>
<circle cx="647.65" cy="244.43" r="1.25" fill="#CA9161" stroke="#161616" stroke-width="0.6"/>
<circle cx="650.10" cy="244.58" r="1.25" fill="#CA9161" stroke="#161616" stroke-width="0.6"/>
<text x="648.83" y="235.60" font-size="6.7" text-anchor="middle" fill="#000" style="color:#000">0.62</text>
<line x1="663.89" x2="663.89" y1="234.30" y2="239.84" stroke="#2a2a2a" stroke-width="0.7"/>
<line x1="662.99" x2="664.80" y1="234.30" y2="234.30" stroke="#2a2a2a" stroke-width="0.7"/>
<line x1="662.99" x2="664.80" y1="239.84" y2="239.84" stroke="#2a2a2a" stroke-width="0.7"/>
<circle cx="662.92" cy="233.14" r="1.25" fill="#FBAFE4" stroke="#161616" stroke-width="0.6"/>
<circle cx="665.23" cy="233.32" r="1.25" fill="#FBAFE4" stroke="#161616" stroke-width="0.6"/>
<circle cx="662.52" cy="239.87" r="1.25" fill="#FBAFE4" stroke="#161616" stroke-width="0.6"/>
<circle cx="665.35" cy="239.74" r="1.25" fill="#FBAFE4" stroke="#161616" stroke-width="0.6"/>
<text x="663.89" y="228.30" font-size="6.7" text-anchor="middle" fill="#000" style="color:#000">0.67</text>
<text x="21.6" y="320.10" font-size="8.15" text-anchor="end" fill="#1a1a1a" style="color:#1a1a1a">0.0</text>
<text x="21.6" y="296.18" font-size="8.15" text-anchor="end" fill="#1a1a1a" style="color:#1a1a1a">0.2</text>
<text x="21.6" y="272.26" font-size="8.15" text-anchor="end" fill="#1a1a1a" style="color:#1a1a1a">0.4</text>
<text x="21.6" y="248.34" font-size="8.15" text-anchor="end" fill="#1a1a1a" style="color:#1a1a1a">0.6</text>
<text x="21.6" y="224.42" font-size="8.15" text-anchor="end" fill="#1a1a1a" style="color:#1a1a1a">0.8</text>
<text x="21.6" y="200.50" font-size="8.15" text-anchor="end" fill="#1a1a1a" style="color:#1a1a1a">1.0</text>
<text x="91.59" y="327.60" font-size="8.15" text-anchor="middle" fill="#1a1a1a" style="color:#1a1a1a">Minimal</text>
<text x="223.37" y="327.60" font-size="8.15" text-anchor="middle" fill="#1a1a1a" style="color:#1a1a1a">Specific</text>
<text x="355.15" y="327.60" font-size="8.15" text-anchor="middle" fill="#1a1a1a" style="color:#1a1a1a">Role Encouraging</text>
<text x="486.93" y="327.60" font-size="8.15" text-anchor="middle" fill="#1a1a1a" style="color:#1a1a1a">Req. specific</text>
<text x="618.71" y="327.60" font-size="8.15" text-anchor="middle" fill="#1a1a1a" style="color:#1a1a1a">Req. explicit</text>
<text transform="translate(6.4 257.40) rotate(-90)" font-size="8.15" text-anchor="middle" fill="#1a1a1a" style="color:#1a1a1a">Mean balanced accuracy</text>
<text x="38.8" y="205.90" font-size="8.2" font-weight="bold" fill="#222" style="color:#222;stroke-width:0.1px">(b)</text>
<line x1="25.7" x2="684.6" y1="445.24" y2="445.24" stroke="#e6e6e6" stroke-width="0.9"/>
<line x1="25.7" x2="684.6" y1="421.28" y2="421.28" stroke="#e6e6e6" stroke-width="0.9"/>
<line x1="25.7" x2="684.6" y1="397.32" y2="397.32" stroke="#e6e6e6" stroke-width="0.9"/>
<line x1="25.7" x2="684.6" y1="373.36" y2="373.36" stroke="#e6e6e6" stroke-width="0.9"/>
<line x1="245.33" x2="245.33" y1="349.4" y2="469.2" stroke="#8a8a8a" stroke-width="0.8" stroke-dasharray="0.9 1.6"/>
<line x1="464.97" x2="464.97" y1="349.4" y2="469.2" stroke="#8a8a8a" stroke-width="0.8" stroke-dasharray="0.9 1.6"/>
<rect x="47.66" y="432.06" width="25.10" height="37.14" fill="#0a70a9" stroke="#fff" stroke-width="0.55"/>
<rect x="72.76" y="429.67" width="25.10" height="39.53" fill="#d38c10" stroke="#fff" stroke-width="0.55"/>
<rect x="97.87" y="412.89" width="25.10" height="56.31" fill="#0a9670" stroke="#fff" stroke-width="0.55"/>
<rect x="122.97" y="411.70" width="25.10" height="57.50" fill="#ca5f0b" stroke="#fff" stroke-width="0.55"/>
<rect x="148.07" y="412.89" width="25.10" height="56.31" fill="#c87cb9" stroke="#fff" stroke-width="0.55"/>
<rect x="173.17" y="400.91" width="25.10" height="68.29" fill="#c59166" stroke="#fff" stroke-width="0.55"/>
<rect x="198.27" y="388.93" width="25.10" height="80.27" fill="#f7b3e3" stroke="#fff" stroke-width="0.55"/>
<rect x="267.30" y="422.48" width="25.10" height="46.72" fill="#0a70a9" stroke="#fff" stroke-width="0.55"/>
<rect x="292.40" y="426.07" width="25.10" height="43.13" fill="#d38c10" stroke="#fff" stroke-width="0.55"/>
<rect x="317.50" y="412.89" width="25.10" height="56.31" fill="#0a9670" stroke="#fff" stroke-width="0.55"/>
<rect x="342.60" y="410.50" width="25.10" height="58.70" fill="#ca5f0b" stroke="#fff" stroke-width="0.55"/>
<rect x="367.70" y="408.10" width="25.10" height="61.10" fill="#c87cb9" stroke="#fff" stroke-width="0.55"/>
<rect x="392.80" y="404.51" width="25.10" height="64.69" fill="#c59166" stroke="#fff" stroke-width="0.55"/>
<rect x="417.90" y="393.73" width="25.10" height="75.47" fill="#f7b3e3" stroke="#fff" stroke-width="0.55"/>
<rect x="486.93" y="404.51" width="25.10" height="64.69" fill="#0a70a9" stroke="#fff" stroke-width="0.55"/>
<rect x="512.03" y="412.89" width="25.10" height="56.31" fill="#d38c10" stroke="#fff" stroke-width="0.55"/>
<rect x="537.13" y="393.73" width="25.10" height="75.47" fill="#0a9670" stroke="#fff" stroke-width="0.55"/>
<rect x="562.23" y="387.74" width="25.10" height="81.46" fill="#ca5f0b" stroke="#fff" stroke-width="0.55"/>
<rect x="587.33" y="385.34" width="25.10" height="83.86" fill="#c87cb9" stroke="#fff" stroke-width="0.55"/>
<rect x="612.43" y="382.94" width="25.10" height="86.26" fill="#c59166" stroke="#fff" stroke-width="0.55"/>
<rect x="637.54" y="375.76" width="25.10" height="93.44" fill="#f7b3e3" stroke="#fff" stroke-width="0.55"/>
<rect x="25.6" y="349.20" width="659.0" height="120.00" fill="none" stroke="#e3e3e3" stroke-width="1.15"/>
<line x1="60.21" x2="60.21" y1="423.40" y2="437.00" stroke="#2a2a2a" stroke-width="0.7"/>
<line x1="57.20" x2="63.23" y1="423.40" y2="423.40" stroke="#2a2a2a" stroke-width="0.7"/>
<line x1="57.20" x2="63.23" y1="437.00" y2="437.00" stroke="#2a2a2a" stroke-width="0.7"/>
<circle cx="58.81" cy="417.70" r="1.15" fill="#0173B2" stroke="#161616" stroke-width="0.6"/>
<circle cx="61.65" cy="417.70" r="1.15" fill="#0173B2" stroke="#161616" stroke-width="0.6"/>
<circle cx="57.46" cy="428.20" r="1.15" fill="#0173B2" stroke="#161616" stroke-width="0.6"/>
<circle cx="62.52" cy="428.20" r="1.15" fill="#0173B2" stroke="#161616" stroke-width="0.6"/>
<circle cx="58.59" cy="435.50" r="1.15" fill="#0173B2" stroke="#161616" stroke-width="0.6"/>
<circle cx="61.24" cy="436.23" r="1.15" fill="#0173B2" stroke="#161616" stroke-width="0.6"/>
<circle cx="57.78" cy="436.97" r="1.15" fill="#0173B2" stroke="#161616" stroke-width="0.6"/>
<circle cx="63.34" cy="437.70" r="1.15" fill="#0173B2" stroke="#161616" stroke-width="0.6"/>
<circle cx="57.99" cy="438.43" r="1.15" fill="#0173B2" stroke="#161616" stroke-width="0.6"/>
<circle cx="61.02" cy="439.17" r="1.15" fill="#0173B2" stroke="#161616" stroke-width="0.6"/>
<circle cx="59.34" cy="439.90" r="1.15" fill="#0173B2" stroke="#161616" stroke-width="0.6"/>
<text x="60.21" y="416.80" font-size="6.7" text-anchor="middle" fill="#000" style="color:#000">0.31</text>
<line x1="85.31" x2="85.31" y1="420.40" y2="437.40" stroke="#2a2a2a" stroke-width="0.7"/>
<line x1="82.30" x2="88.33" y1="420.40" y2="420.40" stroke="#2a2a2a" stroke-width="0.7"/>
<line x1="82.30" x2="88.33" y1="437.40" y2="437.40" stroke="#2a2a2a" stroke-width="0.7"/>
<circle cx="84.30" cy="420.90" r="1.15" fill="#DE8F05" stroke="#161616" stroke-width="0.6"/>
<circle cx="86.52" cy="421.98" r="1.15" fill="#DE8F05" stroke="#161616" stroke-width="0.6"/>
<circle cx="84.43" cy="423.07" r="1.15" fill="#DE8F05" stroke="#161616" stroke-width="0.6"/>
<circle cx="86.24" cy="424.15" r="1.15" fill="#DE8F05" stroke="#161616" stroke-width="0.6"/>
<circle cx="82.94" cy="425.23" r="1.15" fill="#DE8F05" stroke="#161616" stroke-width="0.6"/>
<circle cx="88.28" cy="426.32" r="1.15" fill="#DE8F05" stroke="#161616" stroke-width="0.6"/>
<circle cx="84.03" cy="427.40" r="1.15" fill="#DE8F05" stroke="#161616" stroke-width="0.6"/>
<circle cx="88.45" cy="445.00" r="1.15" fill="#DE8F05" stroke="#161616" stroke-width="0.6"/>
<circle cx="83.37" cy="445.00" r="1.15" fill="#DE8F05" stroke="#161616" stroke-width="0.6"/>
<text x="85.31" y="414.30" font-size="6.7" text-anchor="middle" fill="#000" style="color:#000">0.33</text>
<line x1="110.42" x2="110.42" y1="403.40" y2="419.40" stroke="#2a2a2a" stroke-width="0.7"/>
<line x1="107.40" x2="113.43" y1="403.40" y2="403.40" stroke="#2a2a2a" stroke-width="0.7"/>
<line x1="107.40" x2="113.43" y1="419.40" y2="419.40" stroke="#2a2a2a" stroke-width="0.7"/>
<circle cx="107.69" cy="404.00" r="1.15" fill="#029E73" stroke="#161616" stroke-width="0.6"/>
<circle cx="113.42" cy="405.50" r="1.15" fill="#029E73" stroke="#161616" stroke-width="0.6"/>
<circle cx="107.36" cy="407.00" r="1.15" fill="#029E73" stroke="#161616" stroke-width="0.6"/>
<circle cx="111.30" cy="411.40" r="1.15" fill="#029E73" stroke="#161616" stroke-width="0.6"/>
<circle cx="108.88" cy="411.40" r="1.15" fill="#029E73" stroke="#161616" stroke-width="0.6"/>
<circle cx="112.67" cy="418.00" r="1.15" fill="#029E73" stroke="#161616" stroke-width="0.6"/>
<circle cx="107.34" cy="419.00" r="1.15" fill="#029E73" stroke="#161616" stroke-width="0.6"/>
<circle cx="111.43" cy="420.00" r="1.15" fill="#029E73" stroke="#161616" stroke-width="0.6"/>
<circle cx="108.91" cy="421.00" r="1.15" fill="#029E73" stroke="#161616" stroke-width="0.6"/>
<circle cx="113.26" cy="422.00" r="1.15" fill="#029E73" stroke="#161616" stroke-width="0.6"/>
<text x="110.42" y="398.70" font-size="6.7" text-anchor="middle" fill="#000" style="color:#000">0.47</text>
<line x1="135.52" x2="135.52" y1="402.60" y2="419.10" stroke="#2a2a2a" stroke-width="0.7"/>
<line x1="132.50" x2="138.53" y1="402.60" y2="402.60" stroke="#2a2a2a" stroke-width="0.7"/>
<line x1="132.50" x2="138.53" y1="419.10" y2="419.10" stroke="#2a2a2a" stroke-width="0.7"/>
<circle cx="134.44" cy="402.60" r="1.15" fill="#D55E00" stroke="#161616" stroke-width="0.6"/>
<circle cx="137.25" cy="402.60" r="1.15" fill="#D55E00" stroke="#161616" stroke-width="0.6"/>
<circle cx="133.91" cy="402.60" r="1.15" fill="#D55E00" stroke="#161616" stroke-width="0.6"/>
<circle cx="137.95" cy="412.80" r="1.15" fill="#D55E00" stroke="#161616" stroke-width="0.6"/>
<circle cx="132.49" cy="413.73" r="1.15" fill="#D55E00" stroke="#161616" stroke-width="0.6"/>
<circle cx="136.74" cy="414.65" r="1.15" fill="#D55E00" stroke="#161616" stroke-width="0.6"/>
<circle cx="132.94" cy="415.57" r="1.15" fill="#D55E00" stroke="#161616" stroke-width="0.6"/>
<circle cx="138.08" cy="416.50" r="1.15" fill="#D55E00" stroke="#161616" stroke-width="0.6"/>
<circle cx="132.71" cy="422.30" r="1.15" fill="#D55E00" stroke="#161616" stroke-width="0.6"/>
<circle cx="137.64" cy="422.30" r="1.15" fill="#D55E00" stroke="#161616" stroke-width="0.6"/>
<text x="135.52" y="396.50" font-size="6.7" text-anchor="middle" fill="#000" style="color:#000">0.48</text>
<line x1="160.62" x2="160.62" y1="408.20" y2="417.70" stroke="#2a2a2a" stroke-width="0.7"/>
<line x1="157.61" x2="163.63" y1="408.20" y2="408.20" stroke="#2a2a2a" stroke-width="0.7"/>
<line x1="157.61" x2="163.63" y1="417.70" y2="417.70" stroke="#2a2a2a" stroke-width="0.7"/>
<circle cx="157.60" cy="406.70" r="1.15" fill="#CC78BC" stroke="#161616" stroke-width="0.6"/>
<circle cx="162.29" cy="408.00" r="1.15" fill="#CC78BC" stroke="#161616" stroke-width="0.6"/>
<circle cx="158.82" cy="409.30" r="1.15" fill="#CC78BC" stroke="#161616" stroke-width="0.6"/>
<circle cx="161.97" cy="410.60" r="1.15" fill="#CC78BC" stroke="#161616" stroke-width="0.6"/>
<circle cx="157.95" cy="411.90" r="1.15" fill="#CC78BC" stroke="#161616" stroke-width="0.6"/>
<circle cx="162.57" cy="413.20" r="1.15" fill="#CC78BC" stroke="#161616" stroke-width="0.6"/>
<circle cx="159.17" cy="414.50" r="1.15" fill="#CC78BC" stroke="#161616" stroke-width="0.6"/>
<circle cx="161.83" cy="415.80" r="1.15" fill="#CC78BC" stroke="#161616" stroke-width="0.6"/>
<circle cx="158.09" cy="417.10" r="1.15" fill="#CC78BC" stroke="#161616" stroke-width="0.6"/>
<circle cx="162.87" cy="418.40" r="1.15" fill="#CC78BC" stroke="#161616" stroke-width="0.6"/>
<text x="160.62" y="401.90" font-size="6.7" text-anchor="middle" fill="#000" style="color:#000">0.47</text>
<line x1="185.72" x2="185.72" y1="395.00" y2="404.50" stroke="#2a2a2a" stroke-width="0.7"/>
<line x1="182.71" x2="188.73" y1="395.00" y2="395.00" stroke="#2a2a2a" stroke-width="0.7"/>
<line x1="182.71" x2="188.73" y1="404.50" y2="404.50" stroke="#2a2a2a" stroke-width="0.7"/>
<circle cx="183.21" cy="394.30" r="1.15" fill="#CA9161" stroke="#161616" stroke-width="0.6"/>
<circle cx="187.45" cy="395.84" r="1.15" fill="#CA9161" stroke="#161616" stroke-width="0.6"/>
<circle cx="183.75" cy="397.39" r="1.15" fill="#CA9161" stroke="#161616" stroke-width="0.6"/>
<circle cx="186.89" cy="398.93" r="1.15" fill="#CA9161" stroke="#161616" stroke-width="0.6"/>
<circle cx="183.21" cy="400.48" r="1.15" fill="#CA9161" stroke="#161616" stroke-width="0.6"/>
<circle cx="186.57" cy="402.02" r="1.15" fill="#CA9161" stroke="#161616" stroke-width="0.6"/>
<circle cx="183.80" cy="403.57" r="1.15" fill="#CA9161" stroke="#161616" stroke-width="0.6"/>
<circle cx="188.34" cy="405.11" r="1.15" fill="#CA9161" stroke="#161616" stroke-width="0.6"/>
<circle cx="183.29" cy="406.66" r="1.15" fill="#CA9161" stroke="#161616" stroke-width="0.6"/>
<circle cx="186.75" cy="408.20" r="1.15" fill="#CA9161" stroke="#161616" stroke-width="0.6"/>
<text x="185.72" y="389.60" font-size="6.7" text-anchor="middle" fill="#000" style="color:#000">0.57</text>
<line x1="210.82" x2="210.82" y1="386.60" y2="392.80" stroke="#2a2a2a" stroke-width="0.7"/>
<line x1="207.81" x2="213.83" y1="386.60" y2="386.60" stroke="#2a2a2a" stroke-width="0.7"/>
<line x1="207.81" x2="213.83" y1="392.80" y2="392.80" stroke="#2a2a2a" stroke-width="0.7"/>
<circle cx="209.45" cy="386.30" r="1.15" fill="#FBAFE4" stroke="#161616" stroke-width="0.6"/>
<circle cx="213.64" cy="387.34" r="1.15" fill="#FBAFE4" stroke="#161616" stroke-width="0.6"/>
<circle cx="208.48" cy="388.39" r="1.15" fill="#FBAFE4" stroke="#161616" stroke-width="0.6"/>
<circle cx="213.73" cy="389.43" r="1.15" fill="#FBAFE4" stroke="#161616" stroke-width="0.6"/>
<circle cx="207.93" cy="390.47" r="1.15" fill="#FBAFE4" stroke="#161616" stroke-width="0.6"/>
<circle cx="212.70" cy="391.51" r="1.15" fill="#FBAFE4" stroke="#161616" stroke-width="0.6"/>
<circle cx="207.87" cy="392.56" r="1.15" fill="#FBAFE4" stroke="#161616" stroke-width="0.6"/>
<circle cx="213.38" cy="393.60" r="1.15" fill="#FBAFE4" stroke="#161616" stroke-width="0.6"/>
<text x="210.82" y="379.70" font-size="6.7" text-anchor="middle" fill="#000" style="color:#000">0.67</text>
<line x1="279.85" x2="279.85" y1="415.30" y2="431.30" stroke="#2a2a2a" stroke-width="0.7"/>
<line x1="276.84" x2="282.86" y1="415.30" y2="415.30" stroke="#2a2a2a" stroke-width="0.7"/>
<line x1="276.84" x2="282.86" y1="431.30" y2="431.30" stroke="#2a2a2a" stroke-width="0.7"/>
<circle cx="278.25" cy="414.50" r="1.15" fill="#0173B2" stroke="#161616" stroke-width="0.6"/>
<circle cx="281.54" cy="415.23" r="1.15" fill="#0173B2" stroke="#161616" stroke-width="0.6"/>
<circle cx="278.87" cy="415.95" r="1.15" fill="#0173B2" stroke="#161616" stroke-width="0.6"/>
<circle cx="281.61" cy="416.67" r="1.15" fill="#0173B2" stroke="#161616" stroke-width="0.6"/>
<circle cx="276.75" cy="417.40" r="1.15" fill="#0173B2" stroke="#161616" stroke-width="0.6"/>
<circle cx="280.90" cy="421.10" r="1.15" fill="#0173B2" stroke="#161616" stroke-width="0.6"/>
<circle cx="277.68" cy="421.10" r="1.15" fill="#0173B2" stroke="#161616" stroke-width="0.6"/>
<circle cx="280.91" cy="428.40" r="1.15" fill="#0173B2" stroke="#161616" stroke-width="0.6"/>
<circle cx="278.85" cy="429.50" r="1.15" fill="#0173B2" stroke="#161616" stroke-width="0.6"/>
<circle cx="282.21" cy="430.60" r="1.15" fill="#0173B2" stroke="#161616" stroke-width="0.6"/>
<circle cx="278.47" cy="431.70" r="1.15" fill="#0173B2" stroke="#161616" stroke-width="0.6"/>
<circle cx="280.76" cy="432.80" r="1.15" fill="#0173B2" stroke="#161616" stroke-width="0.6"/>
<text x="279.85" y="409.10" font-size="6.7" text-anchor="middle" fill="#000" style="color:#000">0.39</text>
<line x1="304.95" x2="304.95" y1="415.50" y2="435.00" stroke="#2a2a2a" stroke-width="0.7"/>
<line x1="301.94" x2="307.96" y1="415.50" y2="415.50" stroke="#2a2a2a" stroke-width="0.7"/>
<line x1="301.94" x2="307.96" y1="435.00" y2="435.00" stroke="#2a2a2a" stroke-width="0.7"/>
<circle cx="303.78" cy="414.50" r="1.15" fill="#DE8F05" stroke="#161616" stroke-width="0.6"/>
<circle cx="307.30" cy="415.48" r="1.15" fill="#DE8F05" stroke="#161616" stroke-width="0.6"/>
<circle cx="302.74" cy="416.47" r="1.15" fill="#DE8F05" stroke="#161616" stroke-width="0.6"/>
<circle cx="305.78" cy="417.45" r="1.15" fill="#DE8F05" stroke="#161616" stroke-width="0.6"/>
<circle cx="303.60" cy="418.43" r="1.15" fill="#DE8F05" stroke="#161616" stroke-width="0.6"/>
<circle cx="308.07" cy="419.42" r="1.15" fill="#DE8F05" stroke="#161616" stroke-width="0.6"/>
<circle cx="303.62" cy="420.40" r="1.15" fill="#DE8F05" stroke="#161616" stroke-width="0.6"/>
<circle cx="307.10" cy="432.80" r="1.15" fill="#DE8F05" stroke="#161616" stroke-width="0.6"/>
<circle cx="303.14" cy="432.80" r="1.15" fill="#DE8F05" stroke="#161616" stroke-width="0.6"/>
<circle cx="307.62" cy="439.30" r="1.15" fill="#DE8F05" stroke="#161616" stroke-width="0.6"/>
<circle cx="302.70" cy="439.30" r="1.15" fill="#DE8F05" stroke="#161616" stroke-width="0.6"/>
<text x="304.95" y="409.70" font-size="6.7" text-anchor="middle" fill="#000" style="color:#000">0.36</text>
<line x1="330.05" x2="330.05" y1="409.40" y2="416.70" stroke="#2a2a2a" stroke-width="0.7"/>
<line x1="327.04" x2="333.06" y1="409.40" y2="409.40" stroke="#2a2a2a" stroke-width="0.7"/>
<line x1="327.04" x2="333.06" y1="416.70" y2="416.70" stroke="#2a2a2a" stroke-width="0.7"/>
<circle cx="327.36" cy="408.70" r="1.15" fill="#029E73" stroke="#161616" stroke-width="0.6"/>
<circle cx="332.13" cy="410.16" r="1.15" fill="#029E73" stroke="#161616" stroke-width="0.6"/>
<circle cx="328.80" cy="411.61" r="1.15" fill="#029E73" stroke="#161616" stroke-width="0.6"/>
<circle cx="331.28" cy="413.07" r="1.15" fill="#029E73" stroke="#161616" stroke-width="0.6"/>
<circle cx="329.06" cy="414.53" r="1.15" fill="#029E73" stroke="#161616" stroke-width="0.6"/>
<circle cx="332.83" cy="415.99" r="1.15" fill="#029E73" stroke="#161616" stroke-width="0.6"/>
<circle cx="328.98" cy="417.44" r="1.15" fill="#029E73" stroke="#161616" stroke-width="0.6"/>
<circle cx="330.91" cy="418.90" r="1.15" fill="#029E73" stroke="#161616" stroke-width="0.6"/>
<text x="330.05" y="402.40" font-size="6.7" text-anchor="middle" fill="#000" style="color:#000">0.47</text>
<line x1="355.15" x2="355.15" y1="405.00" y2="413.80" stroke="#2a2a2a" stroke-width="0.7"/>
<line x1="352.14" x2="358.16" y1="405.00" y2="405.00" stroke="#2a2a2a" stroke-width="0.7"/>
<line x1="352.14" x2="358.16" y1="413.80" y2="413.80" stroke="#2a2a2a" stroke-width="0.7"/>
<circle cx="352.03" cy="403.60" r="1.15" fill="#D55E00" stroke="#161616" stroke-width="0.6"/>
<circle cx="356.43" cy="404.90" r="1.15" fill="#D55E00" stroke="#161616" stroke-width="0.6"/>
<circle cx="352.21" cy="406.20" r="1.15" fill="#D55E00" stroke="#161616" stroke-width="0.6"/>
<circle cx="356.16" cy="407.50" r="1.15" fill="#D55E00" stroke="#161616" stroke-width="0.6"/>
<circle cx="353.23" cy="408.80" r="1.15" fill="#D55E00" stroke="#161616" stroke-width="0.6"/>
<circle cx="356.48" cy="410.10" r="1.15" fill="#D55E00" stroke="#161616" stroke-width="0.6"/>
<circle cx="352.36" cy="411.40" r="1.15" fill="#D55E00" stroke="#161616" stroke-width="0.6"/>
<circle cx="357.43" cy="412.70" r="1.15" fill="#D55E00" stroke="#161616" stroke-width="0.6"/>
<circle cx="352.81" cy="414.00" r="1.15" fill="#D55E00" stroke="#161616" stroke-width="0.6"/>
<circle cx="357.78" cy="415.30" r="1.15" fill="#D55E00" stroke="#161616" stroke-width="0.6"/>
<text x="355.15" y="399.20" font-size="6.7" text-anchor="middle" fill="#000" style="color:#000">0.49</text>
<line x1="380.25" x2="380.25" y1="405.40" y2="410.80" stroke="#2a2a2a" stroke-width="0.7"/>
<line x1="377.24" x2="383.26" y1="405.40" y2="405.40" stroke="#2a2a2a" stroke-width="0.7"/>
<line x1="377.24" x2="383.26" y1="410.80" y2="410.80" stroke="#2a2a2a" stroke-width="0.7"/>
<circle cx="377.36" cy="405.30" r="1.15" fill="#CC78BC" stroke="#161616" stroke-width="0.6"/>
<circle cx="381.88" cy="406.15" r="1.15" fill="#CC78BC" stroke="#161616" stroke-width="0.6"/>
<circle cx="378.00" cy="407.00" r="1.15" fill="#CC78BC" stroke="#161616" stroke-width="0.6"/>
<circle cx="382.12" cy="407.85" r="1.15" fill="#CC78BC" stroke="#161616" stroke-width="0.6"/>
<circle cx="379.18" cy="408.70" r="1.15" fill="#CC78BC" stroke="#161616" stroke-width="0.6"/>
<circle cx="383.06" cy="409.55" r="1.15" fill="#CC78BC" stroke="#161616" stroke-width="0.6"/>
<circle cx="378.02" cy="410.40" r="1.15" fill="#CC78BC" stroke="#161616" stroke-width="0.6"/>
<text x="380.25" y="399.40" font-size="6.7" text-anchor="middle" fill="#000" style="color:#000">0.51</text>
<line x1="405.35" x2="405.35" y1="401.50" y2="407.52" stroke="#2a2a2a" stroke-width="0.7"/>
<line x1="402.34" x2="408.36" y1="401.50" y2="401.50" stroke="#2a2a2a" stroke-width="0.7"/>
<line x1="402.34" x2="408.36" y1="407.52" y2="407.52" stroke="#2a2a2a" stroke-width="0.7"/>
<circle cx="402.60" cy="400.10" r="1.15" fill="#CA9161" stroke="#161616" stroke-width="0.6"/>
<circle cx="406.65" cy="401.36" r="1.15" fill="#CA9161" stroke="#161616" stroke-width="0.6"/>
<circle cx="403.26" cy="402.61" r="1.15" fill="#CA9161" stroke="#161616" stroke-width="0.6"/>
<circle cx="407.27" cy="403.87" r="1.15" fill="#CA9161" stroke="#161616" stroke-width="0.6"/>
<circle cx="402.80" cy="405.13" r="1.15" fill="#CA9161" stroke="#161616" stroke-width="0.6"/>
<circle cx="406.34" cy="406.39" r="1.15" fill="#CA9161" stroke="#161616" stroke-width="0.6"/>
<circle cx="403.72" cy="407.64" r="1.15" fill="#CA9161" stroke="#161616" stroke-width="0.6"/>
<circle cx="407.31" cy="408.90" r="1.15" fill="#CA9161" stroke="#161616" stroke-width="0.6"/>
<text x="405.35" y="395.50" font-size="6.7" text-anchor="middle" fill="#000" style="color:#000">0.54</text>
<line x1="430.45" x2="430.45" y1="389.60" y2="397.85" stroke="#2a2a2a" stroke-width="0.7"/>
<line x1="427.44" x2="433.46" y1="389.60" y2="389.60" stroke="#2a2a2a" stroke-width="0.7"/>
<line x1="427.44" x2="433.46" y1="397.85" y2="397.85" stroke="#2a2a2a" stroke-width="0.7"/>
<circle cx="429.48" cy="389.90" r="1.15" fill="#FBAFE4" stroke="#161616" stroke-width="0.6"/>
<circle cx="432.58" cy="391.26" r="1.15" fill="#FBAFE4" stroke="#161616" stroke-width="0.6"/>
<circle cx="427.89" cy="392.61" r="1.15" fill="#FBAFE4" stroke="#161616" stroke-width="0.6"/>
<circle cx="432.27" cy="393.97" r="1.15" fill="#FBAFE4" stroke="#161616" stroke-width="0.6"/>
<circle cx="428.10" cy="395.33" r="1.15" fill="#FBAFE4" stroke="#161616" stroke-width="0.6"/>
<circle cx="432.71" cy="396.69" r="1.15" fill="#FBAFE4" stroke="#161616" stroke-width="0.6"/>
<circle cx="429.14" cy="398.04" r="1.15" fill="#FBAFE4" stroke="#161616" stroke-width="0.6"/>
<circle cx="432.09" cy="399.40" r="1.15" fill="#FBAFE4" stroke="#161616" stroke-width="0.6"/>
<text x="430.45" y="383.60" font-size="6.7" text-anchor="middle" fill="#000" style="color:#000">0.63</text>
<line x1="499.48" x2="499.48" y1="397.30" y2="408.30" stroke="#2a2a2a" stroke-width="0.7"/>
<line x1="496.47" x2="502.49" y1="397.30" y2="397.30" stroke="#2a2a2a" stroke-width="0.7"/>
<line x1="496.47" x2="502.49" y1="408.30" y2="408.30" stroke="#2a2a2a" stroke-width="0.7"/>
<circle cx="496.29" cy="396.60" r="1.15" fill="#0173B2" stroke="#161616" stroke-width="0.6"/>
<circle cx="501.08" cy="397.70" r="1.15" fill="#0173B2" stroke="#161616" stroke-width="0.6"/>
<circle cx="497.65" cy="398.80" r="1.15" fill="#0173B2" stroke="#161616" stroke-width="0.6"/>
<circle cx="500.48" cy="399.90" r="1.15" fill="#0173B2" stroke="#161616" stroke-width="0.6"/>
<circle cx="498.16" cy="401.00" r="1.15" fill="#0173B2" stroke="#161616" stroke-width="0.6"/>
<circle cx="500.68" cy="402.10" r="1.15" fill="#0173B2" stroke="#161616" stroke-width="0.6"/>
<circle cx="496.45" cy="403.20" r="1.15" fill="#0173B2" stroke="#161616" stroke-width="0.6"/>
<circle cx="502.02" cy="409.00" r="1.15" fill="#0173B2" stroke="#161616" stroke-width="0.6"/>
<circle cx="496.58" cy="409.00" r="1.15" fill="#0173B2" stroke="#161616" stroke-width="0.6"/>
<text x="499.48" y="390.80" font-size="6.7" text-anchor="middle" fill="#000" style="color:#000">0.54</text>
<line x1="524.58" x2="524.58" y1="403.90" y2="418.50" stroke="#2a2a2a" stroke-width="0.7"/>
<line x1="521.57" x2="527.59" y1="403.90" y2="403.90" stroke="#2a2a2a" stroke-width="0.7"/>
<line x1="521.57" x2="527.59" y1="418.50" y2="418.50" stroke="#2a2a2a" stroke-width="0.7"/>
<circle cx="521.41" cy="403.20" r="1.15" fill="#DE8F05" stroke="#161616" stroke-width="0.6"/>
<circle cx="526.85" cy="404.97" r="1.15" fill="#DE8F05" stroke="#161616" stroke-width="0.6"/>
<circle cx="521.55" cy="406.74" r="1.15" fill="#DE8F05" stroke="#161616" stroke-width="0.6"/>
<circle cx="526.67" cy="408.51" r="1.15" fill="#DE8F05" stroke="#161616" stroke-width="0.6"/>
<circle cx="522.78" cy="410.29" r="1.15" fill="#DE8F05" stroke="#161616" stroke-width="0.6"/>
<circle cx="527.66" cy="412.06" r="1.15" fill="#DE8F05" stroke="#161616" stroke-width="0.6"/>
<circle cx="521.61" cy="413.83" r="1.15" fill="#DE8F05" stroke="#161616" stroke-width="0.6"/>
<circle cx="527.66" cy="415.60" r="1.15" fill="#DE8F05" stroke="#161616" stroke-width="0.6"/>
<circle cx="522.62" cy="422.90" r="1.15" fill="#DE8F05" stroke="#161616" stroke-width="0.6"/>
<circle cx="527.24" cy="422.90" r="1.15" fill="#DE8F05" stroke="#161616" stroke-width="0.6"/>
<text x="524.58" y="399.50" font-size="6.7" text-anchor="middle" fill="#000" style="color:#000">0.47</text>
<line x1="549.68" x2="549.68" y1="388.90" y2="397.30" stroke="#2a2a2a" stroke-width="0.7"/>
<line x1="546.67" x2="552.69" y1="388.90" y2="388.90" stroke="#2a2a2a" stroke-width="0.7"/>
<line x1="546.67" x2="552.69" y1="397.30" y2="397.30" stroke="#2a2a2a" stroke-width="0.7"/>
<circle cx="547.91" cy="388.30" r="1.15" fill="#029E73" stroke="#161616" stroke-width="0.6"/>
<circle cx="552.88" cy="389.20" r="1.15" fill="#029E73" stroke="#161616" stroke-width="0.6"/>
<circle cx="546.67" cy="390.10" r="1.15" fill="#029E73" stroke="#161616" stroke-width="0.6"/>
<circle cx="551.18" cy="391.00" r="1.15" fill="#029E73" stroke="#161616" stroke-width="0.6"/>
<circle cx="546.64" cy="391.90" r="1.15" fill="#029E73" stroke="#161616" stroke-width="0.6"/>
<circle cx="550.93" cy="392.80" r="1.15" fill="#029E73" stroke="#161616" stroke-width="0.6"/>
<circle cx="548.65" cy="393.70" r="1.15" fill="#029E73" stroke="#161616" stroke-width="0.6"/>
<circle cx="552.22" cy="401.00" r="1.15" fill="#029E73" stroke="#161616" stroke-width="0.6"/>
<circle cx="548.18" cy="401.00" r="1.15" fill="#029E73" stroke="#161616" stroke-width="0.6"/>
<text x="549.68" y="381.60" font-size="6.7" text-anchor="middle" fill="#000" style="color:#000">0.63</text>
<line x1="574.78" x2="574.78" y1="381.00" y2="391.00" stroke="#2a2a2a" stroke-width="0.7"/>
<line x1="571.77" x2="577.80" y1="381.00" y2="381.00" stroke="#2a2a2a" stroke-width="0.7"/>
<line x1="571.77" x2="577.80" y1="391.00" y2="391.00" stroke="#2a2a2a" stroke-width="0.7"/>
<circle cx="572.74" cy="380.50" r="1.15" fill="#D55E00" stroke="#161616" stroke-width="0.6"/>
<circle cx="577.12" cy="381.43" r="1.15" fill="#D55E00" stroke="#161616" stroke-width="0.6"/>
<circle cx="573.89" cy="382.35" r="1.15" fill="#D55E00" stroke="#161616" stroke-width="0.6"/>
<circle cx="577.37" cy="383.27" r="1.15" fill="#D55E00" stroke="#161616" stroke-width="0.6"/>
<circle cx="573.32" cy="384.20" r="1.15" fill="#D55E00" stroke="#161616" stroke-width="0.6"/>
<circle cx="576.62" cy="390.00" r="1.15" fill="#D55E00" stroke="#161616" stroke-width="0.6"/>
<circle cx="573.16" cy="391.50" r="1.15" fill="#D55E00" stroke="#161616" stroke-width="0.6"/>
<circle cx="577.36" cy="393.00" r="1.15" fill="#D55E00" stroke="#161616" stroke-width="0.6"/>
<text x="574.78" y="376.20" font-size="6.7" text-anchor="middle" fill="#000" style="color:#000">0.68</text>
<line x1="599.88" x2="599.88" y1="382.90" y2="387.78" stroke="#2a2a2a" stroke-width="0.7"/>
<line x1="596.87" x2="602.90" y1="382.90" y2="382.90" stroke="#2a2a2a" stroke-width="0.7"/>
<line x1="596.87" x2="602.90" y1="387.78" y2="387.78" stroke="#2a2a2a" stroke-width="0.7"/>
<circle cx="597.29" cy="382.70" r="1.15" fill="#CC78BC" stroke="#161616" stroke-width="0.6"/>
<circle cx="601.37" cy="383.55" r="1.15" fill="#CC78BC" stroke="#161616" stroke-width="0.6"/>
<circle cx="598.84" cy="384.40" r="1.15" fill="#CC78BC" stroke="#161616" stroke-width="0.6"/>
<circle cx="601.40" cy="385.25" r="1.15" fill="#CC78BC" stroke="#161616" stroke-width="0.6"/>
<circle cx="598.10" cy="386.10" r="1.15" fill="#CC78BC" stroke="#161616" stroke-width="0.6"/>
<circle cx="600.87" cy="386.95" r="1.15" fill="#CC78BC" stroke="#161616" stroke-width="0.6"/>
<circle cx="598.72" cy="387.80" r="1.15" fill="#CC78BC" stroke="#161616" stroke-width="0.6"/>
<text x="599.88" y="376.90" font-size="6.7" text-anchor="middle" fill="#000" style="color:#000">0.70</text>
<line x1="624.99" x2="624.99" y1="379.00" y2="386.89" stroke="#2a2a2a" stroke-width="0.7"/>
<line x1="621.97" x2="628.00" y1="379.00" y2="379.00" stroke="#2a2a2a" stroke-width="0.7"/>
<line x1="621.97" x2="628.00" y1="386.89" y2="386.89" stroke="#2a2a2a" stroke-width="0.7"/>
<circle cx="622.35" cy="376.90" r="1.15" fill="#CA9161" stroke="#161616" stroke-width="0.6"/>
<circle cx="627.47" cy="378.36" r="1.15" fill="#CA9161" stroke="#161616" stroke-width="0.6"/>
<circle cx="621.84" cy="379.81" r="1.15" fill="#CA9161" stroke="#161616" stroke-width="0.6"/>
<circle cx="628.14" cy="381.27" r="1.15" fill="#CA9161" stroke="#161616" stroke-width="0.6"/>
<circle cx="622.08" cy="382.73" r="1.15" fill="#CA9161" stroke="#161616" stroke-width="0.6"/>
<circle cx="626.68" cy="384.19" r="1.15" fill="#CA9161" stroke="#161616" stroke-width="0.6"/>
<circle cx="623.80" cy="385.64" r="1.15" fill="#CA9161" stroke="#161616" stroke-width="0.6"/>
<circle cx="626.53" cy="387.10" r="1.15" fill="#CA9161" stroke="#161616" stroke-width="0.6"/>
<text x="624.99" y="373.00" font-size="6.7" text-anchor="middle" fill="#000" style="color:#000">0.72</text>
<line x1="650.09" x2="650.09" y1="372.70" y2="378.81" stroke="#2a2a2a" stroke-width="0.7"/>
<line x1="647.07" x2="653.10" y1="372.70" y2="372.70" stroke="#2a2a2a" stroke-width="0.7"/>
<line x1="647.07" x2="653.10" y1="378.81" y2="378.81" stroke="#2a2a2a" stroke-width="0.7"/>
<circle cx="648.17" cy="373.20" r="1.15" fill="#FBAFE4" stroke="#161616" stroke-width="0.6"/>
<circle cx="652.15" cy="374.18" r="1.15" fill="#FBAFE4" stroke="#161616" stroke-width="0.6"/>
<circle cx="647.99" cy="375.17" r="1.15" fill="#FBAFE4" stroke="#161616" stroke-width="0.6"/>
<circle cx="651.75" cy="376.15" r="1.15" fill="#FBAFE4" stroke="#161616" stroke-width="0.6"/>
<circle cx="647.24" cy="377.13" r="1.15" fill="#FBAFE4" stroke="#161616" stroke-width="0.6"/>
<circle cx="651.57" cy="378.12" r="1.15" fill="#FBAFE4" stroke="#161616" stroke-width="0.6"/>
<circle cx="648.17" cy="379.10" r="1.15" fill="#FBAFE4" stroke="#161616" stroke-width="0.6"/>
<text x="650.09" y="366.70" font-size="6.7" text-anchor="middle" fill="#000" style="color:#000">0.78</text>
<text x="21.6" y="472.10" font-size="8.15" text-anchor="end" fill="#1a1a1a" style="color:#1a1a1a">0.0</text>
<text x="21.6" y="448.14" font-size="8.15" text-anchor="end" fill="#1a1a1a" style="color:#1a1a1a">0.2</text>
<text x="21.6" y="424.18" font-size="8.15" text-anchor="end" fill="#1a1a1a" style="color:#1a1a1a">0.4</text>
<text x="21.6" y="400.22" font-size="8.15" text-anchor="end" fill="#1a1a1a" style="color:#1a1a1a">0.6</text>
<text x="21.6" y="376.26" font-size="8.15" text-anchor="end" fill="#1a1a1a" style="color:#1a1a1a">0.8</text>
<text x="21.6" y="352.30" font-size="8.15" text-anchor="end" fill="#1a1a1a" style="color:#1a1a1a">1.0</text>
<text x="135.52" y="479.60" font-size="8.15" text-anchor="middle" fill="#1a1a1a" style="color:#1a1a1a">Young</text>
<text x="355.15" y="479.60" font-size="8.15" text-anchor="middle" fill="#1a1a1a" style="color:#1a1a1a">Mid-Age</text>
<text x="355.15" y="488.20" font-size="8.15" text-anchor="middle" fill="#1a1a1a" style="color:#1a1a1a">Pregeriatric</text>
<text x="574.78" y="479.60" font-size="8.15" text-anchor="middle" fill="#1a1a1a" style="color:#1a1a1a">Geriatric</text>
<text transform="translate(6.4 409.30) rotate(-90)" font-size="8.15" text-anchor="middle" fill="#1a1a1a" style="color:#1a1a1a">Mean balanced accuracy</text>
<text x="38.8" y="357.70" font-size="8.2" font-weight="bold" fill="#222" style="color:#222;stroke-width:0.1px">(c)</text>
<line x1="25.7" x2="684.6" y1="597.26" y2="597.26" stroke="#e6e6e6" stroke-width="0.9"/>
<line x1="25.7" x2="684.6" y1="573.32" y2="573.32" stroke="#e6e6e6" stroke-width="0.9"/>
<line x1="25.7" x2="684.6" y1="549.38" y2="549.38" stroke="#e6e6e6" stroke-width="0.9"/>
<line x1="25.7" x2="684.6" y1="525.44" y2="525.44" stroke="#e6e6e6" stroke-width="0.9"/>
<line x1="245.33" x2="245.33" y1="501.5" y2="621.2" stroke="#8a8a8a" stroke-width="0.8" stroke-dasharray="0.9 1.6"/>
<line x1="464.97" x2="464.97" y1="501.5" y2="621.2" stroke="#8a8a8a" stroke-width="0.8" stroke-dasharray="0.9 1.6"/>
<rect x="47.66" y="585.29" width="25.10" height="35.91" fill="#0a70a9" stroke="#fff" stroke-width="0.55"/>
<rect x="72.76" y="575.71" width="25.10" height="45.49" fill="#d38c10" stroke="#fff" stroke-width="0.55"/>
<rect x="97.87" y="552.97" width="25.10" height="68.23" fill="#0a9670" stroke="#fff" stroke-width="0.55"/>
<rect x="122.97" y="566.14" width="25.10" height="55.06" fill="#ca5f0b" stroke="#fff" stroke-width="0.55"/>
<rect x="148.07" y="558.96" width="25.10" height="62.24" fill="#c87cb9" stroke="#fff" stroke-width="0.55"/>
<rect x="173.17" y="551.77" width="25.10" height="69.43" fill="#c59166" stroke="#fff" stroke-width="0.55"/>
<rect x="198.27" y="543.39" width="25.10" height="77.81" fill="#f7b3e3" stroke="#fff" stroke-width="0.55"/>
<rect x="267.30" y="581.70" width="25.10" height="39.50" fill="#0a70a9" stroke="#fff" stroke-width="0.55"/>
<rect x="292.40" y="570.93" width="25.10" height="50.27" fill="#d38c10" stroke="#fff" stroke-width="0.55"/>
<rect x="317.50" y="563.74" width="25.10" height="57.46" fill="#0a9670" stroke="#fff" stroke-width="0.55"/>
<rect x="342.60" y="567.34" width="25.10" height="53.87" fill="#ca5f0b" stroke="#fff" stroke-width="0.55"/>
<rect x="367.70" y="563.74" width="25.10" height="57.46" fill="#c87cb9" stroke="#fff" stroke-width="0.55"/>
<rect x="392.80" y="560.15" width="25.10" height="61.05" fill="#c59166" stroke="#fff" stroke-width="0.55"/>
<rect x="417.90" y="555.37" width="25.10" height="65.84" fill="#f7b3e3" stroke="#fff" stroke-width="0.55"/>
<rect x="486.93" y="567.34" width="25.10" height="53.87" fill="#0a70a9" stroke="#fff" stroke-width="0.55"/>
<rect x="512.03" y="566.14" width="25.10" height="55.06" fill="#d38c10" stroke="#fff" stroke-width="0.55"/>
<rect x="537.13" y="542.20" width="25.10" height="79.00" fill="#0a9670" stroke="#fff" stroke-width="0.55"/>
<rect x="562.23" y="539.80" width="25.10" height="81.40" fill="#ca5f0b" stroke="#fff" stroke-width="0.55"/>
<rect x="587.33" y="538.61" width="25.10" height="82.59" fill="#c87cb9" stroke="#fff" stroke-width="0.55"/>
<rect x="612.43" y="531.42" width="25.10" height="89.78" fill="#c59166" stroke="#fff" stroke-width="0.55"/>
<rect x="637.54" y="530.23" width="25.10" height="90.97" fill="#f7b3e3" stroke="#fff" stroke-width="0.55"/>
<rect x="25.6" y="501.30" width="659.0" height="119.90" fill="none" stroke="#e3e3e3" stroke-width="1.15"/>
<line x1="60.21" x2="60.21" y1="583.00" y2="587.58" stroke="#2a2a2a" stroke-width="0.7"/>
<line x1="57.20" x2="63.23" y1="583.00" y2="583.00" stroke="#2a2a2a" stroke-width="0.7"/>
<line x1="57.20" x2="63.23" y1="587.58" y2="587.58" stroke="#2a2a2a" stroke-width="0.7"/>
<circle cx="57.29" cy="582.60" r="1.15" fill="#0173B2" stroke="#161616" stroke-width="0.6"/>
<circle cx="62.95" cy="583.45" r="1.15" fill="#0173B2" stroke="#161616" stroke-width="0.6"/>
<circle cx="58.70" cy="584.30" r="1.15" fill="#0173B2" stroke="#161616" stroke-width="0.6"/>
<circle cx="61.60" cy="585.15" r="1.15" fill="#0173B2" stroke="#161616" stroke-width="0.6"/>
<circle cx="57.48" cy="586.00" r="1.15" fill="#0173B2" stroke="#161616" stroke-width="0.6"/>
<circle cx="61.04" cy="586.85" r="1.15" fill="#0173B2" stroke="#161616" stroke-width="0.6"/>
<circle cx="59.10" cy="587.70" r="1.15" fill="#0173B2" stroke="#161616" stroke-width="0.6"/>
<text x="60.21" y="577.00" font-size="6.7" text-anchor="middle" fill="#000" style="color:#000">0.30</text>
<line x1="85.31" x2="85.31" y1="570.10" y2="578.20" stroke="#2a2a2a" stroke-width="0.7"/>
<line x1="82.30" x2="88.33" y1="570.10" y2="570.10" stroke="#2a2a2a" stroke-width="0.7"/>
<line x1="82.30" x2="88.33" y1="578.20" y2="578.20" stroke="#2a2a2a" stroke-width="0.7"/>
<circle cx="83.24" cy="566.50" r="1.15" fill="#DE8F05" stroke="#161616" stroke-width="0.6"/>
<circle cx="87.40" cy="566.50" r="1.15" fill="#DE8F05" stroke="#161616" stroke-width="0.6"/>
<circle cx="84.12" cy="573.00" r="1.15" fill="#DE8F05" stroke="#161616" stroke-width="0.6"/>
<circle cx="86.24" cy="574.23" r="1.15" fill="#DE8F05" stroke="#161616" stroke-width="0.6"/>
<circle cx="84.03" cy="575.47" r="1.15" fill="#DE8F05" stroke="#161616" stroke-width="0.6"/>
<circle cx="87.96" cy="576.70" r="1.15" fill="#DE8F05" stroke="#161616" stroke-width="0.6"/>
<circle cx="83.40" cy="577.93" r="1.15" fill="#DE8F05" stroke="#161616" stroke-width="0.6"/>
<circle cx="88.47" cy="579.17" r="1.15" fill="#DE8F05" stroke="#161616" stroke-width="0.6"/>
<circle cx="82.63" cy="580.40" r="1.15" fill="#DE8F05" stroke="#161616" stroke-width="0.6"/>
<text x="85.31" y="563.90" font-size="6.7" text-anchor="middle" fill="#000" style="color:#000">0.38</text>
<line x1="110.42" x2="110.42" y1="550.90" y2="555.04" stroke="#2a2a2a" stroke-width="0.7"/>
<line x1="107.40" x2="113.43" y1="550.90" y2="550.90" stroke="#2a2a2a" stroke-width="0.7"/>
<line x1="107.40" x2="113.43" y1="555.04" y2="555.04" stroke="#2a2a2a" stroke-width="0.7"/>
<circle cx="107.27" cy="550.40" r="1.15" fill="#029E73" stroke="#161616" stroke-width="0.6"/>
<circle cx="111.30" cy="551.13" r="1.15" fill="#029E73" stroke="#161616" stroke-width="0.6"/>
<circle cx="109.17" cy="551.87" r="1.15" fill="#029E73" stroke="#161616" stroke-width="0.6"/>
<circle cx="111.25" cy="552.60" r="1.15" fill="#029E73" stroke="#161616" stroke-width="0.6"/>
<circle cx="108.58" cy="553.33" r="1.15" fill="#029E73" stroke="#161616" stroke-width="0.6"/>
<circle cx="112.03" cy="554.07" r="1.15" fill="#029E73" stroke="#161616" stroke-width="0.6"/>
<circle cx="109.49" cy="554.80" r="1.15" fill="#029E73" stroke="#161616" stroke-width="0.6"/>
<text x="110.42" y="544.90" font-size="6.7" text-anchor="middle" fill="#000" style="color:#000">0.57</text>
<line x1="135.52" x2="135.52" y1="557.40" y2="574.10" stroke="#2a2a2a" stroke-width="0.7"/>
<line x1="132.50" x2="138.53" y1="557.40" y2="557.40" stroke="#2a2a2a" stroke-width="0.7"/>
<line x1="132.50" x2="138.53" y1="574.10" y2="574.10" stroke="#2a2a2a" stroke-width="0.7"/>
<circle cx="133.41" cy="557.00" r="1.15" fill="#D55E00" stroke="#161616" stroke-width="0.6"/>
<circle cx="136.54" cy="558.22" r="1.15" fill="#D55E00" stroke="#161616" stroke-width="0.6"/>
<circle cx="133.97" cy="559.43" r="1.15" fill="#D55E00" stroke="#161616" stroke-width="0.6"/>
<circle cx="136.91" cy="560.65" r="1.15" fill="#D55E00" stroke="#161616" stroke-width="0.6"/>
<circle cx="132.79" cy="561.87" r="1.15" fill="#D55E00" stroke="#161616" stroke-width="0.6"/>
<circle cx="137.32" cy="563.08" r="1.15" fill="#D55E00" stroke="#161616" stroke-width="0.6"/>
<circle cx="134.09" cy="564.30" r="1.15" fill="#D55E00" stroke="#161616" stroke-width="0.6"/>
<circle cx="136.42" cy="581.10" r="1.15" fill="#D55E00" stroke="#161616" stroke-width="0.6"/>
<circle cx="133.69" cy="581.10" r="1.15" fill="#D55E00" stroke="#161616" stroke-width="0.6"/>
<text x="135.52" y="550.40" font-size="6.7" text-anchor="middle" fill="#000" style="color:#000">0.46</text>
<line x1="160.62" x2="160.62" y1="556.90" y2="561.01" stroke="#2a2a2a" stroke-width="0.7"/>
<line x1="157.61" x2="163.63" y1="556.90" y2="556.90" stroke="#2a2a2a" stroke-width="0.7"/>
<line x1="157.61" x2="163.63" y1="561.01" y2="561.01" stroke="#2a2a2a" stroke-width="0.7"/>
<circle cx="158.31" cy="556.00" r="1.15" fill="#CC78BC" stroke="#161616" stroke-width="0.6"/>
<circle cx="163.04" cy="556.73" r="1.15" fill="#CC78BC" stroke="#161616" stroke-width="0.6"/>
<circle cx="157.63" cy="557.47" r="1.15" fill="#CC78BC" stroke="#161616" stroke-width="0.6"/>
<circle cx="163.36" cy="558.20" r="1.15" fill="#CC78BC" stroke="#161616" stroke-width="0.6"/>
<circle cx="159.22" cy="558.93" r="1.15" fill="#CC78BC" stroke="#161616" stroke-width="0.6"/>
<circle cx="161.74" cy="559.67" r="1.15" fill="#CC78BC" stroke="#161616" stroke-width="0.6"/>
<circle cx="158.00" cy="560.40" r="1.15" fill="#CC78BC" stroke="#161616" stroke-width="0.6"/>
<text x="160.62" y="550.90" font-size="6.7" text-anchor="middle" fill="#000" style="color:#000">0.52</text>
<line x1="185.72" x2="185.72" y1="547.20" y2="556.40" stroke="#2a2a2a" stroke-width="0.7"/>
<line x1="182.71" x2="188.73" y1="547.20" y2="547.20" stroke="#2a2a2a" stroke-width="0.7"/>
<line x1="182.71" x2="188.73" y1="556.40" y2="556.40" stroke="#2a2a2a" stroke-width="0.7"/>
<circle cx="183.02" cy="546.50" r="1.15" fill="#CA9161" stroke="#161616" stroke-width="0.6"/>
<circle cx="187.74" cy="547.72" r="1.15" fill="#CA9161" stroke="#161616" stroke-width="0.6"/>
<circle cx="182.92" cy="548.93" r="1.15" fill="#CA9161" stroke="#161616" stroke-width="0.6"/>
<circle cx="187.84" cy="550.15" r="1.15" fill="#CA9161" stroke="#161616" stroke-width="0.6"/>
<circle cx="184.25" cy="551.37" r="1.15" fill="#CA9161" stroke="#161616" stroke-width="0.6"/>
<circle cx="186.92" cy="552.58" r="1.15" fill="#CA9161" stroke="#161616" stroke-width="0.6"/>
<circle cx="184.88" cy="553.80" r="1.15" fill="#CA9161" stroke="#161616" stroke-width="0.6"/>
<circle cx="188.06" cy="559.60" r="1.15" fill="#CA9161" stroke="#161616" stroke-width="0.6"/>
<circle cx="182.77" cy="559.60" r="1.15" fill="#CA9161" stroke="#161616" stroke-width="0.6"/>
<text x="185.72" y="541.00" font-size="6.7" text-anchor="middle" fill="#000" style="color:#000">0.58</text>
<line x1="210.82" x2="210.82" y1="539.20" y2="545.80" stroke="#2a2a2a" stroke-width="0.7"/>
<line x1="207.81" x2="213.83" y1="539.20" y2="539.20" stroke="#2a2a2a" stroke-width="0.7"/>
<line x1="207.81" x2="213.83" y1="545.80" y2="545.80" stroke="#2a2a2a" stroke-width="0.7"/>
<circle cx="207.84" cy="538.50" r="1.15" fill="#FBAFE4" stroke="#161616" stroke-width="0.6"/>
<circle cx="212.74" cy="539.79" r="1.15" fill="#FBAFE4" stroke="#161616" stroke-width="0.6"/>
<circle cx="208.42" cy="541.08" r="1.15" fill="#FBAFE4" stroke="#161616" stroke-width="0.6"/>
<circle cx="213.85" cy="542.37" r="1.15" fill="#FBAFE4" stroke="#161616" stroke-width="0.6"/>
<circle cx="208.07" cy="543.66" r="1.15" fill="#FBAFE4" stroke="#161616" stroke-width="0.6"/>
<circle cx="213.07" cy="544.94" r="1.15" fill="#FBAFE4" stroke="#161616" stroke-width="0.6"/>
<circle cx="209.02" cy="546.23" r="1.15" fill="#FBAFE4" stroke="#161616" stroke-width="0.6"/>
<circle cx="212.86" cy="547.52" r="1.15" fill="#FBAFE4" stroke="#161616" stroke-width="0.6"/>
<circle cx="209.61" cy="548.81" r="1.15" fill="#FBAFE4" stroke="#161616" stroke-width="0.6"/>
<circle cx="212.06" cy="550.10" r="1.15" fill="#FBAFE4" stroke="#161616" stroke-width="0.6"/>
<text x="210.82" y="532.90" font-size="6.7" text-anchor="middle" fill="#000" style="color:#000">0.65</text>
<line x1="279.85" x2="279.85" y1="576.90" y2="586.50" stroke="#2a2a2a" stroke-width="0.7"/>
<line x1="276.84" x2="282.86" y1="576.90" y2="576.90" stroke="#2a2a2a" stroke-width="0.7"/>
<line x1="276.84" x2="282.86" y1="586.50" y2="586.50" stroke="#2a2a2a" stroke-width="0.7"/>
<circle cx="277.41" cy="574.50" r="1.15" fill="#0173B2" stroke="#161616" stroke-width="0.6"/>
<circle cx="283.03" cy="576.07" r="1.15" fill="#0173B2" stroke="#161616" stroke-width="0.6"/>
<circle cx="277.73" cy="577.64" r="1.15" fill="#0173B2" stroke="#161616" stroke-width="0.6"/>
<circle cx="281.63" cy="579.21" r="1.15" fill="#0173B2" stroke="#161616" stroke-width="0.6"/>
<circle cx="278.20" cy="580.79" r="1.15" fill="#0173B2" stroke="#161616" stroke-width="0.6"/>
<circle cx="281.74" cy="582.36" r="1.15" fill="#0173B2" stroke="#161616" stroke-width="0.6"/>
<circle cx="277.12" cy="583.93" r="1.15" fill="#0173B2" stroke="#161616" stroke-width="0.6"/>
<circle cx="281.73" cy="585.50" r="1.15" fill="#0173B2" stroke="#161616" stroke-width="0.6"/>
<text x="279.85" y="570.90" font-size="6.7" text-anchor="middle" fill="#000" style="color:#000">0.33</text>
<line x1="304.95" x2="304.95" y1="565.80" y2="576.40" stroke="#2a2a2a" stroke-width="0.7"/>
<line x1="301.94" x2="307.96" y1="565.80" y2="565.80" stroke="#2a2a2a" stroke-width="0.7"/>
<line x1="301.94" x2="307.96" y1="576.40" y2="576.40" stroke="#2a2a2a" stroke-width="0.7"/>
<circle cx="301.85" cy="565.00" r="1.15" fill="#DE8F05" stroke="#161616" stroke-width="0.6"/>
<circle cx="306.12" cy="566.22" r="1.15" fill="#DE8F05" stroke="#161616" stroke-width="0.6"/>
<circle cx="303.39" cy="567.43" r="1.15" fill="#DE8F05" stroke="#161616" stroke-width="0.6"/>
<circle cx="307.00" cy="568.65" r="1.15" fill="#DE8F05" stroke="#161616" stroke-width="0.6"/>
<circle cx="303.16" cy="569.87" r="1.15" fill="#DE8F05" stroke="#161616" stroke-width="0.6"/>
<circle cx="307.79" cy="571.08" r="1.15" fill="#DE8F05" stroke="#161616" stroke-width="0.6"/>
<circle cx="302.16" cy="572.30" r="1.15" fill="#DE8F05" stroke="#161616" stroke-width="0.6"/>
<circle cx="307.98" cy="581.80" r="1.15" fill="#DE8F05" stroke="#161616" stroke-width="0.6"/>
<circle cx="302.68" cy="581.80" r="1.15" fill="#DE8F05" stroke="#161616" stroke-width="0.6"/>
<text x="304.95" y="557.70" font-size="6.7" text-anchor="middle" fill="#000" style="color:#000">0.42</text>
<line x1="330.05" x2="330.05" y1="561.10" y2="566.39" stroke="#2a2a2a" stroke-width="0.7"/>
<line x1="327.04" x2="333.06" y1="561.10" y2="561.10" stroke="#2a2a2a" stroke-width="0.7"/>
<line x1="327.04" x2="333.06" y1="566.39" y2="566.39" stroke="#2a2a2a" stroke-width="0.7"/>
<circle cx="329.18" cy="561.40" r="1.15" fill="#029E73" stroke="#161616" stroke-width="0.6"/>
<circle cx="332.23" cy="562.13" r="1.15" fill="#029E73" stroke="#161616" stroke-width="0.6"/>
<circle cx="327.93" cy="562.87" r="1.15" fill="#029E73" stroke="#161616" stroke-width="0.6"/>
<circle cx="332.02" cy="563.60" r="1.15" fill="#029E73" stroke="#161616" stroke-width="0.6"/>
<circle cx="328.58" cy="564.33" r="1.15" fill="#029E73" stroke="#161616" stroke-width="0.6"/>
<circle cx="332.55" cy="565.07" r="1.15" fill="#029E73" stroke="#161616" stroke-width="0.6"/>
<circle cx="327.06" cy="565.80" r="1.15" fill="#029E73" stroke="#161616" stroke-width="0.6"/>
<text x="330.05" y="555.10" font-size="6.7" text-anchor="middle" fill="#000" style="color:#000">0.48</text>
<line x1="355.15" x2="355.15" y1="562.10" y2="572.30" stroke="#2a2a2a" stroke-width="0.7"/>
<line x1="352.14" x2="358.16" y1="562.10" y2="562.10" stroke="#2a2a2a" stroke-width="0.7"/>
<line x1="352.14" x2="358.16" y1="572.30" y2="572.30" stroke="#2a2a2a" stroke-width="0.7"/>
<circle cx="354.10" cy="561.40" r="1.15" fill="#D55E00" stroke="#161616" stroke-width="0.6"/>
<circle cx="357.55" cy="562.62" r="1.15" fill="#D55E00" stroke="#161616" stroke-width="0.6"/>
<circle cx="353.46" cy="563.83" r="1.15" fill="#D55E00" stroke="#161616" stroke-width="0.6"/>
<circle cx="357.19" cy="565.05" r="1.15" fill="#D55E00" stroke="#161616" stroke-width="0.6"/>
<circle cx="352.20" cy="566.27" r="1.15" fill="#D55E00" stroke="#161616" stroke-width="0.6"/>
<circle cx="358.25" cy="567.48" r="1.15" fill="#D55E00" stroke="#161616" stroke-width="0.6"/>
<circle cx="352.81" cy="568.70" r="1.15" fill="#D55E00" stroke="#161616" stroke-width="0.6"/>
<circle cx="356.42" cy="576.40" r="1.15" fill="#D55E00" stroke="#161616" stroke-width="0.6"/>
<circle cx="352.14" cy="576.40" r="1.15" fill="#D55E00" stroke="#161616" stroke-width="0.6"/>
<text x="355.15" y="555.80" font-size="6.7" text-anchor="middle" fill="#000" style="color:#000">0.45</text>
<line x1="380.25" x2="380.25" y1="561.50" y2="565.99" stroke="#2a2a2a" stroke-width="0.7"/>
<line x1="377.24" x2="383.26" y1="561.50" y2="561.50" stroke="#2a2a2a" stroke-width="0.7"/>
<line x1="377.24" x2="383.26" y1="565.99" y2="565.99" stroke="#2a2a2a" stroke-width="0.7"/>
<circle cx="379.02" cy="561.30" r="1.15" fill="#CC78BC" stroke="#161616" stroke-width="0.6"/>
<circle cx="381.97" cy="561.83" r="1.15" fill="#CC78BC" stroke="#161616" stroke-width="0.6"/>
<circle cx="377.46" cy="562.37" r="1.15" fill="#CC78BC" stroke="#161616" stroke-width="0.6"/>
<circle cx="381.81" cy="562.90" r="1.15" fill="#CC78BC" stroke="#161616" stroke-width="0.6"/>
<circle cx="378.80" cy="563.43" r="1.15" fill="#CC78BC" stroke="#161616" stroke-width="0.6"/>
<circle cx="383.33" cy="563.97" r="1.15" fill="#CC78BC" stroke="#161616" stroke-width="0.6"/>
<circle cx="377.19" cy="564.50" r="1.15" fill="#CC78BC" stroke="#161616" stroke-width="0.6"/>
<text x="380.25" y="555.50" font-size="6.7" text-anchor="middle" fill="#000" style="color:#000">0.48</text>
<line x1="405.35" x2="405.35" y1="557.80" y2="562.51" stroke="#2a2a2a" stroke-width="0.7"/>
<line x1="402.34" x2="408.36" y1="557.80" y2="557.80" stroke="#2a2a2a" stroke-width="0.7"/>
<line x1="402.34" x2="408.36" y1="562.51" y2="562.51" stroke="#2a2a2a" stroke-width="0.7"/>
<circle cx="403.79" cy="557.20" r="1.15" fill="#CA9161" stroke="#161616" stroke-width="0.6"/>
<circle cx="407.09" cy="558.18" r="1.15" fill="#CA9161" stroke="#161616" stroke-width="0.6"/>
<circle cx="403.88" cy="559.17" r="1.15" fill="#CA9161" stroke="#161616" stroke-width="0.6"/>
<circle cx="406.47" cy="560.15" r="1.15" fill="#CA9161" stroke="#161616" stroke-width="0.6"/>
<circle cx="403.95" cy="561.13" r="1.15" fill="#CA9161" stroke="#161616" stroke-width="0.6"/>
<circle cx="408.50" cy="562.12" r="1.15" fill="#CA9161" stroke="#161616" stroke-width="0.6"/>
<circle cx="404.36" cy="563.10" r="1.15" fill="#CA9161" stroke="#161616" stroke-width="0.6"/>
<text x="405.35" y="551.80" font-size="6.7" text-anchor="middle" fill="#000" style="color:#000">0.51</text>
<line x1="430.45" x2="430.45" y1="553.00" y2="557.73" stroke="#2a2a2a" stroke-width="0.7"/>
<line x1="427.44" x2="433.46" y1="553.00" y2="553.00" stroke="#2a2a2a" stroke-width="0.7"/>
<line x1="427.44" x2="433.46" y1="557.73" y2="557.73" stroke="#2a2a2a" stroke-width="0.7"/>
<circle cx="429.10" cy="552.40" r="1.15" fill="#FBAFE4" stroke="#161616" stroke-width="0.6"/>
<circle cx="431.73" cy="553.37" r="1.15" fill="#FBAFE4" stroke="#161616" stroke-width="0.6"/>
<circle cx="429.46" cy="554.33" r="1.15" fill="#FBAFE4" stroke="#161616" stroke-width="0.6"/>
<circle cx="432.52" cy="555.30" r="1.15" fill="#FBAFE4" stroke="#161616" stroke-width="0.6"/>
<circle cx="427.87" cy="556.27" r="1.15" fill="#FBAFE4" stroke="#161616" stroke-width="0.6"/>
<circle cx="433.26" cy="557.23" r="1.15" fill="#FBAFE4" stroke="#161616" stroke-width="0.6"/>
<circle cx="428.14" cy="558.20" r="1.15" fill="#FBAFE4" stroke="#161616" stroke-width="0.6"/>
<text x="430.45" y="547.00" font-size="6.7" text-anchor="middle" fill="#000" style="color:#000">0.55</text>
<line x1="499.48" x2="499.48" y1="563.50" y2="570.00" stroke="#2a2a2a" stroke-width="0.7"/>
<line x1="496.47" x2="502.49" y1="563.50" y2="563.50" stroke="#2a2a2a" stroke-width="0.7"/>
<line x1="496.47" x2="502.49" y1="570.00" y2="570.00" stroke="#2a2a2a" stroke-width="0.7"/>
<circle cx="496.72" cy="560.40" r="1.15" fill="#0173B2" stroke="#161616" stroke-width="0.6"/>
<circle cx="500.29" cy="560.40" r="1.15" fill="#0173B2" stroke="#161616" stroke-width="0.6"/>
<circle cx="498.00" cy="564.70" r="1.15" fill="#0173B2" stroke="#161616" stroke-width="0.6"/>
<circle cx="502.59" cy="565.80" r="1.15" fill="#0173B2" stroke="#161616" stroke-width="0.6"/>
<circle cx="498.51" cy="566.90" r="1.15" fill="#0173B2" stroke="#161616" stroke-width="0.6"/>
<circle cx="500.92" cy="568.00" r="1.15" fill="#0173B2" stroke="#161616" stroke-width="0.6"/>
<circle cx="497.52" cy="569.10" r="1.15" fill="#0173B2" stroke="#161616" stroke-width="0.6"/>
<circle cx="500.92" cy="570.20" r="1.15" fill="#0173B2" stroke="#161616" stroke-width="0.6"/>
<circle cx="497.37" cy="571.30" r="1.15" fill="#0173B2" stroke="#161616" stroke-width="0.6"/>
<text x="499.48" y="556.70" font-size="6.7" text-anchor="middle" fill="#000" style="color:#000">0.45</text>
<line x1="524.58" x2="524.58" y1="561.00" y2="571.30" stroke="#2a2a2a" stroke-width="0.7"/>
<line x1="521.57" x2="527.59" y1="561.00" y2="561.00" stroke="#2a2a2a" stroke-width="0.7"/>
<line x1="521.57" x2="527.59" y1="571.30" y2="571.30" stroke="#2a2a2a" stroke-width="0.7"/>
<circle cx="523.67" cy="560.40" r="1.15" fill="#DE8F05" stroke="#161616" stroke-width="0.6"/>
<circle cx="525.95" cy="561.62" r="1.15" fill="#DE8F05" stroke="#161616" stroke-width="0.6"/>
<circle cx="521.48" cy="562.83" r="1.15" fill="#DE8F05" stroke="#161616" stroke-width="0.6"/>
<circle cx="525.73" cy="564.05" r="1.15" fill="#DE8F05" stroke="#161616" stroke-width="0.6"/>
<circle cx="521.61" cy="565.27" r="1.15" fill="#DE8F05" stroke="#161616" stroke-width="0.6"/>
<circle cx="525.81" cy="566.48" r="1.15" fill="#DE8F05" stroke="#161616" stroke-width="0.6"/>
<circle cx="521.40" cy="567.70" r="1.15" fill="#DE8F05" stroke="#161616" stroke-width="0.6"/>
<circle cx="527.00" cy="574.20" r="1.15" fill="#DE8F05" stroke="#161616" stroke-width="0.6"/>
<circle cx="522.23" cy="574.20" r="1.15" fill="#DE8F05" stroke="#161616" stroke-width="0.6"/>
<circle cx="525.72" cy="574.20" r="1.15" fill="#DE8F05" stroke="#161616" stroke-width="0.6"/>
<text x="524.58" y="554.50" font-size="6.7" text-anchor="middle" fill="#000" style="color:#000">0.46</text>
<line x1="549.68" x2="549.68" y1="538.60" y2="545.80" stroke="#2a2a2a" stroke-width="0.7"/>
<line x1="546.67" x2="552.69" y1="538.60" y2="538.60" stroke="#2a2a2a" stroke-width="0.7"/>
<line x1="546.67" x2="552.69" y1="545.80" y2="545.80" stroke="#2a2a2a" stroke-width="0.7"/>
<circle cx="548.75" cy="537.70" r="1.15" fill="#029E73" stroke="#161616" stroke-width="0.6"/>
<circle cx="552.31" cy="538.86" r="1.15" fill="#029E73" stroke="#161616" stroke-width="0.6"/>
<circle cx="548.46" cy="540.01" r="1.15" fill="#029E73" stroke="#161616" stroke-width="0.6"/>
<circle cx="550.94" cy="541.17" r="1.15" fill="#029E73" stroke="#161616" stroke-width="0.6"/>
<circle cx="546.91" cy="542.33" r="1.15" fill="#029E73" stroke="#161616" stroke-width="0.6"/>
<circle cx="552.58" cy="543.49" r="1.15" fill="#029E73" stroke="#161616" stroke-width="0.6"/>
<circle cx="548.77" cy="544.64" r="1.15" fill="#029E73" stroke="#161616" stroke-width="0.6"/>
<circle cx="552.79" cy="545.80" r="1.15" fill="#029E73" stroke="#161616" stroke-width="0.6"/>
<text x="549.68" y="532.60" font-size="6.7" text-anchor="middle" fill="#000" style="color:#000">0.66</text>
<line x1="574.78" x2="574.78" y1="535.00" y2="543.00" stroke="#2a2a2a" stroke-width="0.7"/>
<line x1="571.77" x2="577.80" y1="535.00" y2="535.00" stroke="#2a2a2a" stroke-width="0.7"/>
<line x1="571.77" x2="577.80" y1="543.00" y2="543.00" stroke="#2a2a2a" stroke-width="0.7"/>
<circle cx="572.70" cy="534.10" r="1.15" fill="#D55E00" stroke="#161616" stroke-width="0.6"/>
<circle cx="576.50" cy="535.55" r="1.15" fill="#D55E00" stroke="#161616" stroke-width="0.6"/>
<circle cx="573.73" cy="537.00" r="1.15" fill="#D55E00" stroke="#161616" stroke-width="0.6"/>
<circle cx="576.52" cy="542.10" r="1.15" fill="#D55E00" stroke="#161616" stroke-width="0.6"/>
<circle cx="571.61" cy="543.38" r="1.15" fill="#D55E00" stroke="#161616" stroke-width="0.6"/>
<circle cx="576.26" cy="544.65" r="1.15" fill="#D55E00" stroke="#161616" stroke-width="0.6"/>
<circle cx="573.67" cy="545.93" r="1.15" fill="#D55E00" stroke="#161616" stroke-width="0.6"/>
<circle cx="575.93" cy="547.20" r="1.15" fill="#D55E00" stroke="#161616" stroke-width="0.6"/>
<text x="574.78" y="527.50" font-size="6.7" text-anchor="middle" fill="#000" style="color:#000">0.68</text>
<line x1="599.88" x2="599.88" y1="535.50" y2="541.71" stroke="#2a2a2a" stroke-width="0.7"/>
<line x1="596.87" x2="602.90" y1="535.50" y2="535.50" stroke="#2a2a2a" stroke-width="0.7"/>
<line x1="596.87" x2="602.90" y1="541.71" y2="541.71" stroke="#2a2a2a" stroke-width="0.7"/>
<circle cx="598.78" cy="534.90" r="1.15" fill="#CC78BC" stroke="#161616" stroke-width="0.6"/>
<circle cx="601.53" cy="535.94" r="1.15" fill="#CC78BC" stroke="#161616" stroke-width="0.6"/>
<circle cx="596.89" cy="536.99" r="1.15" fill="#CC78BC" stroke="#161616" stroke-width="0.6"/>
<circle cx="600.87" cy="538.03" r="1.15" fill="#CC78BC" stroke="#161616" stroke-width="0.6"/>
<circle cx="598.62" cy="539.07" r="1.15" fill="#CC78BC" stroke="#161616" stroke-width="0.6"/>
<circle cx="602.94" cy="540.11" r="1.15" fill="#CC78BC" stroke="#161616" stroke-width="0.6"/>
<circle cx="596.69" cy="541.16" r="1.15" fill="#CC78BC" stroke="#161616" stroke-width="0.6"/>
<circle cx="603.04" cy="542.20" r="1.15" fill="#CC78BC" stroke="#161616" stroke-width="0.6"/>
<text x="599.88" y="529.50" font-size="6.7" text-anchor="middle" fill="#000" style="color:#000">0.69</text>
<line x1="624.99" x2="624.99" y1="528.20" y2="534.65" stroke="#2a2a2a" stroke-width="0.7"/>
<line x1="621.97" x2="628.00" y1="528.20" y2="528.20" stroke="#2a2a2a" stroke-width="0.7"/>
<line x1="621.97" x2="628.00" y1="534.65" y2="534.65" stroke="#2a2a2a" stroke-width="0.7"/>
<circle cx="623.59" cy="527.60" r="1.15" fill="#CA9161" stroke="#161616" stroke-width="0.6"/>
<circle cx="626.64" cy="528.64" r="1.15" fill="#CA9161" stroke="#161616" stroke-width="0.6"/>
<circle cx="621.90" cy="529.69" r="1.15" fill="#CA9161" stroke="#161616" stroke-width="0.6"/>
<circle cx="626.95" cy="530.73" r="1.15" fill="#CA9161" stroke="#161616" stroke-width="0.6"/>
<circle cx="622.50" cy="531.77" r="1.15" fill="#CA9161" stroke="#161616" stroke-width="0.6"/>
<circle cx="626.54" cy="532.81" r="1.15" fill="#CA9161" stroke="#161616" stroke-width="0.6"/>
<circle cx="624.13" cy="533.86" r="1.15" fill="#CA9161" stroke="#161616" stroke-width="0.6"/>
<circle cx="626.61" cy="534.90" r="1.15" fill="#CA9161" stroke="#161616" stroke-width="0.6"/>
<text x="624.99" y="522.20" font-size="6.7" text-anchor="middle" fill="#000" style="color:#000">0.75</text>
<line x1="650.09" x2="650.09" y1="528.20" y2="532.26" stroke="#2a2a2a" stroke-width="0.7"/>
<line x1="647.07" x2="653.10" y1="528.20" y2="528.20" stroke="#2a2a2a" stroke-width="0.7"/>
<line x1="647.07" x2="653.10" y1="532.26" y2="532.26" stroke="#2a2a2a" stroke-width="0.7"/>
<circle cx="647.49" cy="528.00" r="1.15" fill="#FBAFE4" stroke="#161616" stroke-width="0.6"/>
<circle cx="652.76" cy="528.67" r="1.15" fill="#FBAFE4" stroke="#161616" stroke-width="0.6"/>
<circle cx="647.92" cy="529.33" r="1.15" fill="#FBAFE4" stroke="#161616" stroke-width="0.6"/>
<circle cx="652.00" cy="530.00" r="1.15" fill="#FBAFE4" stroke="#161616" stroke-width="0.6"/>
<circle cx="647.99" cy="530.67" r="1.15" fill="#FBAFE4" stroke="#161616" stroke-width="0.6"/>
<circle cx="651.95" cy="531.33" r="1.15" fill="#FBAFE4" stroke="#161616" stroke-width="0.6"/>
<circle cx="648.00" cy="532.00" r="1.15" fill="#FBAFE4" stroke="#161616" stroke-width="0.6"/>
<text x="650.09" y="522.20" font-size="6.7" text-anchor="middle" fill="#000" style="color:#000">0.76</text>
<text x="21.6" y="624.10" font-size="8.15" text-anchor="end" fill="#1a1a1a" style="color:#1a1a1a">0.0</text>
<text x="21.6" y="600.16" font-size="8.15" text-anchor="end" fill="#1a1a1a" style="color:#1a1a1a">0.2</text>
<text x="21.6" y="576.22" font-size="8.15" text-anchor="end" fill="#1a1a1a" style="color:#1a1a1a">0.4</text>
<text x="21.6" y="552.28" font-size="8.15" text-anchor="end" fill="#1a1a1a" style="color:#1a1a1a">0.6</text>
<text x="21.6" y="528.34" font-size="8.15" text-anchor="end" fill="#1a1a1a" style="color:#1a1a1a">0.8</text>
<text x="21.6" y="504.40" font-size="8.15" text-anchor="end" fill="#1a1a1a" style="color:#1a1a1a">1.0</text>
<text x="135.52" y="631.60" font-size="8.15" text-anchor="middle" fill="#1a1a1a" style="color:#1a1a1a">Young</text>
<text x="355.15" y="631.60" font-size="8.15" text-anchor="middle" fill="#1a1a1a" style="color:#1a1a1a">Mid-Age</text>
<text x="355.15" y="640.20" font-size="8.15" text-anchor="middle" fill="#1a1a1a" style="color:#1a1a1a">Pregeriatric</text>
<text x="574.78" y="631.60" font-size="8.15" text-anchor="middle" fill="#1a1a1a" style="color:#1a1a1a">Geriatric</text>
<text transform="translate(6.4 561.35) rotate(-90)" font-size="8.15" text-anchor="middle" fill="#1a1a1a" style="color:#1a1a1a">Mean balanced accuracy</text>
<text x="38.8" y="509.80" font-size="8.2" font-weight="bold" fill="#222" style="color:#222;stroke-width:0.1px">(d)</text>
<line x1="25.7" x2="684.6" y1="749.26" y2="749.26" stroke="#e6e6e6" stroke-width="0.9"/>
<line x1="25.7" x2="684.6" y1="725.32" y2="725.32" stroke="#e6e6e6" stroke-width="0.9"/>
<line x1="25.7" x2="684.6" y1="701.38" y2="701.38" stroke="#e6e6e6" stroke-width="0.9"/>
<line x1="25.7" x2="684.6" y1="677.44" y2="677.44" stroke="#e6e6e6" stroke-width="0.9"/>
<line x1="135.52" x2="135.52" y1="653.5" y2="773.2" stroke="#8a8a8a" stroke-width="0.8" stroke-dasharray="0.9 1.6"/>
<line x1="245.33" x2="245.33" y1="653.5" y2="773.2" stroke="#8a8a8a" stroke-width="0.8" stroke-dasharray="0.9 1.6"/>
<line x1="355.15" x2="355.15" y1="653.5" y2="773.2" stroke="#8a8a8a" stroke-width="0.8" stroke-dasharray="0.9 1.6"/>
<line x1="464.97" x2="464.97" y1="653.5" y2="773.2" stroke="#8a8a8a" stroke-width="0.8" stroke-dasharray="0.9 1.6"/>
<line x1="574.78" x2="574.78" y1="653.5" y2="773.2" stroke="#8a8a8a" stroke-width="0.8" stroke-dasharray="0.9 1.6"/>
<rect x="36.68" y="745.67" width="12.55" height="27.53" fill="#0a70a9" stroke="#fff" stroke-width="0.55"/>
<rect x="49.23" y="744.47" width="12.55" height="28.73" fill="#d38c10" stroke="#fff" stroke-width="0.55"/>
<rect x="61.78" y="751.65" width="12.55" height="21.55" fill="#0a9670" stroke="#fff" stroke-width="0.55"/>
<rect x="74.33" y="742.08" width="12.55" height="31.12" fill="#ca5f0b" stroke="#fff" stroke-width="0.55"/>
<rect x="86.88" y="756.44" width="12.55" height="16.76" fill="#c87cb9" stroke="#fff" stroke-width="0.55"/>
<rect x="99.43" y="762.43" width="12.55" height="10.77" fill="#c59166" stroke="#fff" stroke-width="0.55"/>
<rect x="111.98" y="737.29" width="12.55" height="35.91" fill="#f7b3e3" stroke="#fff" stroke-width="0.55"/>
<rect x="146.50" y="750.46" width="12.55" height="22.74" fill="#0a70a9" stroke="#fff" stroke-width="0.55"/>
<rect x="159.05" y="736.09" width="12.55" height="37.11" fill="#d38c10" stroke="#fff" stroke-width="0.55"/>
<rect x="171.60" y="758.84" width="12.55" height="14.36" fill="#0a9670" stroke="#fff" stroke-width="0.55"/>
<rect x="184.15" y="745.67" width="12.55" height="27.53" fill="#ca5f0b" stroke="#fff" stroke-width="0.55"/>
<rect x="196.70" y="740.88" width="12.55" height="32.32" fill="#c87cb9" stroke="#fff" stroke-width="0.55"/>
<rect x="209.25" y="766.02" width="12.55" height="7.18" fill="#c59166" stroke="#fff" stroke-width="0.55"/>
<rect x="221.80" y="752.85" width="12.55" height="20.35" fill="#f7b3e3" stroke="#fff" stroke-width="0.55"/>
<rect x="256.31" y="756.44" width="12.55" height="16.76" fill="#0a70a9" stroke="#fff" stroke-width="0.55"/>
<rect x="268.87" y="733.70" width="12.55" height="39.50" fill="#d38c10" stroke="#fff" stroke-width="0.55"/>
<rect x="281.42" y="752.85" width="12.55" height="20.35" fill="#0a9670" stroke="#fff" stroke-width="0.55"/>
<rect x="293.97" y="744.47" width="12.55" height="28.73" fill="#ca5f0b" stroke="#fff" stroke-width="0.55"/>
<rect x="306.52" y="726.52" width="12.55" height="46.68" fill="#c87cb9" stroke="#fff" stroke-width="0.55"/>
<rect x="319.07" y="701.38" width="12.55" height="71.82" fill="#c59166" stroke="#fff" stroke-width="0.55"/>
<rect x="331.62" y="679.83" width="12.55" height="93.37" fill="#f7b3e3" stroke="#fff" stroke-width="0.55"/>
<rect x="366.13" y="751.65" width="12.55" height="21.55" fill="#0a70a9" stroke="#fff" stroke-width="0.55"/>
<rect x="378.68" y="749.26" width="12.55" height="23.94" fill="#d38c10" stroke="#fff" stroke-width="0.55"/>
<rect x="391.23" y="748.06" width="12.55" height="25.14" fill="#0a9670" stroke="#fff" stroke-width="0.55"/>
<rect x="403.78" y="743.28" width="12.55" height="29.93" fill="#ca5f0b" stroke="#fff" stroke-width="0.55"/>
<rect x="416.33" y="736.09" width="12.55" height="37.11" fill="#c87cb9" stroke="#fff" stroke-width="0.55"/>
<rect x="428.88" y="744.47" width="12.55" height="28.73" fill="#c59166" stroke="#fff" stroke-width="0.55"/>
<rect x="441.43" y="702.58" width="12.55" height="70.62" fill="#f7b3e3" stroke="#fff" stroke-width="0.55"/>
<rect x="475.95" y="722.93" width="12.55" height="50.27" fill="#0a70a9" stroke="#fff" stroke-width="0.55"/>
<rect x="488.50" y="726.52" width="12.55" height="46.68" fill="#d38c10" stroke="#fff" stroke-width="0.55"/>
<rect x="501.05" y="709.76" width="12.55" height="63.44" fill="#0a9670" stroke="#fff" stroke-width="0.55"/>
<rect x="513.60" y="709.76" width="12.55" height="63.44" fill="#ca5f0b" stroke="#fff" stroke-width="0.55"/>
<rect x="526.15" y="720.53" width="12.55" height="52.67" fill="#c87cb9" stroke="#fff" stroke-width="0.55"/>
<rect x="538.70" y="701.38" width="12.55" height="71.82" fill="#c59166" stroke="#fff" stroke-width="0.55"/>
<rect x="551.25" y="690.61" width="12.55" height="82.59" fill="#f7b3e3" stroke="#fff" stroke-width="0.55"/>
<rect x="585.77" y="724.12" width="12.55" height="49.08" fill="#0a70a9" stroke="#fff" stroke-width="0.55"/>
<rect x="598.32" y="728.91" width="12.55" height="44.29" fill="#d38c10" stroke="#fff" stroke-width="0.55"/>
<rect x="610.87" y="726.52" width="12.55" height="46.68" fill="#0a9670" stroke="#fff" stroke-width="0.55"/>
<rect x="623.42" y="704.97" width="12.55" height="68.23" fill="#ca5f0b" stroke="#fff" stroke-width="0.55"/>
<rect x="635.97" y="685.82" width="12.55" height="87.38" fill="#c87cb9" stroke="#fff" stroke-width="0.55"/>
<rect x="648.52" y="690.61" width="12.55" height="82.59" fill="#c59166" stroke="#fff" stroke-width="0.55"/>
<rect x="661.07" y="678.64" width="12.55" height="94.56" fill="#f7b3e3" stroke="#fff" stroke-width="0.55"/>
<rect x="25.6" y="653.30" width="659.0" height="119.90" fill="none" stroke="#e3e3e3" stroke-width="1.15"/>
<circle cx="41.64" cy="730.70" r="1.45" fill="#0173B2" stroke="#161616" stroke-width="0.6"/>
<circle cx="43.56" cy="733.03" r="1.45" fill="#0173B2" stroke="#161616" stroke-width="0.6"/>
<circle cx="41.91" cy="735.36" r="1.45" fill="#0173B2" stroke="#161616" stroke-width="0.6"/>
<circle cx="44.38" cy="737.69" r="1.45" fill="#0173B2" stroke="#161616" stroke-width="0.6"/>
<circle cx="41.63" cy="740.02" r="1.45" fill="#0173B2" stroke="#161616" stroke-width="0.6"/>
<circle cx="43.53" cy="742.35" r="1.45" fill="#0173B2" stroke="#161616" stroke-width="0.6"/>
<circle cx="41.50" cy="744.68" r="1.45" fill="#0173B2" stroke="#161616" stroke-width="0.6"/>
<circle cx="44.28" cy="747.02" r="1.45" fill="#0173B2" stroke="#161616" stroke-width="0.6"/>
<circle cx="42.39" cy="749.35" r="1.45" fill="#0173B2" stroke="#161616" stroke-width="0.6"/>
<circle cx="43.63" cy="751.68" r="1.45" fill="#0173B2" stroke="#161616" stroke-width="0.6"/>
<circle cx="42.35" cy="754.01" r="1.45" fill="#0173B2" stroke="#161616" stroke-width="0.6"/>
<circle cx="43.39" cy="756.34" r="1.45" fill="#0173B2" stroke="#161616" stroke-width="0.6"/>
<circle cx="41.48" cy="758.67" r="1.45" fill="#0173B2" stroke="#161616" stroke-width="0.6"/>
<circle cx="43.79" cy="761.00" r="1.45" fill="#0173B2" stroke="#161616" stroke-width="0.6"/>
<text x="42.96" y="725.70" font-size="6.7" text-anchor="middle" fill="#000" style="color:#000">0.23</text>
<line x1="55.51" x2="55.51" y1="739.30" y2="752.00" stroke="#2a2a2a" stroke-width="0.7"/>
<line x1="54.00" x2="57.01" y1="739.30" y2="739.30" stroke="#2a2a2a" stroke-width="0.7"/>
<line x1="54.00" x2="57.01" y1="752.00" y2="752.00" stroke="#2a2a2a" stroke-width="0.7"/>
<circle cx="54.15" cy="728.80" r="1.45" fill="#DE8F05" stroke="#161616" stroke-width="0.6"/>
<circle cx="56.01" cy="730.92" r="1.45" fill="#DE8F05" stroke="#161616" stroke-width="0.6"/>
<circle cx="55.12" cy="733.05" r="1.45" fill="#DE8F05" stroke="#161616" stroke-width="0.6"/>
<circle cx="56.86" cy="735.17" r="1.45" fill="#DE8F05" stroke="#161616" stroke-width="0.6"/>
<circle cx="54.24" cy="737.30" r="1.45" fill="#DE8F05" stroke="#161616" stroke-width="0.6"/>
<circle cx="57.00" cy="745.20" r="1.45" fill="#DE8F05" stroke="#161616" stroke-width="0.6"/>
<circle cx="54.36" cy="747.83" r="1.45" fill="#DE8F05" stroke="#161616" stroke-width="0.6"/>
<circle cx="56.47" cy="750.47" r="1.45" fill="#DE8F05" stroke="#161616" stroke-width="0.6"/>
<circle cx="54.27" cy="753.10" r="1.45" fill="#DE8F05" stroke="#161616" stroke-width="0.6"/>
<circle cx="55.99" cy="755.73" r="1.45" fill="#DE8F05" stroke="#161616" stroke-width="0.6"/>
<circle cx="54.52" cy="758.37" r="1.45" fill="#DE8F05" stroke="#161616" stroke-width="0.6"/>
<circle cx="56.38" cy="761.00" r="1.45" fill="#DE8F05" stroke="#161616" stroke-width="0.6"/>
<text x="55.51" y="727.40" font-size="6.7" text-anchor="middle" fill="#000" style="color:#000">0.24</text>
<circle cx="67.52" cy="740.60" r="1.45" fill="#029E73" stroke="#161616" stroke-width="0.6"/>
<circle cx="69.11" cy="743.13" r="1.45" fill="#029E73" stroke="#161616" stroke-width="0.6"/>
<circle cx="67.32" cy="745.66" r="1.45" fill="#029E73" stroke="#161616" stroke-width="0.6"/>
<circle cx="69.00" cy="748.19" r="1.45" fill="#029E73" stroke="#161616" stroke-width="0.6"/>
<circle cx="67.26" cy="750.71" r="1.45" fill="#029E73" stroke="#161616" stroke-width="0.6"/>
<circle cx="68.79" cy="753.24" r="1.45" fill="#029E73" stroke="#161616" stroke-width="0.6"/>
<circle cx="67.28" cy="755.77" r="1.45" fill="#029E73" stroke="#161616" stroke-width="0.6"/>
<circle cx="69.11" cy="758.30" r="1.45" fill="#029E73" stroke="#161616" stroke-width="0.6"/>
<text x="68.06" y="736.20" font-size="6.7" text-anchor="middle" fill="#000" style="color:#000">0.18</text>
<line x1="80.61" x2="80.61" y1="736.60" y2="752.00" stroke="#2a2a2a" stroke-width="0.7"/>
<line x1="79.10" x2="82.11" y1="736.60" y2="736.60" stroke="#2a2a2a" stroke-width="0.7"/>
<line x1="79.10" x2="82.11" y1="752.00" y2="752.00" stroke="#2a2a2a" stroke-width="0.7"/>
<circle cx="79.13" cy="724.80" r="1.45" fill="#D55E00" stroke="#161616" stroke-width="0.6"/>
<circle cx="82.04" cy="726.57" r="1.45" fill="#D55E00" stroke="#161616" stroke-width="0.6"/>
<circle cx="79.26" cy="728.33" r="1.45" fill="#D55E00" stroke="#161616" stroke-width="0.6"/>
<circle cx="81.92" cy="730.10" r="1.45" fill="#D55E00" stroke="#161616" stroke-width="0.6"/>
<circle cx="79.91" cy="747.80" r="1.45" fill="#D55E00" stroke="#161616" stroke-width="0.6"/>
<circle cx="82.08" cy="750.10" r="1.45" fill="#D55E00" stroke="#161616" stroke-width="0.6"/>
<circle cx="79.93" cy="752.40" r="1.45" fill="#D55E00" stroke="#161616" stroke-width="0.6"/>
<circle cx="81.12" cy="754.70" r="1.45" fill="#D55E00" stroke="#161616" stroke-width="0.6"/>
<circle cx="79.67" cy="757.00" r="1.45" fill="#D55E00" stroke="#161616" stroke-width="0.6"/>
<text x="80.61" y="722.60" font-size="6.7" text-anchor="middle" fill="#000" style="color:#000">0.26</text>
<circle cx="91.96" cy="745.20" r="1.45" fill="#CC78BC" stroke="#161616" stroke-width="0.6"/>
<circle cx="93.92" cy="747.97" r="1.45" fill="#CC78BC" stroke="#161616" stroke-width="0.6"/>
<circle cx="92.06" cy="750.73" r="1.45" fill="#CC78BC" stroke="#161616" stroke-width="0.6"/>
<circle cx="93.85" cy="753.50" r="1.45" fill="#CC78BC" stroke="#161616" stroke-width="0.6"/>
<circle cx="91.70" cy="756.27" r="1.45" fill="#CC78BC" stroke="#161616" stroke-width="0.6"/>
<circle cx="94.04" cy="759.03" r="1.45" fill="#CC78BC" stroke="#161616" stroke-width="0.6"/>
<circle cx="92.25" cy="761.80" r="1.45" fill="#CC78BC" stroke="#161616" stroke-width="0.6"/>
<circle cx="94.13" cy="764.57" r="1.45" fill="#CC78BC" stroke="#161616" stroke-width="0.6"/>
<circle cx="91.80" cy="767.33" r="1.45" fill="#CC78BC" stroke="#161616" stroke-width="0.6"/>
<circle cx="94.64" cy="770.10" r="1.45" fill="#CC78BC" stroke="#161616" stroke-width="0.6"/>
<text x="93.16" y="741.90" font-size="6.7" text-anchor="middle" fill="#000" style="color:#000">0.14</text>
<circle cx="104.74" cy="757.70" r="1.45" fill="#CA9161" stroke="#161616" stroke-width="0.6"/>
<circle cx="106.58" cy="760.18" r="1.45" fill="#CA9161" stroke="#161616" stroke-width="0.6"/>
<circle cx="104.64" cy="762.66" r="1.45" fill="#CA9161" stroke="#161616" stroke-width="0.6"/>
<circle cx="106.16" cy="765.14" r="1.45" fill="#CA9161" stroke="#161616" stroke-width="0.6"/>
<circle cx="104.86" cy="767.62" r="1.45" fill="#CA9161" stroke="#161616" stroke-width="0.6"/>
<circle cx="107.04" cy="770.10" r="1.45" fill="#CA9161" stroke="#161616" stroke-width="0.6"/>
<text x="105.71" y="751.10" font-size="6.7" text-anchor="middle" fill="#000" style="color:#000">0.09</text>
<circle cx="117.01" cy="722.20" r="1.45" fill="#FBAFE4" stroke="#161616" stroke-width="0.6"/>
<circle cx="118.70" cy="724.20" r="1.45" fill="#FBAFE4" stroke="#161616" stroke-width="0.6"/>
<circle cx="116.92" cy="730.70" r="1.45" fill="#FBAFE4" stroke="#161616" stroke-width="0.6"/>
<circle cx="119.07" cy="733.89" r="1.45" fill="#FBAFE4" stroke="#161616" stroke-width="0.6"/>
<circle cx="116.78" cy="737.07" r="1.45" fill="#FBAFE4" stroke="#161616" stroke-width="0.6"/>
<circle cx="119.05" cy="740.26" r="1.45" fill="#FBAFE4" stroke="#161616" stroke-width="0.6"/>
<circle cx="117.64" cy="743.44" r="1.45" fill="#FBAFE4" stroke="#161616" stroke-width="0.6"/>
<circle cx="119.25" cy="746.63" r="1.45" fill="#FBAFE4" stroke="#161616" stroke-width="0.6"/>
<circle cx="116.89" cy="749.81" r="1.45" fill="#FBAFE4" stroke="#161616" stroke-width="0.6"/>
<circle cx="119.12" cy="753.00" r="1.45" fill="#FBAFE4" stroke="#161616" stroke-width="0.6"/>
<text x="118.26" y="720.90" font-size="6.7" text-anchor="middle" fill="#000" style="color:#000">0.30</text>
<line x1="152.77" x2="152.77" y1="743.00" y2="752.00" stroke="#2a2a2a" stroke-width="0.7"/>
<line x1="151.27" x2="154.28" y1="743.00" y2="743.00" stroke="#2a2a2a" stroke-width="0.7"/>
<line x1="151.27" x2="154.28" y1="752.00" y2="752.00" stroke="#2a2a2a" stroke-width="0.7"/>
<circle cx="151.42" cy="734.00" r="1.45" fill="#0173B2" stroke="#161616" stroke-width="0.6"/>
<circle cx="153.95" cy="734.00" r="1.45" fill="#0173B2" stroke="#161616" stroke-width="0.6"/>
<circle cx="151.99" cy="743.20" r="1.45" fill="#0173B2" stroke="#161616" stroke-width="0.6"/>
<circle cx="153.49" cy="743.20" r="1.45" fill="#0173B2" stroke="#161616" stroke-width="0.6"/>
<circle cx="151.83" cy="750.40" r="1.45" fill="#0173B2" stroke="#161616" stroke-width="0.6"/>
<circle cx="153.60" cy="753.03" r="1.45" fill="#0173B2" stroke="#161616" stroke-width="0.6"/>
<circle cx="151.98" cy="755.67" r="1.45" fill="#0173B2" stroke="#161616" stroke-width="0.6"/>
<circle cx="153.88" cy="758.30" r="1.45" fill="#0173B2" stroke="#161616" stroke-width="0.6"/>
<circle cx="151.41" cy="764.20" r="1.45" fill="#0173B2" stroke="#161616" stroke-width="0.6"/>
<circle cx="153.81" cy="767.50" r="1.45" fill="#0173B2" stroke="#161616" stroke-width="0.6"/>
<text x="152.77" y="729.70" font-size="6.7" text-anchor="middle" fill="#000" style="color:#000">0.19</text>
<line x1="165.32" x2="165.32" y1="729.20" y2="743.90" stroke="#2a2a2a" stroke-width="0.7"/>
<line x1="163.82" x2="166.83" y1="729.20" y2="729.20" stroke="#2a2a2a" stroke-width="0.7"/>
<line x1="163.82" x2="166.83" y1="743.90" y2="743.90" stroke="#2a2a2a" stroke-width="0.7"/>
<circle cx="164.78" cy="717.60" r="1.45" fill="#DE8F05" stroke="#161616" stroke-width="0.6"/>
<circle cx="165.95" cy="719.13" r="1.45" fill="#DE8F05" stroke="#161616" stroke-width="0.6"/>
<circle cx="164.53" cy="720.67" r="1.45" fill="#DE8F05" stroke="#161616" stroke-width="0.6"/>
<circle cx="166.39" cy="722.20" r="1.45" fill="#DE8F05" stroke="#161616" stroke-width="0.6"/>
<circle cx="164.79" cy="734.00" r="1.45" fill="#DE8F05" stroke="#161616" stroke-width="0.6"/>
<circle cx="165.79" cy="739.30" r="1.45" fill="#DE8F05" stroke="#161616" stroke-width="0.6"/>
<circle cx="164.59" cy="740.60" r="1.45" fill="#DE8F05" stroke="#161616" stroke-width="0.6"/>
<circle cx="166.02" cy="766.90" r="1.45" fill="#DE8F05" stroke="#161616" stroke-width="0.6"/>
<circle cx="164.92" cy="766.90" r="1.45" fill="#DE8F05" stroke="#161616" stroke-width="0.6"/>
<text x="165.32" y="714.70" font-size="6.7" text-anchor="middle" fill="#000" style="color:#000">0.31</text>
<circle cx="176.89" cy="751.80" r="1.45" fill="#029E73" stroke="#161616" stroke-width="0.6"/>
<circle cx="179.29" cy="753.77" r="1.45" fill="#029E73" stroke="#161616" stroke-width="0.6"/>
<circle cx="176.90" cy="755.73" r="1.45" fill="#029E73" stroke="#161616" stroke-width="0.6"/>
<circle cx="179.08" cy="757.70" r="1.45" fill="#029E73" stroke="#161616" stroke-width="0.6"/>
<circle cx="176.57" cy="759.67" r="1.45" fill="#029E73" stroke="#161616" stroke-width="0.6"/>
<circle cx="179.19" cy="761.63" r="1.45" fill="#029E73" stroke="#161616" stroke-width="0.6"/>
<circle cx="176.47" cy="763.60" r="1.45" fill="#029E73" stroke="#161616" stroke-width="0.6"/>
<text x="177.87" y="746.50" font-size="6.7" text-anchor="middle" fill="#000" style="color:#000">0.12</text>
<circle cx="189.55" cy="730.70" r="1.45" fill="#D55E00" stroke="#161616" stroke-width="0.6"/>
<circle cx="191.57" cy="732.70" r="1.45" fill="#D55E00" stroke="#161616" stroke-width="0.6"/>
<circle cx="189.91" cy="734.70" r="1.45" fill="#D55E00" stroke="#161616" stroke-width="0.6"/>
<circle cx="191.79" cy="741.20" r="1.45" fill="#D55E00" stroke="#161616" stroke-width="0.6"/>
<circle cx="189.62" cy="743.62" r="1.45" fill="#D55E00" stroke="#161616" stroke-width="0.6"/>
<circle cx="191.33" cy="746.03" r="1.45" fill="#D55E00" stroke="#161616" stroke-width="0.6"/>
<circle cx="189.05" cy="748.45" r="1.45" fill="#D55E00" stroke="#161616" stroke-width="0.6"/>
<circle cx="191.12" cy="750.87" r="1.45" fill="#D55E00" stroke="#161616" stroke-width="0.6"/>
<circle cx="189.84" cy="753.28" r="1.45" fill="#D55E00" stroke="#161616" stroke-width="0.6"/>
<circle cx="191.73" cy="755.70" r="1.45" fill="#D55E00" stroke="#161616" stroke-width="0.6"/>
<text x="190.42" y="728.50" font-size="6.7" text-anchor="middle" fill="#000" style="color:#000">0.23</text>
<circle cx="201.93" cy="728.10" r="1.45" fill="#CC78BC" stroke="#161616" stroke-width="0.6"/>
<circle cx="203.45" cy="736.60" r="1.45" fill="#CC78BC" stroke="#161616" stroke-width="0.6"/>
<circle cx="202.57" cy="736.60" r="1.45" fill="#CC78BC" stroke="#161616" stroke-width="0.6"/>
<circle cx="203.75" cy="740.60" r="1.45" fill="#CC78BC" stroke="#161616" stroke-width="0.6"/>
<circle cx="202.59" cy="742.96" r="1.45" fill="#CC78BC" stroke="#161616" stroke-width="0.6"/>
<circle cx="204.29" cy="745.32" r="1.45" fill="#CC78BC" stroke="#161616" stroke-width="0.6"/>
<circle cx="202.39" cy="747.68" r="1.45" fill="#CC78BC" stroke="#161616" stroke-width="0.6"/>
<circle cx="203.66" cy="750.04" r="1.45" fill="#CC78BC" stroke="#161616" stroke-width="0.6"/>
<circle cx="202.16" cy="752.40" r="1.45" fill="#CC78BC" stroke="#161616" stroke-width="0.6"/>
<text x="202.98" y="725.50" font-size="6.7" text-anchor="middle" fill="#000" style="color:#000">0.27</text>
<circle cx="214.58" cy="757.70" r="1.45" fill="#CA9161" stroke="#161616" stroke-width="0.6"/>
<circle cx="216.39" cy="759.86" r="1.45" fill="#CA9161" stroke="#161616" stroke-width="0.6"/>
<circle cx="214.44" cy="762.01" r="1.45" fill="#CA9161" stroke="#161616" stroke-width="0.6"/>
<circle cx="216.64" cy="764.17" r="1.45" fill="#CA9161" stroke="#161616" stroke-width="0.6"/>
<circle cx="214.66" cy="766.33" r="1.45" fill="#CA9161" stroke="#161616" stroke-width="0.6"/>
<circle cx="216.01" cy="768.49" r="1.45" fill="#CA9161" stroke="#161616" stroke-width="0.6"/>
<circle cx="214.05" cy="770.64" r="1.45" fill="#CA9161" stroke="#161616" stroke-width="0.6"/>
<circle cx="216.68" cy="772.80" r="1.45" fill="#CA9161" stroke="#161616" stroke-width="0.6"/>
<text x="215.53" y="756.40" font-size="6.7" text-anchor="middle" fill="#000" style="color:#000">0.06</text>
<circle cx="227.61" cy="745.80" r="1.45" fill="#FBAFE4" stroke="#161616" stroke-width="0.6"/>
<circle cx="228.95" cy="748.22" r="1.45" fill="#FBAFE4" stroke="#161616" stroke-width="0.6"/>
<circle cx="226.85" cy="750.63" r="1.45" fill="#FBAFE4" stroke="#161616" stroke-width="0.6"/>
<circle cx="229.57" cy="753.05" r="1.45" fill="#FBAFE4" stroke="#161616" stroke-width="0.6"/>
<circle cx="227.63" cy="755.47" r="1.45" fill="#FBAFE4" stroke="#161616" stroke-width="0.6"/>
<circle cx="228.46" cy="757.88" r="1.45" fill="#FBAFE4" stroke="#161616" stroke-width="0.6"/>
<circle cx="227.16" cy="760.30" r="1.45" fill="#FBAFE4" stroke="#161616" stroke-width="0.6"/>
<text x="228.08" y="744.10" font-size="6.7" text-anchor="middle" fill="#000" style="color:#000">0.17</text>
<line x1="262.59" x2="262.59" y1="740.50" y2="752.00" stroke="#2a2a2a" stroke-width="0.7"/>
<line x1="261.08" x2="264.10" y1="740.50" y2="740.50" stroke="#2a2a2a" stroke-width="0.7"/>
<line x1="261.08" x2="264.10" y1="752.00" y2="752.00" stroke="#2a2a2a" stroke-width="0.7"/>
<circle cx="261.74" cy="738.90" r="1.45" fill="#0173B2" stroke="#161616" stroke-width="0.6"/>
<circle cx="263.97" cy="738.90" r="1.45" fill="#0173B2" stroke="#161616" stroke-width="0.6"/>
<circle cx="261.29" cy="752.30" r="1.45" fill="#0173B2" stroke="#161616" stroke-width="0.6"/>
<circle cx="263.34" cy="753.80" r="1.45" fill="#0173B2" stroke="#161616" stroke-width="0.6"/>
<circle cx="261.74" cy="760.10" r="1.45" fill="#0173B2" stroke="#161616" stroke-width="0.6"/>
<circle cx="263.62" cy="762.47" r="1.45" fill="#0173B2" stroke="#161616" stroke-width="0.6"/>
<circle cx="261.22" cy="764.83" r="1.45" fill="#0173B2" stroke="#161616" stroke-width="0.6"/>
<circle cx="263.19" cy="767.20" r="1.45" fill="#0173B2" stroke="#161616" stroke-width="0.6"/>
<text x="262.59" y="736.50" font-size="6.7" text-anchor="middle" fill="#000" style="color:#000">0.14</text>
<line x1="275.14" x2="275.14" y1="724.00" y2="738.00" stroke="#2a2a2a" stroke-width="0.7"/>
<line x1="273.63" x2="276.65" y1="724.00" y2="724.00" stroke="#2a2a2a" stroke-width="0.7"/>
<line x1="273.63" x2="276.65" y1="738.00" y2="738.00" stroke="#2a2a2a" stroke-width="0.7"/>
<circle cx="274.32" cy="721.60" r="1.45" fill="#DE8F05" stroke="#161616" stroke-width="0.6"/>
<circle cx="275.62" cy="723.43" r="1.45" fill="#DE8F05" stroke="#161616" stroke-width="0.6"/>
<circle cx="274.04" cy="725.27" r="1.45" fill="#DE8F05" stroke="#161616" stroke-width="0.6"/>
<circle cx="275.55" cy="727.10" r="1.45" fill="#DE8F05" stroke="#161616" stroke-width="0.6"/>
<circle cx="273.71" cy="742.80" r="1.45" fill="#DE8F05" stroke="#161616" stroke-width="0.6"/>
<circle cx="276.10" cy="745.97" r="1.45" fill="#DE8F05" stroke="#161616" stroke-width="0.6"/>
<circle cx="274.12" cy="749.13" r="1.45" fill="#DE8F05" stroke="#161616" stroke-width="0.6"/>
<circle cx="275.61" cy="752.30" r="1.45" fill="#DE8F05" stroke="#161616" stroke-width="0.6"/>
<text x="275.14" y="715.80" font-size="6.7" text-anchor="middle" fill="#000" style="color:#000">0.33</text>
<circle cx="287.05" cy="734.20" r="1.45" fill="#029E73" stroke="#161616" stroke-width="0.6"/>
<circle cx="288.59" cy="738.90" r="1.45" fill="#029E73" stroke="#161616" stroke-width="0.6"/>
<circle cx="286.35" cy="740.50" r="1.45" fill="#029E73" stroke="#161616" stroke-width="0.6"/>
<circle cx="288.67" cy="749.10" r="1.45" fill="#029E73" stroke="#161616" stroke-width="0.6"/>
<circle cx="287.00" cy="751.36" r="1.45" fill="#029E73" stroke="#161616" stroke-width="0.6"/>
<circle cx="289.17" cy="753.61" r="1.45" fill="#029E73" stroke="#161616" stroke-width="0.6"/>
<circle cx="286.57" cy="755.87" r="1.45" fill="#029E73" stroke="#161616" stroke-width="0.6"/>
<circle cx="288.66" cy="758.13" r="1.45" fill="#029E73" stroke="#161616" stroke-width="0.6"/>
<circle cx="287.09" cy="760.39" r="1.45" fill="#029E73" stroke="#161616" stroke-width="0.6"/>
<circle cx="288.40" cy="762.64" r="1.45" fill="#029E73" stroke="#161616" stroke-width="0.6"/>
<circle cx="286.30" cy="764.90" r="1.45" fill="#029E73" stroke="#161616" stroke-width="0.6"/>
<text x="287.69" y="732.60" font-size="6.7" text-anchor="middle" fill="#000" style="color:#000">0.17</text>
<line x1="300.24" x2="300.24" y1="740.00" y2="746.00" stroke="#2a2a2a" stroke-width="0.7"/>
<line x1="298.74" x2="301.75" y1="740.00" y2="740.00" stroke="#2a2a2a" stroke-width="0.7"/>
<line x1="298.74" x2="301.75" y1="746.00" y2="746.00" stroke="#2a2a2a" stroke-width="0.7"/>
<circle cx="299.72" cy="736.50" r="1.45" fill="#D55E00" stroke="#161616" stroke-width="0.6"/>
<circle cx="301.21" cy="738.40" r="1.45" fill="#D55E00" stroke="#161616" stroke-width="0.6"/>
<circle cx="299.17" cy="740.30" r="1.45" fill="#D55E00" stroke="#161616" stroke-width="0.6"/>
<circle cx="301.02" cy="742.20" r="1.45" fill="#D55E00" stroke="#161616" stroke-width="0.6"/>
<circle cx="299.00" cy="744.10" r="1.45" fill="#D55E00" stroke="#161616" stroke-width="0.6"/>
<circle cx="301.64" cy="746.00" r="1.45" fill="#D55E00" stroke="#161616" stroke-width="0.6"/>
<circle cx="298.90" cy="753.80" r="1.45" fill="#D55E00" stroke="#161616" stroke-width="0.6"/>
<circle cx="301.45" cy="757.00" r="1.45" fill="#D55E00" stroke="#161616" stroke-width="0.6"/>
<text x="300.24" y="732.60" font-size="6.7" text-anchor="middle" fill="#000" style="color:#000">0.24</text>
<line x1="312.79" x2="312.79" y1="724.00" y2="731.00" stroke="#2a2a2a" stroke-width="0.7"/>
<line x1="311.29" x2="314.30" y1="724.00" y2="724.00" stroke="#2a2a2a" stroke-width="0.7"/>
<line x1="311.29" x2="314.30" y1="731.00" y2="731.00" stroke="#2a2a2a" stroke-width="0.7"/>
<circle cx="312.19" cy="712.90" r="1.45" fill="#CC78BC" stroke="#161616" stroke-width="0.6"/>
<circle cx="313.23" cy="715.42" r="1.45" fill="#CC78BC" stroke="#161616" stroke-width="0.6"/>
<circle cx="311.93" cy="717.94" r="1.45" fill="#CC78BC" stroke="#161616" stroke-width="0.6"/>
<circle cx="313.52" cy="720.46" r="1.45" fill="#CC78BC" stroke="#161616" stroke-width="0.6"/>
<circle cx="312.20" cy="722.98" r="1.45" fill="#CC78BC" stroke="#161616" stroke-width="0.6"/>
<circle cx="314.15" cy="725.50" r="1.45" fill="#CC78BC" stroke="#161616" stroke-width="0.6"/>
<circle cx="312.17" cy="730.20" r="1.45" fill="#CC78BC" stroke="#161616" stroke-width="0.6"/>
<circle cx="314.09" cy="731.80" r="1.45" fill="#CC78BC" stroke="#161616" stroke-width="0.6"/>
<circle cx="311.36" cy="740.50" r="1.45" fill="#CC78BC" stroke="#161616" stroke-width="0.6"/>
<circle cx="313.30" cy="743.25" r="1.45" fill="#CC78BC" stroke="#161616" stroke-width="0.6"/>
<circle cx="311.39" cy="746.00" r="1.45" fill="#CC78BC" stroke="#161616" stroke-width="0.6"/>
<text x="312.79" y="710.60" font-size="6.7" text-anchor="middle" fill="#000" style="color:#000">0.39</text>
<circle cx="324.52" cy="691.70" r="1.45" fill="#CA9161" stroke="#161616" stroke-width="0.6"/>
<circle cx="325.96" cy="693.50" r="1.45" fill="#CA9161" stroke="#161616" stroke-width="0.6"/>
<circle cx="324.76" cy="695.30" r="1.45" fill="#CA9161" stroke="#161616" stroke-width="0.6"/>
<circle cx="325.76" cy="697.10" r="1.45" fill="#CA9161" stroke="#161616" stroke-width="0.6"/>
<circle cx="324.41" cy="698.90" r="1.45" fill="#CA9161" stroke="#161616" stroke-width="0.6"/>
<circle cx="326.15" cy="700.70" r="1.45" fill="#CA9161" stroke="#161616" stroke-width="0.6"/>
<circle cx="324.01" cy="702.50" r="1.45" fill="#CA9161" stroke="#161616" stroke-width="0.6"/>
<circle cx="326.65" cy="704.30" r="1.45" fill="#CA9161" stroke="#161616" stroke-width="0.6"/>
<circle cx="324.90" cy="716.10" r="1.45" fill="#CA9161" stroke="#161616" stroke-width="0.6"/>
<circle cx="326.17" cy="719.20" r="1.45" fill="#CA9161" stroke="#161616" stroke-width="0.6"/>
<text x="325.34" y="689.60" font-size="6.7" text-anchor="middle" fill="#000" style="color:#000">0.60</text>
<circle cx="337.08" cy="676.00" r="1.45" fill="#FBAFE4" stroke="#161616" stroke-width="0.6"/>
<circle cx="338.47" cy="677.57" r="1.45" fill="#FBAFE4" stroke="#161616" stroke-width="0.6"/>
<circle cx="337.24" cy="679.13" r="1.45" fill="#FBAFE4" stroke="#161616" stroke-width="0.6"/>
<circle cx="338.56" cy="680.70" r="1.45" fill="#FBAFE4" stroke="#161616" stroke-width="0.6"/>
<circle cx="336.74" cy="688.50" r="1.45" fill="#FBAFE4" stroke="#161616" stroke-width="0.6"/>
<circle cx="338.65" cy="688.50" r="1.45" fill="#FBAFE4" stroke="#161616" stroke-width="0.6"/>
<text x="337.89" y="670.50" font-size="6.7" text-anchor="middle" fill="#000" style="color:#000">0.78</text>
<line x1="372.41" x2="372.41" y1="744.00" y2="752.00" stroke="#2a2a2a" stroke-width="0.7"/>
<line x1="370.90" x2="373.91" y1="744.00" y2="744.00" stroke="#2a2a2a" stroke-width="0.7"/>
<line x1="370.90" x2="373.91" y1="752.00" y2="752.00" stroke="#2a2a2a" stroke-width="0.7"/>
<circle cx="371.91" cy="734.10" r="1.45" fill="#0173B2" stroke="#161616" stroke-width="0.6"/>
<circle cx="373.03" cy="735.75" r="1.45" fill="#0173B2" stroke="#161616" stroke-width="0.6"/>
<circle cx="371.53" cy="737.40" r="1.45" fill="#0173B2" stroke="#161616" stroke-width="0.6"/>
<circle cx="373.42" cy="746.60" r="1.45" fill="#0173B2" stroke="#161616" stroke-width="0.6"/>
<circle cx="371.76" cy="749.30" r="1.45" fill="#0173B2" stroke="#161616" stroke-width="0.6"/>
<circle cx="373.57" cy="753.30" r="1.45" fill="#0173B2" stroke="#161616" stroke-width="0.6"/>
<circle cx="371.79" cy="755.25" r="1.45" fill="#0173B2" stroke="#161616" stroke-width="0.6"/>
<circle cx="373.54" cy="757.20" r="1.45" fill="#0173B2" stroke="#161616" stroke-width="0.6"/>
<circle cx="371.35" cy="765.10" r="1.45" fill="#0173B2" stroke="#161616" stroke-width="0.6"/>
<circle cx="372.98" cy="765.10" r="1.45" fill="#0173B2" stroke="#161616" stroke-width="0.6"/>
<text x="372.41" y="729.50" font-size="6.7" text-anchor="middle" fill="#000" style="color:#000">0.18</text>
<line x1="384.96" x2="384.96" y1="745.00" y2="752.00" stroke="#2a2a2a" stroke-width="0.7"/>
<line x1="383.45" x2="386.46" y1="745.00" y2="745.00" stroke="#2a2a2a" stroke-width="0.7"/>
<line x1="383.45" x2="386.46" y1="752.00" y2="752.00" stroke="#2a2a2a" stroke-width="0.7"/>
<circle cx="383.74" cy="740.70" r="1.45" fill="#DE8F05" stroke="#161616" stroke-width="0.6"/>
<circle cx="385.78" cy="742.47" r="1.45" fill="#DE8F05" stroke="#161616" stroke-width="0.6"/>
<circle cx="383.98" cy="744.23" r="1.45" fill="#DE8F05" stroke="#161616" stroke-width="0.6"/>
<circle cx="386.00" cy="746.00" r="1.45" fill="#DE8F05" stroke="#161616" stroke-width="0.6"/>
<circle cx="383.88" cy="753.90" r="1.45" fill="#DE8F05" stroke="#161616" stroke-width="0.6"/>
<circle cx="385.83" cy="755.55" r="1.45" fill="#DE8F05" stroke="#161616" stroke-width="0.6"/>
<circle cx="384.52" cy="757.20" r="1.45" fill="#DE8F05" stroke="#161616" stroke-width="0.6"/>
<circle cx="386.22" cy="761.80" r="1.45" fill="#DE8F05" stroke="#161616" stroke-width="0.6"/>
<circle cx="383.62" cy="761.80" r="1.45" fill="#DE8F05" stroke="#161616" stroke-width="0.6"/>
<text x="384.96" y="735.70" font-size="6.7" text-anchor="middle" fill="#000" style="color:#000">0.20</text>
<circle cx="396.58" cy="739.40" r="1.45" fill="#029E73" stroke="#161616" stroke-width="0.6"/>
<circle cx="398.53" cy="740.93" r="1.45" fill="#029E73" stroke="#161616" stroke-width="0.6"/>
<circle cx="396.83" cy="742.47" r="1.45" fill="#029E73" stroke="#161616" stroke-width="0.6"/>
<circle cx="398.89" cy="744.00" r="1.45" fill="#029E73" stroke="#161616" stroke-width="0.6"/>
<circle cx="396.36" cy="749.30" r="1.45" fill="#029E73" stroke="#161616" stroke-width="0.6"/>
<circle cx="398.13" cy="750.83" r="1.45" fill="#029E73" stroke="#161616" stroke-width="0.6"/>
<circle cx="396.21" cy="752.37" r="1.45" fill="#029E73" stroke="#161616" stroke-width="0.6"/>
<circle cx="398.99" cy="753.90" r="1.45" fill="#029E73" stroke="#161616" stroke-width="0.6"/>
<text x="397.51" y="735.70" font-size="6.7" text-anchor="middle" fill="#000" style="color:#000">0.21</text>
<circle cx="409.29" cy="726.80" r="1.45" fill="#D55E00" stroke="#161616" stroke-width="0.6"/>
<circle cx="411.55" cy="738.00" r="1.45" fill="#D55E00" stroke="#161616" stroke-width="0.6"/>
<circle cx="409.14" cy="738.70" r="1.45" fill="#D55E00" stroke="#161616" stroke-width="0.6"/>
<circle cx="410.63" cy="745.30" r="1.45" fill="#D55E00" stroke="#161616" stroke-width="0.6"/>
<circle cx="408.88" cy="746.90" r="1.45" fill="#D55E00" stroke="#161616" stroke-width="0.6"/>
<circle cx="410.81" cy="748.50" r="1.45" fill="#D55E00" stroke="#161616" stroke-width="0.6"/>
<circle cx="408.86" cy="750.10" r="1.45" fill="#D55E00" stroke="#161616" stroke-width="0.6"/>
<circle cx="411.09" cy="751.70" r="1.45" fill="#D55E00" stroke="#161616" stroke-width="0.6"/>
<circle cx="409.56" cy="753.30" r="1.45" fill="#D55E00" stroke="#161616" stroke-width="0.6"/>
<text x="410.06" y="723.50" font-size="6.7" text-anchor="middle" fill="#000" style="color:#000">0.25</text>
<line x1="422.61" x2="422.61" y1="732.00" y2="745.00" stroke="#2a2a2a" stroke-width="0.7"/>
<line x1="421.10" x2="424.11" y1="732.00" y2="732.00" stroke="#2a2a2a" stroke-width="0.7"/>
<line x1="421.10" x2="424.11" y1="745.00" y2="745.00" stroke="#2a2a2a" stroke-width="0.7"/>
<circle cx="421.64" cy="727.50" r="1.45" fill="#CC78BC" stroke="#161616" stroke-width="0.6"/>
<circle cx="423.94" cy="728.15" r="1.45" fill="#CC78BC" stroke="#161616" stroke-width="0.6"/>
<circle cx="421.70" cy="728.80" r="1.45" fill="#CC78BC" stroke="#161616" stroke-width="0.6"/>
<circle cx="423.59" cy="734.80" r="1.45" fill="#CC78BC" stroke="#161616" stroke-width="0.6"/>
<circle cx="421.26" cy="736.40" r="1.45" fill="#CC78BC" stroke="#161616" stroke-width="0.6"/>
<circle cx="423.49" cy="738.00" r="1.45" fill="#CC78BC" stroke="#161616" stroke-width="0.6"/>
<circle cx="421.68" cy="750.00" r="1.45" fill="#CC78BC" stroke="#161616" stroke-width="0.6"/>
<circle cx="423.64" cy="750.00" r="1.45" fill="#CC78BC" stroke="#161616" stroke-width="0.6"/>
<text x="422.61" y="723.10" font-size="6.7" text-anchor="middle" fill="#000" style="color:#000">0.31</text>
<line x1="435.16" x2="435.16" y1="737.40" y2="755.00" stroke="#2a2a2a" stroke-width="0.7"/>
<line x1="433.65" x2="436.67" y1="737.40" y2="737.40" stroke="#2a2a2a" stroke-width="0.7"/>
<line x1="433.65" x2="436.67" y1="755.00" y2="755.00" stroke="#2a2a2a" stroke-width="0.7"/>
<circle cx="433.86" cy="717.60" r="1.45" fill="#CA9161" stroke="#161616" stroke-width="0.6"/>
<circle cx="435.76" cy="717.60" r="1.45" fill="#CA9161" stroke="#161616" stroke-width="0.6"/>
<circle cx="434.68" cy="744.00" r="1.45" fill="#CA9161" stroke="#161616" stroke-width="0.6"/>
<circle cx="436.39" cy="746.20" r="1.45" fill="#CA9161" stroke="#161616" stroke-width="0.6"/>
<circle cx="434.16" cy="748.40" r="1.45" fill="#CA9161" stroke="#161616" stroke-width="0.6"/>
<circle cx="435.87" cy="750.60" r="1.45" fill="#CA9161" stroke="#161616" stroke-width="0.6"/>
<circle cx="433.78" cy="758.50" r="1.45" fill="#CA9161" stroke="#161616" stroke-width="0.6"/>
<circle cx="436.53" cy="758.50" r="1.45" fill="#CA9161" stroke="#161616" stroke-width="0.6"/>
<text x="435.16" y="713.90" font-size="6.7" text-anchor="middle" fill="#000" style="color:#000">0.24</text>
<line x1="447.71" x2="447.71" y1="700.40" y2="707.00" stroke="#2a2a2a" stroke-width="0.7"/>
<line x1="446.20" x2="449.22" y1="700.40" y2="700.40" stroke="#2a2a2a" stroke-width="0.7"/>
<line x1="446.20" x2="449.22" y1="707.00" y2="707.00" stroke="#2a2a2a" stroke-width="0.7"/>
<circle cx="446.73" cy="691.10" r="1.45" fill="#FBAFE4" stroke="#161616" stroke-width="0.6"/>
<circle cx="449.20" cy="693.42" r="1.45" fill="#FBAFE4" stroke="#161616" stroke-width="0.6"/>
<circle cx="446.39" cy="695.75" r="1.45" fill="#FBAFE4" stroke="#161616" stroke-width="0.6"/>
<circle cx="448.93" cy="698.08" r="1.45" fill="#FBAFE4" stroke="#161616" stroke-width="0.6"/>
<circle cx="447.01" cy="700.40" r="1.45" fill="#FBAFE4" stroke="#161616" stroke-width="0.6"/>
<circle cx="448.10" cy="721.50" r="1.45" fill="#FBAFE4" stroke="#161616" stroke-width="0.6"/>
<circle cx="446.57" cy="721.50" r="1.45" fill="#FBAFE4" stroke="#161616" stroke-width="0.6"/>
<text x="447.71" y="687.40" font-size="6.7" text-anchor="middle" fill="#000" style="color:#000">0.59</text>
<circle cx="481.02" cy="714.50" r="1.45" fill="#0173B2" stroke="#161616" stroke-width="0.6"/>
<circle cx="482.99" cy="716.64" r="1.45" fill="#0173B2" stroke="#161616" stroke-width="0.6"/>
<circle cx="481.31" cy="718.77" r="1.45" fill="#0173B2" stroke="#161616" stroke-width="0.6"/>
<circle cx="483.24" cy="720.91" r="1.45" fill="#0173B2" stroke="#161616" stroke-width="0.6"/>
<circle cx="481.57" cy="723.05" r="1.45" fill="#0173B2" stroke="#161616" stroke-width="0.6"/>
<circle cx="483.38" cy="725.19" r="1.45" fill="#0173B2" stroke="#161616" stroke-width="0.6"/>
<circle cx="481.22" cy="727.33" r="1.45" fill="#0173B2" stroke="#161616" stroke-width="0.6"/>
<circle cx="483.03" cy="729.46" r="1.45" fill="#0173B2" stroke="#161616" stroke-width="0.6"/>
<circle cx="481.73" cy="731.60" r="1.45" fill="#0173B2" stroke="#161616" stroke-width="0.6"/>
<text x="482.22" y="711.20" font-size="6.7" text-anchor="middle" fill="#000" style="color:#000">0.42</text>
<circle cx="493.78" cy="717.10" r="1.45" fill="#DE8F05" stroke="#161616" stroke-width="0.6"/>
<circle cx="495.51" cy="719.48" r="1.45" fill="#DE8F05" stroke="#161616" stroke-width="0.6"/>
<circle cx="493.58" cy="721.86" r="1.45" fill="#DE8F05" stroke="#161616" stroke-width="0.6"/>
<circle cx="495.34" cy="724.24" r="1.45" fill="#DE8F05" stroke="#161616" stroke-width="0.6"/>
<circle cx="493.96" cy="726.62" r="1.45" fill="#DE8F05" stroke="#161616" stroke-width="0.6"/>
<circle cx="495.37" cy="729.00" r="1.45" fill="#DE8F05" stroke="#161616" stroke-width="0.6"/>
<circle cx="493.94" cy="734.30" r="1.45" fill="#DE8F05" stroke="#161616" stroke-width="0.6"/>
<circle cx="495.80" cy="736.30" r="1.45" fill="#DE8F05" stroke="#161616" stroke-width="0.6"/>
<text x="494.77" y="711.80" font-size="6.7" text-anchor="middle" fill="#000" style="color:#000">0.39</text>
<circle cx="506.83" cy="701.30" r="1.45" fill="#029E73" stroke="#161616" stroke-width="0.6"/>
<circle cx="507.76" cy="703.50" r="1.45" fill="#029E73" stroke="#161616" stroke-width="0.6"/>
<circle cx="506.41" cy="705.70" r="1.45" fill="#029E73" stroke="#161616" stroke-width="0.6"/>
<circle cx="507.93" cy="707.90" r="1.45" fill="#029E73" stroke="#161616" stroke-width="0.6"/>
<circle cx="506.38" cy="711.80" r="1.45" fill="#029E73" stroke="#161616" stroke-width="0.6"/>
<circle cx="507.89" cy="714.12" r="1.45" fill="#029E73" stroke="#161616" stroke-width="0.6"/>
<circle cx="506.84" cy="716.45" r="1.45" fill="#029E73" stroke="#161616" stroke-width="0.6"/>
<circle cx="508.30" cy="718.77" r="1.45" fill="#029E73" stroke="#161616" stroke-width="0.6"/>
<circle cx="505.91" cy="721.10" r="1.45" fill="#029E73" stroke="#161616" stroke-width="0.6"/>
<text x="507.32" y="696.60" font-size="6.7" text-anchor="middle" fill="#000" style="color:#000">0.53</text>
<line x1="519.88" x2="519.88" y1="704.60" y2="713.10" stroke="#2a2a2a" stroke-width="0.7"/>
<line x1="518.37" x2="521.38" y1="704.60" y2="704.60" stroke="#2a2a2a" stroke-width="0.7"/>
<line x1="518.37" x2="521.38" y1="713.10" y2="713.10" stroke="#2a2a2a" stroke-width="0.7"/>
<circle cx="518.52" cy="693.30" r="1.45" fill="#D55E00" stroke="#161616" stroke-width="0.6"/>
<circle cx="520.83" cy="695.73" r="1.45" fill="#D55E00" stroke="#161616" stroke-width="0.6"/>
<circle cx="519.05" cy="698.17" r="1.45" fill="#D55E00" stroke="#161616" stroke-width="0.6"/>
<circle cx="520.32" cy="700.60" r="1.45" fill="#D55E00" stroke="#161616" stroke-width="0.6"/>
<circle cx="519.19" cy="714.50" r="1.45" fill="#D55E00" stroke="#161616" stroke-width="0.6"/>
<circle cx="520.60" cy="717.15" r="1.45" fill="#D55E00" stroke="#161616" stroke-width="0.6"/>
<circle cx="518.44" cy="719.80" r="1.45" fill="#D55E00" stroke="#161616" stroke-width="0.6"/>
<text x="519.88" y="689.40" font-size="6.7" text-anchor="middle" fill="#000" style="color:#000">0.53</text>
<circle cx="531.92" cy="712.50" r="1.45" fill="#CC78BC" stroke="#161616" stroke-width="0.6"/>
<circle cx="533.87" cy="714.86" r="1.45" fill="#CC78BC" stroke="#161616" stroke-width="0.6"/>
<circle cx="531.51" cy="717.21" r="1.45" fill="#CC78BC" stroke="#161616" stroke-width="0.6"/>
<circle cx="533.29" cy="719.57" r="1.45" fill="#CC78BC" stroke="#161616" stroke-width="0.6"/>
<circle cx="531.76" cy="721.93" r="1.45" fill="#CC78BC" stroke="#161616" stroke-width="0.6"/>
<circle cx="533.88" cy="724.29" r="1.45" fill="#CC78BC" stroke="#161616" stroke-width="0.6"/>
<circle cx="531.84" cy="726.64" r="1.45" fill="#CC78BC" stroke="#161616" stroke-width="0.6"/>
<circle cx="533.44" cy="729.00" r="1.45" fill="#CC78BC" stroke="#161616" stroke-width="0.6"/>
<text x="532.43" y="707.60" font-size="6.7" text-anchor="middle" fill="#000" style="color:#000">0.44</text>
<line x1="544.98" x2="544.98" y1="688.00" y2="700.00" stroke="#2a2a2a" stroke-width="0.7"/>
<line x1="543.47" x2="546.48" y1="688.00" y2="688.00" stroke="#2a2a2a" stroke-width="0.7"/>
<line x1="543.47" x2="546.48" y1="700.00" y2="700.00" stroke="#2a2a2a" stroke-width="0.7"/>
<circle cx="544.03" cy="686.10" r="1.45" fill="#CA9161" stroke="#161616" stroke-width="0.6"/>
<circle cx="545.58" cy="697.30" r="1.45" fill="#CA9161" stroke="#161616" stroke-width="0.6"/>
<circle cx="544.35" cy="700.17" r="1.45" fill="#CA9161" stroke="#161616" stroke-width="0.6"/>
<circle cx="546.46" cy="703.03" r="1.45" fill="#CA9161" stroke="#161616" stroke-width="0.6"/>
<circle cx="543.71" cy="705.90" r="1.45" fill="#CA9161" stroke="#161616" stroke-width="0.6"/>
<circle cx="546.18" cy="708.77" r="1.45" fill="#CA9161" stroke="#161616" stroke-width="0.6"/>
<circle cx="543.59" cy="711.63" r="1.45" fill="#CA9161" stroke="#161616" stroke-width="0.6"/>
<circle cx="545.46" cy="714.50" r="1.45" fill="#CA9161" stroke="#161616" stroke-width="0.6"/>
<text x="544.98" y="683.40" font-size="6.7" text-anchor="middle" fill="#000" style="color:#000">0.60</text>
<line x1="557.53" x2="557.53" y1="684.00" y2="700.00" stroke="#2a2a2a" stroke-width="0.7"/>
<line x1="556.02" x2="559.03" y1="684.00" y2="684.00" stroke="#2a2a2a" stroke-width="0.7"/>
<line x1="556.02" x2="559.03" y1="700.00" y2="700.00" stroke="#2a2a2a" stroke-width="0.7"/>
<circle cx="556.36" cy="679.40" r="1.45" fill="#FBAFE4" stroke="#161616" stroke-width="0.6"/>
<circle cx="558.75" cy="680.75" r="1.45" fill="#FBAFE4" stroke="#161616" stroke-width="0.6"/>
<circle cx="556.90" cy="682.10" r="1.45" fill="#FBAFE4" stroke="#161616" stroke-width="0.6"/>
<circle cx="558.42" cy="694.60" r="1.45" fill="#FBAFE4" stroke="#161616" stroke-width="0.6"/>
<circle cx="556.06" cy="696.00" r="1.45" fill="#FBAFE4" stroke="#161616" stroke-width="0.6"/>
<circle cx="558.27" cy="713.10" r="1.45" fill="#FBAFE4" stroke="#161616" stroke-width="0.6"/>
<circle cx="556.29" cy="713.10" r="1.45" fill="#FBAFE4" stroke="#161616" stroke-width="0.6"/>
<text x="557.53" y="678.10" font-size="6.7" text-anchor="middle" fill="#000" style="color:#000">0.69</text>
<circle cx="591.48" cy="714.50" r="1.45" fill="#0173B2" stroke="#161616" stroke-width="0.6"/>
<circle cx="593.17" cy="716.88" r="1.45" fill="#0173B2" stroke="#161616" stroke-width="0.6"/>
<circle cx="591.36" cy="719.26" r="1.45" fill="#0173B2" stroke="#161616" stroke-width="0.6"/>
<circle cx="592.99" cy="721.64" r="1.45" fill="#0173B2" stroke="#161616" stroke-width="0.6"/>
<circle cx="591.25" cy="724.02" r="1.45" fill="#0173B2" stroke="#161616" stroke-width="0.6"/>
<circle cx="593.39" cy="726.40" r="1.45" fill="#0173B2" stroke="#161616" stroke-width="0.6"/>
<circle cx="590.83" cy="737.60" r="1.45" fill="#0173B2" stroke="#161616" stroke-width="0.6"/>
<circle cx="592.98" cy="738.90" r="1.45" fill="#0173B2" stroke="#161616" stroke-width="0.6"/>
<text x="592.04" y="708.90" font-size="6.7" text-anchor="middle" fill="#000" style="color:#000">0.41</text>
<line x1="604.59" x2="604.59" y1="720.50" y2="735.00" stroke="#2a2a2a" stroke-width="0.7"/>
<line x1="603.08" x2="606.10" y1="720.50" y2="720.50" stroke="#2a2a2a" stroke-width="0.7"/>
<line x1="603.08" x2="606.10" y1="735.00" y2="735.00" stroke="#2a2a2a" stroke-width="0.7"/>
<circle cx="603.44" cy="708.50" r="1.45" fill="#DE8F05" stroke="#161616" stroke-width="0.6"/>
<circle cx="605.45" cy="708.50" r="1.45" fill="#DE8F05" stroke="#161616" stroke-width="0.6"/>
<circle cx="603.31" cy="727.00" r="1.45" fill="#DE8F05" stroke="#161616" stroke-width="0.6"/>
<circle cx="605.26" cy="729.00" r="1.45" fill="#DE8F05" stroke="#161616" stroke-width="0.6"/>
<circle cx="603.60" cy="731.00" r="1.45" fill="#DE8F05" stroke="#161616" stroke-width="0.6"/>
<circle cx="605.62" cy="733.00" r="1.45" fill="#DE8F05" stroke="#161616" stroke-width="0.6"/>
<circle cx="603.78" cy="745.50" r="1.45" fill="#DE8F05" stroke="#161616" stroke-width="0.6"/>
<circle cx="605.02" cy="745.50" r="1.45" fill="#DE8F05" stroke="#161616" stroke-width="0.6"/>
<text x="604.59" y="705.90" font-size="6.7" text-anchor="middle" fill="#000" style="color:#000">0.37</text>
<circle cx="616.57" cy="714.50" r="1.45" fill="#029E73" stroke="#161616" stroke-width="0.6"/>
<circle cx="618.24" cy="716.50" r="1.45" fill="#029E73" stroke="#161616" stroke-width="0.6"/>
<circle cx="616.53" cy="724.40" r="1.45" fill="#029E73" stroke="#161616" stroke-width="0.6"/>
<circle cx="618.37" cy="725.93" r="1.45" fill="#029E73" stroke="#161616" stroke-width="0.6"/>
<circle cx="616.20" cy="727.47" r="1.45" fill="#029E73" stroke="#161616" stroke-width="0.6"/>
<circle cx="618.59" cy="729.00" r="1.45" fill="#029E73" stroke="#161616" stroke-width="0.6"/>
<circle cx="615.81" cy="735.00" r="1.45" fill="#029E73" stroke="#161616" stroke-width="0.6"/>
<circle cx="618.33" cy="737.60" r="1.45" fill="#029E73" stroke="#161616" stroke-width="0.6"/>
<text x="617.14" y="711.20" font-size="6.7" text-anchor="middle" fill="#000" style="color:#000">0.39</text>
<circle cx="628.90" cy="694.60" r="1.45" fill="#D55E00" stroke="#161616" stroke-width="0.6"/>
<circle cx="630.12" cy="696.00" r="1.45" fill="#D55E00" stroke="#161616" stroke-width="0.6"/>
<circle cx="628.69" cy="701.30" r="1.45" fill="#D55E00" stroke="#161616" stroke-width="0.6"/>
<circle cx="630.91" cy="703.40" r="1.45" fill="#D55E00" stroke="#161616" stroke-width="0.6"/>
<circle cx="628.28" cy="705.50" r="1.45" fill="#D55E00" stroke="#161616" stroke-width="0.6"/>
<circle cx="630.29" cy="707.60" r="1.45" fill="#D55E00" stroke="#161616" stroke-width="0.6"/>
<circle cx="629.14" cy="709.70" r="1.45" fill="#D55E00" stroke="#161616" stroke-width="0.6"/>
<circle cx="631.17" cy="711.80" r="1.45" fill="#D55E00" stroke="#161616" stroke-width="0.6"/>
<text x="629.69" y="692.30" font-size="6.7" text-anchor="middle" fill="#000" style="color:#000">0.57</text>
<circle cx="641.04" cy="684.10" r="1.45" fill="#CC78BC" stroke="#161616" stroke-width="0.6"/>
<circle cx="643.16" cy="685.20" r="1.45" fill="#CC78BC" stroke="#161616" stroke-width="0.6"/>
<circle cx="641.04" cy="686.30" r="1.45" fill="#CC78BC" stroke="#161616" stroke-width="0.6"/>
<circle cx="642.79" cy="687.40" r="1.45" fill="#CC78BC" stroke="#161616" stroke-width="0.6"/>
<text x="642.24" y="678.50" font-size="6.7" text-anchor="middle" fill="#000" style="color:#000">0.73</text>
<circle cx="653.81" cy="684.70" r="1.45" fill="#CA9161" stroke="#161616" stroke-width="0.6"/>
<circle cx="655.92" cy="686.80" r="1.45" fill="#CA9161" stroke="#161616" stroke-width="0.6"/>
<circle cx="653.74" cy="688.90" r="1.45" fill="#CA9161" stroke="#161616" stroke-width="0.6"/>
<circle cx="655.35" cy="691.00" r="1.45" fill="#CA9161" stroke="#161616" stroke-width="0.6"/>
<circle cx="654.26" cy="693.10" r="1.45" fill="#CA9161" stroke="#161616" stroke-width="0.6"/>
<circle cx="655.87" cy="695.20" r="1.45" fill="#CA9161" stroke="#161616" stroke-width="0.6"/>
<circle cx="653.42" cy="697.30" r="1.45" fill="#CA9161" stroke="#161616" stroke-width="0.6"/>
<text x="654.79" y="679.40" font-size="6.7" text-anchor="middle" fill="#000" style="color:#000">0.69</text>
<circle cx="666.81" cy="676.10" r="1.45" fill="#FBAFE4" stroke="#161616" stroke-width="0.6"/>
<circle cx="667.73" cy="677.20" r="1.45" fill="#FBAFE4" stroke="#161616" stroke-width="0.6"/>
<circle cx="666.87" cy="678.30" r="1.45" fill="#FBAFE4" stroke="#161616" stroke-width="0.6"/>
<circle cx="668.60" cy="679.40" r="1.45" fill="#FBAFE4" stroke="#161616" stroke-width="0.6"/>
<text x="667.34" y="670.20" font-size="6.7" text-anchor="middle" fill="#000" style="color:#000">0.79</text>
<text x="21.6" y="776.10" font-size="8.15" text-anchor="end" fill="#1a1a1a" style="color:#1a1a1a">0.0</text>
<text x="21.6" y="752.16" font-size="8.15" text-anchor="end" fill="#1a1a1a" style="color:#1a1a1a">0.2</text>
<text x="21.6" y="728.22" font-size="8.15" text-anchor="end" fill="#1a1a1a" style="color:#1a1a1a">0.4</text>
<text x="21.6" y="704.28" font-size="8.15" text-anchor="end" fill="#1a1a1a" style="color:#1a1a1a">0.6</text>
<text x="21.6" y="680.34" font-size="8.15" text-anchor="end" fill="#1a1a1a" style="color:#1a1a1a">0.8</text>
<text x="21.6" y="656.40" font-size="8.15" text-anchor="end" fill="#1a1a1a" style="color:#1a1a1a">1.0</text>
<text x="80.61" y="783.60" font-size="8.15" text-anchor="middle" fill="#1a1a1a" style="color:#1a1a1a">Acromegaly</text>
<text x="80.61" y="792.20" font-size="8.15" text-anchor="middle" fill="#1a1a1a" style="color:#1a1a1a">(GH excess)</text>
<text x="190.42" y="783.60" font-size="8.15" text-anchor="middle" fill="#1a1a1a" style="color:#1a1a1a">Cushing Syndrome</text>
<text x="300.24" y="783.60" font-size="8.15" text-anchor="middle" fill="#1a1a1a" style="color:#1a1a1a">PCOS</text>
<text x="410.06" y="783.60" font-size="8.15" text-anchor="middle" fill="#1a1a1a" style="color:#1a1a1a">Hypothyroidism</text>
<text x="519.88" y="783.60" font-size="8.15" text-anchor="middle" fill="#1a1a1a" style="color:#1a1a1a">Coronary</text>
<text x="519.88" y="792.20" font-size="8.15" text-anchor="middle" fill="#1a1a1a" style="color:#1a1a1a">Artery Disease</text>
<text x="629.69" y="783.60" font-size="8.15" text-anchor="middle" fill="#1a1a1a" style="color:#1a1a1a">Osteoporosis/</text>
<text x="629.69" y="792.20" font-size="8.15" text-anchor="middle" fill="#1a1a1a" style="color:#1a1a1a">Sarcopenia</text>
<text transform="translate(6.4 713.35) rotate(-90)" font-size="8.15" text-anchor="middle" fill="#1a1a1a" style="color:#1a1a1a">Mean balanced accuracy</text>
<text x="38.8" y="661.80" font-size="8.2" font-weight="bold" fill="#222" style="color:#222;stroke-width:0.1px">(e)</text>
</svg></body></html>
